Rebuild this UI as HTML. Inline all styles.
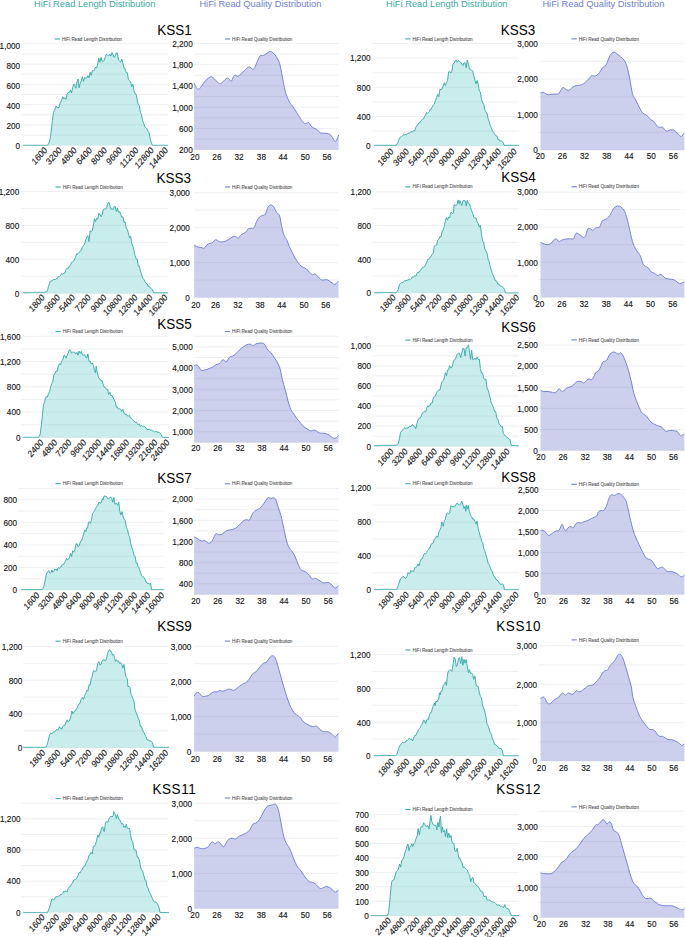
<!DOCTYPE html>
<html><head><meta charset="utf-8"><style>
html,body{margin:0;padding:0;background:#fff;}
body{width:685px;height:937px;overflow:hidden;}
svg{display:block;font-family:"Liberation Sans",sans-serif;}
.t{font-size:8.2px;fill:#111111;stroke:#111;stroke-width:0.12px;}
.lg{font-size:4.6px;fill:#4a4a4a;stroke:#4a4a4a;stroke-width:0.06px;}
.ti{font-size:13.5px;fill:#000;}
.hd{font-size:9.3px;}
</style></head><body>
<svg width="685" height="937" viewBox="0 0 685 937">
<text x="34" y="7.1" class="hd" fill="#3aa9a6">HiFi Read Length Distribution</text>
<text x="199.4" y="7.1" class="hd" fill="#6c7fd0">HiFi Read Quality Distribution</text>
<text x="386.1" y="7.1" class="hd" fill="#3aa9a6">HiFi Read Length Distribution</text>
<text x="542.4" y="7.1" class="hd" fill="#6c7fd0">HiFi Read Quality Distribution</text>
<text transform="translate(174.5,34.7) scale(1,1.15)" text-anchor="middle" class="ti">KSS1</text>
<text transform="translate(517.9,34.6) scale(1,1.15)" text-anchor="middle" class="ti">KSS3</text>
<text transform="translate(173.8,182.8) scale(1,1.15)" text-anchor="middle" class="ti">KSS3</text>
<text transform="translate(518.5,182.2) scale(1,1.15)" text-anchor="middle" class="ti">KSS4</text>
<text transform="translate(174.6,329.4) scale(1,1.15)" text-anchor="middle" class="ti">KSS5</text>
<text transform="translate(518.5,332.3) scale(1,1.15)" text-anchor="middle" class="ti">KSS6</text>
<text transform="translate(174.6,482.8) scale(1,1.15)" text-anchor="middle" class="ti">KSS7</text>
<text transform="translate(518.5,482.3) scale(1,1.15)" text-anchor="middle" class="ti">KSS8</text>
<text transform="translate(174.5,630.6) scale(1,1.15)" text-anchor="middle" class="ti">KSS9</text>
<text transform="translate(518.7,631.3) scale(1,1.15)" text-anchor="middle" class="ti" style="letter-spacing:0.55px">KSS10</text>
<text transform="translate(174.4,794.1) scale(1,1.15)" text-anchor="middle" class="ti" style="letter-spacing:0.55px">KSS11</text>
<text transform="translate(518.7,794.2) scale(1,1.15)" text-anchor="middle" class="ti" style="letter-spacing:0.55px">KSS12</text>
<line x1="21.3" x2="168.0" y1="43.70" y2="43.70" stroke="#f0f0f0" stroke-width="1"/>
<line x1="21.3" x2="168.0" y1="53.86" y2="53.86" stroke="#f0f0f0" stroke-width="1"/>
<line x1="21.3" x2="168.0" y1="64.02" y2="64.02" stroke="#f0f0f0" stroke-width="1"/>
<line x1="21.3" x2="168.0" y1="74.18" y2="74.18" stroke="#f0f0f0" stroke-width="1"/>
<line x1="21.3" x2="168.0" y1="84.34" y2="84.34" stroke="#f0f0f0" stroke-width="1"/>
<line x1="21.3" x2="168.0" y1="94.50" y2="94.50" stroke="#f0f0f0" stroke-width="1"/>
<line x1="21.3" x2="168.0" y1="104.66" y2="104.66" stroke="#f0f0f0" stroke-width="1"/>
<line x1="21.3" x2="168.0" y1="114.82" y2="114.82" stroke="#f0f0f0" stroke-width="1"/>
<line x1="21.3" x2="168.0" y1="124.98" y2="124.98" stroke="#f0f0f0" stroke-width="1"/>
<line x1="21.3" x2="168.0" y1="135.14" y2="135.14" stroke="#f0f0f0" stroke-width="1"/>
<line x1="21.3" x2="168.0" y1="145.30" y2="145.30" stroke="#f0f0f0" stroke-width="1"/>
<path d="M23.3,145.3 L23.3,145.3 L24.3,145.3 L25.3,145.3 L26.3,145.3 L27.3,145.3 L28.3,145.3 L29.3,145.3 L30.3,145.3 L31.3,145.3 L32.3,145.3 L33.3,145.3 L34.3,145.3 L35.3,145.3 L36.3,145.3 L37.3,145.3 L38.3,145.3 L39.3,145.3 L40.3,145.3 L41.4,145.3 L42.4,145.3 L43.4,145.3 L44.4,145.3 L45.4,145.3 L46.4,145.3 L47.4,145.3 L48.1,144.2 L48.9,143.5 L50.2,138.4 L51.3,130.0 L52.4,120.5 L53.5,112.3 L54.6,110.3 L55.4,107.7 L56.1,105.9 L57.1,107.7 L58.0,107.4 L59.0,107.7 L60.1,102.5 L60.8,102.1 L61.6,100.3 L62.7,96.8 L63.8,99.0 L64.9,97.6 L66.0,99.4 L67.1,94.1 L68.2,92.5 L69.3,92.4 L70.4,89.8 L71.5,93.0 L72.6,87.8 L73.6,84.3 L74.7,84.5 L75.8,88.3 L76.9,82.0 L78.0,79.0 L79.1,87.9 L80.2,83.0 L81.3,80.8 L82.4,76.7 L83.5,81.4 L84.6,77.3 L85.7,78.2 L86.8,78.1 L87.9,75.6 L89.0,77.9 L90.1,72.2 L91.2,75.3 L92.3,70.7 L93.4,70.9 L94.5,69.7 L95.5,67.1 L96.6,68.2 L97.7,63.8 L98.8,58.0 L99.9,62.3 L101.0,57.5 L102.1,61.3 L103.2,61.1 L104.3,60.4 L105.4,56.4 L106.5,54.1 L107.6,55.0 L108.7,55.8 L109.8,54.1 L110.9,56.1 L112.0,52.5 L113.1,54.9 L114.2,57.6 L115.3,55.8 L116.4,52.8 L117.4,53.0 L118.5,60.2 L119.6,61.2 L120.7,61.9 L121.8,59.2 L122.9,62.9 L124.0,68.2 L125.1,68.7 L126.2,72.4 L127.3,72.7 L128.4,79.6 L129.5,80.5 L130.6,82.1 L131.7,86.8 L132.8,84.1 L133.9,90.5 L135.0,93.5 L136.1,94.3 L137.2,99.9 L138.2,104.1 L139.3,105.6 L140.4,112.2 L141.5,114.7 L142.6,120.7 L143.7,123.3 L144.8,126.7 L145.9,127.9 L147.0,128.9 L148.1,131.4 L149.2,133.2 L150.3,139.4 L151.4,142.8 L152.5,145.3 L153.5,145.3 L154.5,145.3 L155.5,145.3 L156.6,145.3 L157.6,145.3 L158.6,145.3 L159.6,145.3 L160.7,145.3 L161.7,145.3 L162.7,145.3 L163.7,145.3 L164.7,145.3 L165.8,145.3 L166.8,145.3 L167.8,145.3 L167.8,145.3 Z" fill="rgba(75,192,192,0.3)" stroke="none"/>
<path d="M23.3,145.3 L24.3,145.3 L25.3,145.3 L26.3,145.3 L27.3,145.3 L28.3,145.3 L29.3,145.3 L30.3,145.3 L31.3,145.3 L32.3,145.3 L33.3,145.3 L34.3,145.3 L35.3,145.3 L36.3,145.3 L37.3,145.3 L38.3,145.3 L39.3,145.3 L40.3,145.3 L41.4,145.3 L42.4,145.3 L43.4,145.3 L44.4,145.3 L45.4,145.3 L46.4,145.3 L47.4,145.3 L48.1,144.2 L48.9,143.5 L50.2,138.4 L51.3,130.0 L52.4,120.5 L53.5,112.3 L54.6,110.3 L55.4,107.7 L56.1,105.9 L57.1,107.7 L58.0,107.4 L59.0,107.7 L60.1,102.5 L60.8,102.1 L61.6,100.3 L62.7,96.8 L63.8,99.0 L64.9,97.6 L66.0,99.4 L67.1,94.1 L68.2,92.5 L69.3,92.4 L70.4,89.8 L71.5,93.0 L72.6,87.8 L73.6,84.3 L74.7,84.5 L75.8,88.3 L76.9,82.0 L78.0,79.0 L79.1,87.9 L80.2,83.0 L81.3,80.8 L82.4,76.7 L83.5,81.4 L84.6,77.3 L85.7,78.2 L86.8,78.1 L87.9,75.6 L89.0,77.9 L90.1,72.2 L91.2,75.3 L92.3,70.7 L93.4,70.9 L94.5,69.7 L95.5,67.1 L96.6,68.2 L97.7,63.8 L98.8,58.0 L99.9,62.3 L101.0,57.5 L102.1,61.3 L103.2,61.1 L104.3,60.4 L105.4,56.4 L106.5,54.1 L107.6,55.0 L108.7,55.8 L109.8,54.1 L110.9,56.1 L112.0,52.5 L113.1,54.9 L114.2,57.6 L115.3,55.8 L116.4,52.8 L117.4,53.0 L118.5,60.2 L119.6,61.2 L120.7,61.9 L121.8,59.2 L122.9,62.9 L124.0,68.2 L125.1,68.7 L126.2,72.4 L127.3,72.7 L128.4,79.6 L129.5,80.5 L130.6,82.1 L131.7,86.8 L132.8,84.1 L133.9,90.5 L135.0,93.5 L136.1,94.3 L137.2,99.9 L138.2,104.1 L139.3,105.6 L140.4,112.2 L141.5,114.7 L142.6,120.7 L143.7,123.3 L144.8,126.7 L145.9,127.9 L147.0,128.9 L148.1,131.4 L149.2,133.2 L150.3,139.4 L151.4,142.8 L152.5,145.3 L153.5,145.3 L154.5,145.3 L155.5,145.3 L156.6,145.3 L157.6,145.3 L158.6,145.3 L159.6,145.3 L160.7,145.3 L161.7,145.3 L162.7,145.3 L163.7,145.3 L164.7,145.3 L165.8,145.3 L166.8,145.3 L167.8,145.3" fill="none" stroke="#3aaca9" stroke-width="0.95" stroke-linejoin="round"/>
<text transform="translate(20.1,49.34) scale(1,1.15)" text-anchor="end" class="t">1,000</text>
<text transform="translate(20.1,69.30) scale(1,1.15)" text-anchor="end" class="t">800</text>
<text transform="translate(20.1,89.27) scale(1,1.15)" text-anchor="end" class="t">600</text>
<text transform="translate(20.1,109.24) scale(1,1.15)" text-anchor="end" class="t">400</text>
<text transform="translate(20.1,129.22) scale(1,1.15)" text-anchor="end" class="t">200</text>
<text transform="translate(20.1,149.19) scale(1,1.15)" text-anchor="end" class="t">0</text>
<text transform="translate(47.8,150.7) scale(1,1.15) rotate(-45)" text-anchor="end" class="t">1600</text>
<text transform="translate(62.2,150.7) scale(1,1.15) rotate(-45)" text-anchor="end" class="t">3200</text>
<text transform="translate(77.2,150.7) scale(1,1.15) rotate(-45)" text-anchor="end" class="t">4800</text>
<text transform="translate(92.5,150.7) scale(1,1.15) rotate(-45)" text-anchor="end" class="t">6400</text>
<text transform="translate(107.5,150.7) scale(1,1.15) rotate(-45)" text-anchor="end" class="t">8000</text>
<text transform="translate(122.5,150.7) scale(1,1.15) rotate(-45)" text-anchor="end" class="t">9600</text>
<text transform="translate(139.0,150.7) scale(1,1.15) rotate(-45)" text-anchor="end" class="t">11200</text>
<text transform="translate(154.2,150.7) scale(1,1.15) rotate(-45)" text-anchor="end" class="t">12800</text>
<text transform="translate(168.5,150.7) scale(1,1.15) rotate(-45)" text-anchor="end" class="t">14400</text>
<line x1="54.8" x2="60.0" y1="39.0" y2="39.0" stroke="#3aaca9" stroke-width="1.1"/>
<text x="62.0" y="40.6" class="lg">HiFi Read Length Distribution</text>
<line x1="194.1" x2="338.7" y1="43.40" y2="43.40" stroke="#f0f0f0" stroke-width="1"/>
<line x1="194.1" x2="338.7" y1="54.04" y2="54.04" stroke="#f0f0f0" stroke-width="1"/>
<line x1="194.1" x2="338.7" y1="64.68" y2="64.68" stroke="#f0f0f0" stroke-width="1"/>
<line x1="194.1" x2="338.7" y1="75.32" y2="75.32" stroke="#f0f0f0" stroke-width="1"/>
<line x1="194.1" x2="338.7" y1="85.96" y2="85.96" stroke="#f0f0f0" stroke-width="1"/>
<line x1="194.1" x2="338.7" y1="96.60" y2="96.60" stroke="#f0f0f0" stroke-width="1"/>
<line x1="194.1" x2="338.7" y1="107.24" y2="107.24" stroke="#f0f0f0" stroke-width="1"/>
<line x1="194.1" x2="338.7" y1="117.88" y2="117.88" stroke="#f0f0f0" stroke-width="1"/>
<line x1="194.1" x2="338.7" y1="128.52" y2="128.52" stroke="#f0f0f0" stroke-width="1"/>
<line x1="194.1" x2="338.7" y1="139.16" y2="139.16" stroke="#f0f0f0" stroke-width="1"/>
<line x1="194.1" x2="338.7" y1="149.80" y2="149.80" stroke="#f0f0f0" stroke-width="1"/>
<path d="M194.1,149.8 L194.07,82.99 C194.45,83.75 195.58,86.46 196.34,87.52 C197.09,88.57 197.77,89.52 198.60,89.33 C199.43,89.14 200.11,87.90 201.31,86.39 C202.52,84.88 204.33,81.86 205.84,80.28 C207.35,78.69 209.23,77.37 210.36,76.88 C211.50,76.39 211.68,76.69 212.63,77.34 C213.57,77.98 214.89,79.67 216.02,80.73 C217.15,81.79 218.47,83.29 219.42,83.67 C220.36,84.05 220.74,83.67 221.68,82.99 C222.62,82.31 224.13,80.43 225.07,79.60 C226.02,78.77 226.58,78.01 227.34,78.01 C228.09,78.01 228.92,79.07 229.60,79.60 C230.28,80.13 230.77,81.67 231.41,81.18 C232.05,80.69 232.80,77.68 233.45,76.66 C234.09,75.64 234.58,75.15 235.26,75.07 C235.93,75.00 236.76,76.20 237.52,76.20 C238.27,76.20 238.84,75.83 239.78,75.07 C240.72,74.32 241.86,72.92 243.18,71.68 C244.50,70.43 246.57,68.36 247.70,67.61 C248.83,66.85 249.21,66.93 249.96,67.15 C250.72,67.38 251.47,68.77 252.23,68.96 C252.98,69.15 253.73,69.34 254.49,68.28 C255.24,67.23 255.81,64.70 256.75,62.63 C257.69,60.55 259.01,57.05 260.15,55.84 C261.28,54.63 262.60,55.69 263.54,55.39 C264.48,55.09 264.86,54.63 265.80,54.03 C266.75,53.43 268.25,52.14 269.20,51.77 C270.14,51.39 270.52,51.28 271.46,51.77 C272.40,52.26 273.91,53.65 274.85,54.71 C275.80,55.76 276.36,56.78 277.12,58.10 C277.87,59.42 278.63,60.18 279.38,62.63 C280.13,65.08 280.89,69.04 281.64,72.81 C282.40,76.58 283.15,81.67 283.91,85.26 C284.66,88.84 285.23,91.48 286.17,94.31 C287.11,97.14 288.43,100.15 289.56,102.23 C290.69,104.30 291.82,105.13 292.96,106.75 C294.09,108.37 295.03,109.88 296.35,111.96 C297.67,114.03 299.56,117.31 300.88,119.20 C302.20,121.08 303.33,122.59 304.27,123.27 C305.21,123.95 305.78,123.38 306.53,123.27 C307.29,123.16 308.04,122.14 308.80,122.59 C309.55,123.04 310.30,125.12 311.06,125.99 C311.81,126.85 312.38,127.23 313.32,127.80 C314.26,128.36 315.58,128.55 316.72,129.38 C317.85,130.21 318.98,132.13 320.11,132.77 C321.24,133.41 322.37,133.11 323.50,133.23 C324.64,133.34 325.77,133.23 326.90,133.45 C328.03,133.68 329.35,133.87 330.29,134.58 C331.23,135.30 331.80,136.62 332.55,137.75 C333.31,138.88 334.14,141.00 334.82,141.37 C335.50,141.75 335.99,141.07 336.63,140.01 C337.27,138.96 338.32,135.87 338.66,135.04 L338.7,149.8 Z" fill="rgba(85,98,195,0.3)" stroke="none"/>
<path d="M194.07,82.99 C194.45,83.75 195.58,86.46 196.34,87.52 C197.09,88.57 197.77,89.52 198.60,89.33 C199.43,89.14 200.11,87.90 201.31,86.39 C202.52,84.88 204.33,81.86 205.84,80.28 C207.35,78.69 209.23,77.37 210.36,76.88 C211.50,76.39 211.68,76.69 212.63,77.34 C213.57,77.98 214.89,79.67 216.02,80.73 C217.15,81.79 218.47,83.29 219.42,83.67 C220.36,84.05 220.74,83.67 221.68,82.99 C222.62,82.31 224.13,80.43 225.07,79.60 C226.02,78.77 226.58,78.01 227.34,78.01 C228.09,78.01 228.92,79.07 229.60,79.60 C230.28,80.13 230.77,81.67 231.41,81.18 C232.05,80.69 232.80,77.68 233.45,76.66 C234.09,75.64 234.58,75.15 235.26,75.07 C235.93,75.00 236.76,76.20 237.52,76.20 C238.27,76.20 238.84,75.83 239.78,75.07 C240.72,74.32 241.86,72.92 243.18,71.68 C244.50,70.43 246.57,68.36 247.70,67.61 C248.83,66.85 249.21,66.93 249.96,67.15 C250.72,67.38 251.47,68.77 252.23,68.96 C252.98,69.15 253.73,69.34 254.49,68.28 C255.24,67.23 255.81,64.70 256.75,62.63 C257.69,60.55 259.01,57.05 260.15,55.84 C261.28,54.63 262.60,55.69 263.54,55.39 C264.48,55.09 264.86,54.63 265.80,54.03 C266.75,53.43 268.25,52.14 269.20,51.77 C270.14,51.39 270.52,51.28 271.46,51.77 C272.40,52.26 273.91,53.65 274.85,54.71 C275.80,55.76 276.36,56.78 277.12,58.10 C277.87,59.42 278.63,60.18 279.38,62.63 C280.13,65.08 280.89,69.04 281.64,72.81 C282.40,76.58 283.15,81.67 283.91,85.26 C284.66,88.84 285.23,91.48 286.17,94.31 C287.11,97.14 288.43,100.15 289.56,102.23 C290.69,104.30 291.82,105.13 292.96,106.75 C294.09,108.37 295.03,109.88 296.35,111.96 C297.67,114.03 299.56,117.31 300.88,119.20 C302.20,121.08 303.33,122.59 304.27,123.27 C305.21,123.95 305.78,123.38 306.53,123.27 C307.29,123.16 308.04,122.14 308.80,122.59 C309.55,123.04 310.30,125.12 311.06,125.99 C311.81,126.85 312.38,127.23 313.32,127.80 C314.26,128.36 315.58,128.55 316.72,129.38 C317.85,130.21 318.98,132.13 320.11,132.77 C321.24,133.41 322.37,133.11 323.50,133.23 C324.64,133.34 325.77,133.23 326.90,133.45 C328.03,133.68 329.35,133.87 330.29,134.58 C331.23,135.30 331.80,136.62 332.55,137.75 C333.31,138.88 334.14,141.00 334.82,141.37 C335.50,141.75 335.99,141.07 336.63,140.01 C337.27,138.96 338.32,135.87 338.66,135.04" fill="none" stroke="#6e80d3" stroke-width="0.95" stroke-linejoin="round"/>
<text transform="translate(192.7,46.74) scale(1,1.15)" text-anchor="end" class="t">2,200</text>
<text transform="translate(192.7,68.02) scale(1,1.15)" text-anchor="end" class="t">1,800</text>
<text transform="translate(192.7,89.30) scale(1,1.15)" text-anchor="end" class="t">1,400</text>
<text transform="translate(192.7,110.58) scale(1,1.15)" text-anchor="end" class="t">1,000</text>
<text transform="translate(192.7,131.86) scale(1,1.15)" text-anchor="end" class="t">600</text>
<text transform="translate(192.7,153.14) scale(1,1.15)" text-anchor="end" class="t">200</text>
<text transform="translate(194.9,159.88) scale(1,1.15)" text-anchor="middle" class="t">20</text>
<text transform="translate(216.9,159.88) scale(1,1.15)" text-anchor="middle" class="t">26</text>
<text transform="translate(239.0,159.88) scale(1,1.15)" text-anchor="middle" class="t">32</text>
<text transform="translate(261.4,159.88) scale(1,1.15)" text-anchor="middle" class="t">38</text>
<text transform="translate(283.1,159.88) scale(1,1.15)" text-anchor="middle" class="t">44</text>
<text transform="translate(305.3,159.88) scale(1,1.15)" text-anchor="middle" class="t">50</text>
<text transform="translate(327.0,159.88) scale(1,1.15)" text-anchor="middle" class="t">56</text>
<line x1="224.9" x2="230.1" y1="39.0" y2="39.0" stroke="#6e80d3" stroke-width="1.1"/>
<text x="232.1" y="40.6" class="lg">HiFi Read Quality Distribution</text>
<line x1="372.6" x2="518.7" y1="43.50" y2="43.50" stroke="#f0f0f0" stroke-width="1"/>
<line x1="372.6" x2="518.7" y1="58.10" y2="58.10" stroke="#f0f0f0" stroke-width="1"/>
<line x1="372.6" x2="518.7" y1="72.70" y2="72.70" stroke="#f0f0f0" stroke-width="1"/>
<line x1="372.6" x2="518.7" y1="87.30" y2="87.30" stroke="#f0f0f0" stroke-width="1"/>
<line x1="372.6" x2="518.7" y1="101.90" y2="101.90" stroke="#f0f0f0" stroke-width="1"/>
<line x1="372.6" x2="518.7" y1="116.50" y2="116.50" stroke="#f0f0f0" stroke-width="1"/>
<line x1="372.6" x2="518.7" y1="131.10" y2="131.10" stroke="#f0f0f0" stroke-width="1"/>
<line x1="372.6" x2="518.7" y1="145.70" y2="145.70" stroke="#f0f0f0" stroke-width="1"/>
<path d="M374.2,145.7 L374.2,145.3 L375.2,145.3 L376.2,145.3 L377.2,145.3 L378.2,145.3 L379.2,145.3 L380.2,145.3 L381.2,145.3 L382.2,145.3 L383.1,145.3 L384.1,145.3 L385.1,145.3 L386.1,145.3 L387.1,145.3 L388.1,145.3 L389.1,145.3 L390.1,145.3 L391.1,145.3 L392.1,145.3 L393.1,145.3 L394.1,145.3 L395.1,145.3 L396.1,145.3 L397.0,144.0 L397.8,142.6 L398.6,140.4 L399.4,138.3 L400.5,137.0 L401.6,136.6 L402.7,135.4 L403.8,134.5 L404.8,135.0 L405.9,134.4 L407.0,134.4 L408.1,133.1 L409.2,133.1 L410.3,132.6 L411.4,131.1 L412.5,132.1 L413.6,130.6 L414.7,130.8 L415.8,127.4 L416.9,125.5 L418.0,124.6 L419.1,122.5 L420.2,122.4 L421.3,120.4 L422.4,119.6 L423.5,119.0 L424.6,116.5 L425.6,114.8 L426.7,112.3 L427.6,113.5 L428.5,112.5 L429.3,111.7 L430.0,109.4 L431.1,109.4 L432.2,106.9 L433.3,105.0 L434.4,104.0 L435.5,100.1 L436.6,97.7 L437.7,94.2 L438.8,96.7 L439.9,89.3 L441.0,89.7 L442.1,88.9 L443.2,86.1 L444.3,82.7 L445.4,85.5 L446.5,82.2 L447.5,80.8 L448.6,71.9 L449.7,71.2 L450.8,73.0 L451.9,71.2 L453.0,64.1 L454.1,63.0 L455.2,60.9 L456.3,60.2 L457.4,62.4 L458.5,60.5 L459.6,61.4 L460.7,62.1 L461.8,64.1 L462.9,65.7 L464.0,62.8 L465.1,62.9 L466.2,67.8 L467.3,60.0 L468.4,64.1 L469.4,69.1 L470.5,69.5 L471.6,70.4 L472.7,70.9 L473.8,75.6 L474.9,80.3 L476.0,83.9 L477.1,80.5 L478.2,84.3 L479.3,91.1 L480.4,92.0 L481.5,99.3 L482.6,102.8 L483.7,104.3 L484.8,109.7 L485.9,111.8 L487.0,113.0 L488.1,118.8 L489.2,121.4 L490.2,125.1 L491.3,127.7 L492.4,131.0 L493.5,132.2 L494.6,133.8 L495.7,135.7 L496.8,136.0 L497.9,139.4 L499.0,139.3 L500.1,141.1 L501.2,141.0 L502.3,141.6 L503.4,143.0 L504.0,145.3 L505.0,145.3 L506.0,145.3 L507.0,145.3 L508.0,145.3 L508.9,145.3 L509.9,145.3 L510.9,145.3 L511.9,145.3 L512.8,145.3 L513.8,145.3 L514.8,145.3 L515.8,145.3 L516.8,145.3 L517.7,145.3 L518.7,145.3 L518.7,145.7 Z" fill="rgba(75,192,192,0.3)" stroke="none"/>
<path d="M374.2,145.3 L375.2,145.3 L376.2,145.3 L377.2,145.3 L378.2,145.3 L379.2,145.3 L380.2,145.3 L381.2,145.3 L382.2,145.3 L383.1,145.3 L384.1,145.3 L385.1,145.3 L386.1,145.3 L387.1,145.3 L388.1,145.3 L389.1,145.3 L390.1,145.3 L391.1,145.3 L392.1,145.3 L393.1,145.3 L394.1,145.3 L395.1,145.3 L396.1,145.3 L397.0,144.0 L397.8,142.6 L398.6,140.4 L399.4,138.3 L400.5,137.0 L401.6,136.6 L402.7,135.4 L403.8,134.5 L404.8,135.0 L405.9,134.4 L407.0,134.4 L408.1,133.1 L409.2,133.1 L410.3,132.6 L411.4,131.1 L412.5,132.1 L413.6,130.6 L414.7,130.8 L415.8,127.4 L416.9,125.5 L418.0,124.6 L419.1,122.5 L420.2,122.4 L421.3,120.4 L422.4,119.6 L423.5,119.0 L424.6,116.5 L425.6,114.8 L426.7,112.3 L427.6,113.5 L428.5,112.5 L429.3,111.7 L430.0,109.4 L431.1,109.4 L432.2,106.9 L433.3,105.0 L434.4,104.0 L435.5,100.1 L436.6,97.7 L437.7,94.2 L438.8,96.7 L439.9,89.3 L441.0,89.7 L442.1,88.9 L443.2,86.1 L444.3,82.7 L445.4,85.5 L446.5,82.2 L447.5,80.8 L448.6,71.9 L449.7,71.2 L450.8,73.0 L451.9,71.2 L453.0,64.1 L454.1,63.0 L455.2,60.9 L456.3,60.2 L457.4,62.4 L458.5,60.5 L459.6,61.4 L460.7,62.1 L461.8,64.1 L462.9,65.7 L464.0,62.8 L465.1,62.9 L466.2,67.8 L467.3,60.0 L468.4,64.1 L469.4,69.1 L470.5,69.5 L471.6,70.4 L472.7,70.9 L473.8,75.6 L474.9,80.3 L476.0,83.9 L477.1,80.5 L478.2,84.3 L479.3,91.1 L480.4,92.0 L481.5,99.3 L482.6,102.8 L483.7,104.3 L484.8,109.7 L485.9,111.8 L487.0,113.0 L488.1,118.8 L489.2,121.4 L490.2,125.1 L491.3,127.7 L492.4,131.0 L493.5,132.2 L494.6,133.8 L495.7,135.7 L496.8,136.0 L497.9,139.4 L499.0,139.3 L500.1,141.1 L501.2,141.0 L502.3,141.6 L503.4,143.0 L504.0,145.3 L505.0,145.3 L506.0,145.3 L507.0,145.3 L508.0,145.3 L508.9,145.3 L509.9,145.3 L510.9,145.3 L511.9,145.3 L512.8,145.3 L513.8,145.3 L514.8,145.3 L515.8,145.3 L516.8,145.3 L517.7,145.3 L518.7,145.3" fill="none" stroke="#3aaca9" stroke-width="0.95" stroke-linejoin="round"/>
<text transform="translate(370.5,61.43) scale(1,1.15)" text-anchor="end" class="t">1,200</text>
<text transform="translate(370.5,90.63) scale(1,1.15)" text-anchor="end" class="t">800</text>
<text transform="translate(370.5,119.83) scale(1,1.15)" text-anchor="end" class="t">400</text>
<text transform="translate(370.5,149.03) scale(1,1.15)" text-anchor="end" class="t">0</text>
<text transform="translate(394.0,152.0) scale(1,1.15) rotate(-45)" text-anchor="end" class="t">1800</text>
<text transform="translate(409.4,152.0) scale(1,1.15) rotate(-45)" text-anchor="end" class="t">3600</text>
<text transform="translate(424.7,152.0) scale(1,1.15) rotate(-45)" text-anchor="end" class="t">5400</text>
<text transform="translate(439.5,152.0) scale(1,1.15) rotate(-45)" text-anchor="end" class="t">7200</text>
<text transform="translate(454.9,152.0) scale(1,1.15) rotate(-45)" text-anchor="end" class="t">9000</text>
<text transform="translate(470.7,152.0) scale(1,1.15) rotate(-45)" text-anchor="end" class="t">10800</text>
<text transform="translate(487.3,152.0) scale(1,1.15) rotate(-45)" text-anchor="end" class="t">12600</text>
<text transform="translate(501.4,152.0) scale(1,1.15) rotate(-45)" text-anchor="end" class="t">14400</text>
<text transform="translate(517.2,152.0) scale(1,1.15) rotate(-45)" text-anchor="end" class="t">16200</text>
<line x1="405.3" x2="410.5" y1="38.9" y2="38.9" stroke="#3aaca9" stroke-width="1.1"/>
<text x="412.5" y="40.5" class="lg">HiFi Read Length Distribution</text>
<line x1="538.6" x2="685.0" y1="43.60" y2="43.60" stroke="#f0f0f0" stroke-width="1"/>
<line x1="538.6" x2="685.0" y1="61.35" y2="61.35" stroke="#f0f0f0" stroke-width="1"/>
<line x1="538.6" x2="685.0" y1="79.10" y2="79.10" stroke="#f0f0f0" stroke-width="1"/>
<line x1="538.6" x2="685.0" y1="96.85" y2="96.85" stroke="#f0f0f0" stroke-width="1"/>
<line x1="538.6" x2="685.0" y1="114.60" y2="114.60" stroke="#f0f0f0" stroke-width="1"/>
<line x1="538.6" x2="685.0" y1="132.35" y2="132.35" stroke="#f0f0f0" stroke-width="1"/>
<line x1="538.6" x2="685.0" y1="150.10" y2="150.10" stroke="#f0f0f0" stroke-width="1"/>
<path d="M540.5,150.1 L540.47,93.05 C540.91,92.92 542.23,92.18 543.10,92.26 C543.98,92.35 544.85,93.14 545.73,93.58 C546.61,94.01 547.26,94.80 548.36,94.89 C549.45,94.98 550.99,94.23 552.30,94.10 C553.61,93.97 555.15,94.19 556.24,94.10 C557.34,94.01 558.12,94.19 558.87,93.58 C559.61,92.96 560.05,91.43 560.71,90.42 C561.36,89.42 562.02,87.80 562.81,87.53 C563.60,87.27 564.56,88.36 565.44,88.85 C566.31,89.33 567.28,90.29 568.07,90.42 C568.85,90.55 569.38,90.20 570.17,89.64 C570.96,89.07 571.83,87.66 572.80,87.01 C573.76,86.35 574.77,86.00 575.95,85.69 C577.13,85.39 578.80,85.39 579.89,85.17 C580.99,84.95 581.64,84.82 582.52,84.38 C583.39,83.94 584.14,83.42 585.15,82.54 C586.15,81.66 587.47,80.26 588.56,79.12 C589.66,77.99 590.75,76.23 591.72,75.71 C592.68,75.18 593.47,76.06 594.34,75.97 C595.22,75.88 596.09,75.75 596.97,75.18 C597.85,74.61 598.72,73.74 599.60,72.55 C600.47,71.37 601.35,69.18 602.23,68.09 C603.10,66.99 604.07,66.77 604.85,65.99 C605.64,65.20 606.30,64.67 606.96,63.36 C607.61,62.04 608.05,59.72 608.80,58.10 C609.54,56.48 610.55,54.64 611.42,53.64 C612.30,52.63 613.18,52.06 614.05,52.06 C614.93,52.06 615.58,52.85 616.68,53.64 C617.77,54.42 619.31,55.61 620.62,56.79 C621.93,57.97 623.47,58.98 624.56,60.73 C625.66,62.48 626.31,64.23 627.19,67.30 C628.07,70.36 628.94,74.74 629.82,79.12 C630.69,83.50 631.57,90.29 632.45,93.58 C633.32,96.86 634.20,97.08 635.07,98.83 C635.95,100.58 636.82,102.34 637.70,104.09 C638.58,105.84 639.45,107.81 640.33,109.34 C641.20,110.88 642.08,112.41 642.96,113.28 C643.83,114.16 644.71,114.03 645.58,114.60 C646.46,115.17 647.34,115.82 648.21,116.70 C649.09,117.58 649.96,119.11 650.84,119.85 C651.72,120.60 652.59,120.38 653.47,121.17 C654.34,121.96 655.22,123.58 656.09,124.58 C656.97,125.59 657.63,126.77 658.72,127.21 C659.82,127.65 661.57,126.69 662.66,127.21 C663.76,127.74 664.50,129.71 665.29,130.36 C666.08,131.02 666.52,131.24 667.39,131.15 C668.27,131.07 669.36,129.97 670.55,129.84 C671.73,129.71 673.39,129.84 674.49,130.36 C675.58,130.89 676.24,132.12 677.12,132.99 C677.99,133.87 679.00,135.05 679.74,135.62 C680.49,136.19 680.93,136.76 681.58,136.41 C682.24,136.06 682.90,134.18 683.69,133.52 C684.47,132.86 685.88,132.64 686.31,132.47 L686.3,150.1 Z" fill="rgba(85,98,195,0.3)" stroke="none"/>
<path d="M540.47,93.05 C540.91,92.92 542.23,92.18 543.10,92.26 C543.98,92.35 544.85,93.14 545.73,93.58 C546.61,94.01 547.26,94.80 548.36,94.89 C549.45,94.98 550.99,94.23 552.30,94.10 C553.61,93.97 555.15,94.19 556.24,94.10 C557.34,94.01 558.12,94.19 558.87,93.58 C559.61,92.96 560.05,91.43 560.71,90.42 C561.36,89.42 562.02,87.80 562.81,87.53 C563.60,87.27 564.56,88.36 565.44,88.85 C566.31,89.33 567.28,90.29 568.07,90.42 C568.85,90.55 569.38,90.20 570.17,89.64 C570.96,89.07 571.83,87.66 572.80,87.01 C573.76,86.35 574.77,86.00 575.95,85.69 C577.13,85.39 578.80,85.39 579.89,85.17 C580.99,84.95 581.64,84.82 582.52,84.38 C583.39,83.94 584.14,83.42 585.15,82.54 C586.15,81.66 587.47,80.26 588.56,79.12 C589.66,77.99 590.75,76.23 591.72,75.71 C592.68,75.18 593.47,76.06 594.34,75.97 C595.22,75.88 596.09,75.75 596.97,75.18 C597.85,74.61 598.72,73.74 599.60,72.55 C600.47,71.37 601.35,69.18 602.23,68.09 C603.10,66.99 604.07,66.77 604.85,65.99 C605.64,65.20 606.30,64.67 606.96,63.36 C607.61,62.04 608.05,59.72 608.80,58.10 C609.54,56.48 610.55,54.64 611.42,53.64 C612.30,52.63 613.18,52.06 614.05,52.06 C614.93,52.06 615.58,52.85 616.68,53.64 C617.77,54.42 619.31,55.61 620.62,56.79 C621.93,57.97 623.47,58.98 624.56,60.73 C625.66,62.48 626.31,64.23 627.19,67.30 C628.07,70.36 628.94,74.74 629.82,79.12 C630.69,83.50 631.57,90.29 632.45,93.58 C633.32,96.86 634.20,97.08 635.07,98.83 C635.95,100.58 636.82,102.34 637.70,104.09 C638.58,105.84 639.45,107.81 640.33,109.34 C641.20,110.88 642.08,112.41 642.96,113.28 C643.83,114.16 644.71,114.03 645.58,114.60 C646.46,115.17 647.34,115.82 648.21,116.70 C649.09,117.58 649.96,119.11 650.84,119.85 C651.72,120.60 652.59,120.38 653.47,121.17 C654.34,121.96 655.22,123.58 656.09,124.58 C656.97,125.59 657.63,126.77 658.72,127.21 C659.82,127.65 661.57,126.69 662.66,127.21 C663.76,127.74 664.50,129.71 665.29,130.36 C666.08,131.02 666.52,131.24 667.39,131.15 C668.27,131.07 669.36,129.97 670.55,129.84 C671.73,129.71 673.39,129.84 674.49,130.36 C675.58,130.89 676.24,132.12 677.12,132.99 C677.99,133.87 679.00,135.05 679.74,135.62 C680.49,136.19 680.93,136.76 681.58,136.41 C682.24,136.06 682.90,134.18 683.69,133.52 C684.47,132.86 685.88,132.64 686.31,132.47" fill="none" stroke="#6e80d3" stroke-width="0.95" stroke-linejoin="round"/>
<text transform="translate(537.8,46.93) scale(1,1.15)" text-anchor="end" class="t">3,000</text>
<text transform="translate(537.8,82.43) scale(1,1.15)" text-anchor="end" class="t">2,000</text>
<text transform="translate(537.8,117.93) scale(1,1.15)" text-anchor="end" class="t">1,000</text>
<text transform="translate(537.8,153.44) scale(1,1.15)" text-anchor="end" class="t">0</text>
<text transform="translate(540.2,159.07) scale(1,1.15)" text-anchor="middle" class="t">20</text>
<text transform="translate(562.4,159.07) scale(1,1.15)" text-anchor="middle" class="t">26</text>
<text transform="translate(584.6,159.07) scale(1,1.15)" text-anchor="middle" class="t">32</text>
<text transform="translate(606.8,159.07) scale(1,1.15)" text-anchor="middle" class="t">38</text>
<text transform="translate(629.0,159.07) scale(1,1.15)" text-anchor="middle" class="t">44</text>
<text transform="translate(651.2,159.07) scale(1,1.15)" text-anchor="middle" class="t">50</text>
<text transform="translate(673.4,159.07) scale(1,1.15)" text-anchor="middle" class="t">56</text>
<line x1="571.5" x2="576.7" y1="38.9" y2="38.9" stroke="#6e80d3" stroke-width="1.1"/>
<text x="578.7" y="40.5" class="lg">HiFi Read Quality Distribution</text>
<line x1="21.0" x2="168.2" y1="191.50" y2="191.50" stroke="#f0f0f0" stroke-width="1"/>
<line x1="21.0" x2="168.2" y1="208.45" y2="208.45" stroke="#f0f0f0" stroke-width="1"/>
<line x1="21.0" x2="168.2" y1="225.40" y2="225.40" stroke="#f0f0f0" stroke-width="1"/>
<line x1="21.0" x2="168.2" y1="242.35" y2="242.35" stroke="#f0f0f0" stroke-width="1"/>
<line x1="21.0" x2="168.2" y1="259.30" y2="259.30" stroke="#f0f0f0" stroke-width="1"/>
<line x1="21.0" x2="168.2" y1="276.25" y2="276.25" stroke="#f0f0f0" stroke-width="1"/>
<line x1="21.0" x2="168.2" y1="293.20" y2="293.20" stroke="#f0f0f0" stroke-width="1"/>
<path d="M23.3,293.2 L23.3,292.7 L24.3,292.7 L25.3,292.7 L26.4,292.7 L27.4,292.6 L28.4,292.6 L29.4,292.6 L30.5,292.5 L31.5,292.5 L32.5,292.5 L33.5,292.5 L34.6,292.4 L35.6,292.4 L36.6,292.4 L37.7,292.4 L38.7,292.3 L39.7,292.3 L40.6,292.3 L41.6,292.3 L42.5,292.3 L43.5,292.3 L44.4,292.3 L45.3,292.3 L46.3,292.3 L47.4,290.6 L48.5,286.5 L49.3,283.8 L50.2,281.3 L51.1,280.7 L52.0,281.2 L52.8,280.2 L53.9,279.2 L55.0,279.7 L56.1,278.9 L57.2,278.5 L58.3,276.6 L59.4,276.5 L60.5,275.6 L61.6,273.5 L62.7,274.2 L63.8,272.9 L64.9,273.2 L66.0,269.5 L67.1,268.1 L68.2,268.4 L69.3,266.2 L70.4,265.4 L71.5,262.3 L72.6,261.9 L73.6,261.2 L74.7,259.2 L75.8,256.3 L76.6,253.7 L77.4,254.5 L78.2,253.0 L79.1,252.7 L80.2,251.0 L81.3,250.5 L82.4,247.3 L83.5,245.5 L84.6,244.3 L85.7,239.9 L86.8,237.0 L87.9,235.7 L89.0,241.6 L90.1,230.8 L91.2,231.5 L92.3,230.9 L93.4,225.0 L94.5,218.5 L95.5,221.7 L96.6,218.2 L97.7,219.1 L98.8,213.4 L99.9,214.3 L101.0,216.8 L102.1,214.9 L103.2,209.5 L104.3,208.9 L105.4,209.0 L106.5,208.3 L107.6,203.9 L108.7,202.0 L109.8,205.1 L110.9,209.1 L112.0,209.0 L113.1,209.4 L114.2,206.5 L115.3,206.6 L116.4,211.6 L117.4,208.1 L118.5,212.2 L119.6,211.7 L120.7,214.3 L121.8,217.4 L122.9,216.8 L124.0,222.6 L125.1,221.8 L126.2,227.7 L127.3,229.7 L128.4,233.0 L129.5,238.1 L130.6,236.2 L131.7,243.0 L132.8,246.5 L133.9,250.2 L135.0,255.6 L136.1,258.8 L137.2,258.9 L138.2,265.8 L139.3,266.1 L140.4,271.0 L141.5,274.1 L142.6,278.0 L143.7,279.2 L144.8,281.3 L145.9,283.2 L147.0,283.6 L148.1,286.4 L149.2,286.3 L150.3,288.1 L151.4,288.6 L152.5,289.8 L153.6,292.7 L154.6,292.7 L155.6,292.7 L156.6,292.7 L157.6,292.7 L158.7,292.7 L159.7,292.7 L160.7,292.7 L161.7,292.7 L162.7,292.7 L163.7,292.7 L164.8,292.7 L165.8,292.7 L166.8,292.7 L167.8,292.7 L167.8,293.2 Z" fill="rgba(75,192,192,0.3)" stroke="none"/>
<path d="M23.3,292.7 L24.3,292.7 L25.3,292.7 L26.4,292.7 L27.4,292.6 L28.4,292.6 L29.4,292.6 L30.5,292.5 L31.5,292.5 L32.5,292.5 L33.5,292.5 L34.6,292.4 L35.6,292.4 L36.6,292.4 L37.7,292.4 L38.7,292.3 L39.7,292.3 L40.6,292.3 L41.6,292.3 L42.5,292.3 L43.5,292.3 L44.4,292.3 L45.3,292.3 L46.3,292.3 L47.4,290.6 L48.5,286.5 L49.3,283.8 L50.2,281.3 L51.1,280.7 L52.0,281.2 L52.8,280.2 L53.9,279.2 L55.0,279.7 L56.1,278.9 L57.2,278.5 L58.3,276.6 L59.4,276.5 L60.5,275.6 L61.6,273.5 L62.7,274.2 L63.8,272.9 L64.9,273.2 L66.0,269.5 L67.1,268.1 L68.2,268.4 L69.3,266.2 L70.4,265.4 L71.5,262.3 L72.6,261.9 L73.6,261.2 L74.7,259.2 L75.8,256.3 L76.6,253.7 L77.4,254.5 L78.2,253.0 L79.1,252.7 L80.2,251.0 L81.3,250.5 L82.4,247.3 L83.5,245.5 L84.6,244.3 L85.7,239.9 L86.8,237.0 L87.9,235.7 L89.0,241.6 L90.1,230.8 L91.2,231.5 L92.3,230.9 L93.4,225.0 L94.5,218.5 L95.5,221.7 L96.6,218.2 L97.7,219.1 L98.8,213.4 L99.9,214.3 L101.0,216.8 L102.1,214.9 L103.2,209.5 L104.3,208.9 L105.4,209.0 L106.5,208.3 L107.6,203.9 L108.7,202.0 L109.8,205.1 L110.9,209.1 L112.0,209.0 L113.1,209.4 L114.2,206.5 L115.3,206.6 L116.4,211.6 L117.4,208.1 L118.5,212.2 L119.6,211.7 L120.7,214.3 L121.8,217.4 L122.9,216.8 L124.0,222.6 L125.1,221.8 L126.2,227.7 L127.3,229.7 L128.4,233.0 L129.5,238.1 L130.6,236.2 L131.7,243.0 L132.8,246.5 L133.9,250.2 L135.0,255.6 L136.1,258.8 L137.2,258.9 L138.2,265.8 L139.3,266.1 L140.4,271.0 L141.5,274.1 L142.6,278.0 L143.7,279.2 L144.8,281.3 L145.9,283.2 L147.0,283.6 L148.1,286.4 L149.2,286.3 L150.3,288.1 L151.4,288.6 L152.5,289.8 L153.6,292.7 L154.6,292.7 L155.6,292.7 L156.6,292.7 L157.6,292.7 L158.7,292.7 L159.7,292.7 L160.7,292.7 L161.7,292.7 L162.7,292.7 L163.7,292.7 L164.8,292.7 L165.8,292.7 L166.8,292.7 L167.8,292.7" fill="none" stroke="#3aaca9" stroke-width="0.95" stroke-linejoin="round"/>
<text transform="translate(19.2,194.84) scale(1,1.15)" text-anchor="end" class="t">1,200</text>
<text transform="translate(19.2,228.74) scale(1,1.15)" text-anchor="end" class="t">800</text>
<text transform="translate(19.2,262.63) scale(1,1.15)" text-anchor="end" class="t">400</text>
<text transform="translate(19.2,296.53) scale(1,1.15)" text-anchor="end" class="t">0</text>
<text transform="translate(45.2,298.0) scale(1,1.15) rotate(-45)" text-anchor="end" class="t">1800</text>
<text transform="translate(60.4,298.0) scale(1,1.15) rotate(-45)" text-anchor="end" class="t">3600</text>
<text transform="translate(75.4,298.0) scale(1,1.15) rotate(-45)" text-anchor="end" class="t">5400</text>
<text transform="translate(91.1,298.0) scale(1,1.15) rotate(-45)" text-anchor="end" class="t">7200</text>
<text transform="translate(106.9,298.0) scale(1,1.15) rotate(-45)" text-anchor="end" class="t">9000</text>
<text transform="translate(122.7,298.0) scale(1,1.15) rotate(-45)" text-anchor="end" class="t">10800</text>
<text transform="translate(137.9,298.0) scale(1,1.15) rotate(-45)" text-anchor="end" class="t">12600</text>
<text transform="translate(152.9,298.0) scale(1,1.15) rotate(-45)" text-anchor="end" class="t">14400</text>
<text transform="translate(168.1,298.0) scale(1,1.15) rotate(-45)" text-anchor="end" class="t">16200</text>
<line x1="55.5" x2="60.7" y1="187.0" y2="187.0" stroke="#3aaca9" stroke-width="1.1"/>
<text x="62.7" y="188.6" class="lg">HiFi Read Length Distribution</text>
<line x1="194.1" x2="338.4" y1="192.70" y2="192.70" stroke="#f0f0f0" stroke-width="1"/>
<line x1="194.1" x2="338.4" y1="210.17" y2="210.17" stroke="#f0f0f0" stroke-width="1"/>
<line x1="194.1" x2="338.4" y1="227.63" y2="227.63" stroke="#f0f0f0" stroke-width="1"/>
<line x1="194.1" x2="338.4" y1="245.10" y2="245.10" stroke="#f0f0f0" stroke-width="1"/>
<line x1="194.1" x2="338.4" y1="262.57" y2="262.57" stroke="#f0f0f0" stroke-width="1"/>
<line x1="194.1" x2="338.4" y1="280.03" y2="280.03" stroke="#f0f0f0" stroke-width="1"/>
<line x1="194.1" x2="338.4" y1="297.50" y2="297.50" stroke="#f0f0f0" stroke-width="1"/>
<path d="M194.1,297.5 L194.12,244.83 C194.60,245.16 195.78,246.40 196.97,246.82 C198.16,247.25 200.05,247.16 201.24,247.39 C202.43,247.63 203.14,248.68 204.09,248.25 C205.04,247.82 205.99,245.64 206.93,244.83 C207.88,244.03 208.83,243.79 209.78,243.41 C210.73,243.03 211.68,243.17 212.63,242.55 C213.58,241.94 214.53,239.95 215.47,239.71 C216.42,239.47 217.37,240.75 218.32,241.13 C219.27,241.51 219.98,241.99 221.17,241.99 C222.35,241.99 224.25,241.51 225.44,241.13 C226.62,240.75 227.10,240.42 228.28,239.71 C229.47,239.00 231.37,237.43 232.55,236.86 C233.74,236.29 234.45,236.05 235.40,236.29 C236.35,236.53 237.30,238.57 238.25,238.28 C239.20,238.00 239.91,235.53 241.09,234.58 C242.28,233.64 244.18,233.54 245.36,232.59 C246.55,231.64 247.26,229.60 248.21,228.89 C249.16,228.18 250.11,228.51 251.06,228.32 C252.01,228.13 252.96,228.94 253.91,227.75 C254.85,226.57 255.80,223.01 256.75,221.20 C257.70,219.40 258.65,217.88 259.60,216.93 C260.55,215.99 261.50,215.99 262.45,215.51 C263.39,215.04 264.34,215.51 265.29,214.09 C266.24,212.66 267.19,208.49 268.14,206.97 C269.09,205.45 270.04,204.98 270.99,204.98 C271.93,204.98 272.88,205.69 273.83,206.97 C274.78,208.25 275.73,211.24 276.68,212.66 C277.63,214.09 278.72,213.38 279.53,215.51 C280.33,217.65 280.81,222.30 281.52,225.47 C282.23,228.65 282.94,232.21 283.80,234.58 C284.65,236.96 285.69,237.67 286.64,239.71 C287.59,241.75 288.54,244.69 289.49,246.82 C290.44,248.96 291.39,250.62 292.34,252.52 C293.28,254.42 294.23,256.55 295.18,258.21 C296.13,259.87 297.08,261.20 298.03,262.48 C298.98,263.76 299.93,265.04 300.88,265.90 C301.82,266.75 302.77,267.08 303.72,267.61 C304.67,268.13 305.62,268.22 306.57,269.03 C307.52,269.84 308.47,271.50 309.42,272.45 C310.36,273.39 311.31,274.49 312.26,274.72 C313.21,274.96 314.16,273.54 315.11,273.87 C316.06,274.20 317.01,275.77 317.96,276.72 C318.91,277.66 319.85,278.99 320.80,279.56 C321.75,280.13 322.70,280.13 323.65,280.13 C324.60,280.13 325.55,279.42 326.50,279.56 C327.45,279.70 328.39,280.42 329.34,280.99 C330.29,281.55 331.24,282.41 332.19,282.98 C333.14,283.55 333.99,284.73 335.04,284.40 C336.08,284.07 337.88,281.55 338.45,280.99 L338.5,297.5 Z" fill="rgba(85,98,195,0.3)" stroke="none"/>
<path d="M194.12,244.83 C194.60,245.16 195.78,246.40 196.97,246.82 C198.16,247.25 200.05,247.16 201.24,247.39 C202.43,247.63 203.14,248.68 204.09,248.25 C205.04,247.82 205.99,245.64 206.93,244.83 C207.88,244.03 208.83,243.79 209.78,243.41 C210.73,243.03 211.68,243.17 212.63,242.55 C213.58,241.94 214.53,239.95 215.47,239.71 C216.42,239.47 217.37,240.75 218.32,241.13 C219.27,241.51 219.98,241.99 221.17,241.99 C222.35,241.99 224.25,241.51 225.44,241.13 C226.62,240.75 227.10,240.42 228.28,239.71 C229.47,239.00 231.37,237.43 232.55,236.86 C233.74,236.29 234.45,236.05 235.40,236.29 C236.35,236.53 237.30,238.57 238.25,238.28 C239.20,238.00 239.91,235.53 241.09,234.58 C242.28,233.64 244.18,233.54 245.36,232.59 C246.55,231.64 247.26,229.60 248.21,228.89 C249.16,228.18 250.11,228.51 251.06,228.32 C252.01,228.13 252.96,228.94 253.91,227.75 C254.85,226.57 255.80,223.01 256.75,221.20 C257.70,219.40 258.65,217.88 259.60,216.93 C260.55,215.99 261.50,215.99 262.45,215.51 C263.39,215.04 264.34,215.51 265.29,214.09 C266.24,212.66 267.19,208.49 268.14,206.97 C269.09,205.45 270.04,204.98 270.99,204.98 C271.93,204.98 272.88,205.69 273.83,206.97 C274.78,208.25 275.73,211.24 276.68,212.66 C277.63,214.09 278.72,213.38 279.53,215.51 C280.33,217.65 280.81,222.30 281.52,225.47 C282.23,228.65 282.94,232.21 283.80,234.58 C284.65,236.96 285.69,237.67 286.64,239.71 C287.59,241.75 288.54,244.69 289.49,246.82 C290.44,248.96 291.39,250.62 292.34,252.52 C293.28,254.42 294.23,256.55 295.18,258.21 C296.13,259.87 297.08,261.20 298.03,262.48 C298.98,263.76 299.93,265.04 300.88,265.90 C301.82,266.75 302.77,267.08 303.72,267.61 C304.67,268.13 305.62,268.22 306.57,269.03 C307.52,269.84 308.47,271.50 309.42,272.45 C310.36,273.39 311.31,274.49 312.26,274.72 C313.21,274.96 314.16,273.54 315.11,273.87 C316.06,274.20 317.01,275.77 317.96,276.72 C318.91,277.66 319.85,278.99 320.80,279.56 C321.75,280.13 322.70,280.13 323.65,280.13 C324.60,280.13 325.55,279.42 326.50,279.56 C327.45,279.70 328.39,280.42 329.34,280.99 C330.29,281.55 331.24,282.41 332.19,282.98 C333.14,283.55 333.99,284.73 335.04,284.40 C336.08,284.07 337.88,281.55 338.45,280.99" fill="none" stroke="#6e80d3" stroke-width="0.95" stroke-linejoin="round"/>
<text transform="translate(189.9,196.03) scale(1,1.15)" text-anchor="end" class="t">3,000</text>
<text transform="translate(189.9,230.97) scale(1,1.15)" text-anchor="end" class="t">2,000</text>
<text transform="translate(189.9,265.90) scale(1,1.15)" text-anchor="end" class="t">1,000</text>
<text transform="translate(189.9,300.83) scale(1,1.15)" text-anchor="end" class="t">0</text>
<text transform="translate(195.8,307.88) scale(1,1.15)" text-anchor="middle" class="t">20</text>
<text transform="translate(215.5,307.88) scale(1,1.15)" text-anchor="middle" class="t">26</text>
<text transform="translate(237.9,307.88) scale(1,1.15)" text-anchor="middle" class="t">32</text>
<text transform="translate(260.0,307.88) scale(1,1.15)" text-anchor="middle" class="t">38</text>
<text transform="translate(281.7,307.88) scale(1,1.15)" text-anchor="middle" class="t">44</text>
<text transform="translate(304.1,307.88) scale(1,1.15)" text-anchor="middle" class="t">50</text>
<text transform="translate(325.8,307.88) scale(1,1.15)" text-anchor="middle" class="t">56</text>
<line x1="224.9" x2="230.1" y1="187.0" y2="187.0" stroke="#6e80d3" stroke-width="1.1"/>
<text x="232.1" y="188.6" class="lg">HiFi Read Quality Distribution</text>
<line x1="372.6" x2="518.7" y1="191.90" y2="191.90" stroke="#f0f0f0" stroke-width="1"/>
<line x1="372.6" x2="518.7" y1="208.73" y2="208.73" stroke="#f0f0f0" stroke-width="1"/>
<line x1="372.6" x2="518.7" y1="225.57" y2="225.57" stroke="#f0f0f0" stroke-width="1"/>
<line x1="372.6" x2="518.7" y1="242.40" y2="242.40" stroke="#f0f0f0" stroke-width="1"/>
<line x1="372.6" x2="518.7" y1="259.23" y2="259.23" stroke="#f0f0f0" stroke-width="1"/>
<line x1="372.6" x2="518.7" y1="276.07" y2="276.07" stroke="#f0f0f0" stroke-width="1"/>
<line x1="372.6" x2="518.7" y1="292.90" y2="292.90" stroke="#f0f0f0" stroke-width="1"/>
<path d="M374.2,292.9 L374.2,292.9 L375.2,292.8 L376.2,292.8 L377.2,292.8 L378.2,292.7 L379.2,292.7 L380.3,292.7 L381.3,292.6 L382.3,292.6 L383.3,292.6 L384.3,292.5 L385.3,292.5 L386.3,292.5 L387.3,292.4 L388.3,292.5 L389.3,292.5 L390.2,292.6 L391.2,292.6 L392.2,292.7 L393.2,292.7 L394.1,292.8 L395.1,292.8 L396.1,292.9 L397.2,291.3 L398.3,289.5 L399.4,284.6 L400.5,283.3 L401.6,282.3 L402.7,282.7 L403.8,281.7 L404.8,280.5 L405.9,280.7 L407.0,280.3 L408.1,280.1 L409.2,279.1 L410.3,279.7 L411.4,278.8 L412.5,276.8 L413.6,277.1 L414.7,275.6 L415.8,276.3 L416.9,273.3 L418.0,272.1 L419.1,272.5 L420.2,270.3 L421.3,269.7 L422.4,267.5 L423.5,267.2 L424.6,266.5 L425.6,264.5 L426.7,262.2 L427.8,259.2 L428.9,259.3 L430.0,257.3 L431.1,256.4 L432.2,254.2 L433.3,253.1 L434.4,246.1 L435.5,245.4 L436.6,245.0 L437.7,240.3 L438.8,239.1 L439.9,236.7 L441.0,236.8 L442.1,231.8 L443.2,229.7 L444.3,226.4 L445.4,220.6 L446.5,217.3 L447.5,220.1 L448.6,216.8 L449.7,217.9 L450.8,212.2 L451.9,212.6 L452.7,214.0 L453.5,212.7 L454.1,204.4 L455.2,205.4 L456.3,205.6 L457.4,203.8 L458.1,199.9 L459.2,204.1 L459.9,200.5 L460.7,202.5 L461.8,205.6 L462.9,200.9 L464.0,200.4 L465.1,201.0 L466.2,206.0 L467.3,200.2 L468.4,203.8 L469.4,203.9 L470.5,207.7 L471.6,210.7 L472.7,213.4 L473.8,217.1 L474.9,218.5 L476.0,217.9 L477.1,221.9 L478.2,223.5 L479.3,227.1 L480.4,225.3 L481.5,234.1 L482.6,241.0 L483.7,242.3 L484.8,249.0 L485.9,251.0 L487.0,253.1 L488.1,259.1 L489.2,261.6 L490.2,266.5 L491.3,270.2 L492.4,273.6 L493.5,275.9 L494.6,279.0 L495.7,281.0 L496.8,281.2 L497.9,284.2 L499.0,283.9 L500.1,285.9 L501.2,286.2 L502.3,286.8 L503.4,287.6 L504.5,289.7 L505.6,292.9 L506.6,292.9 L507.6,292.9 L508.6,292.9 L509.6,292.9 L510.6,292.9 L511.6,292.9 L512.7,292.9 L513.7,292.9 L514.7,292.9 L515.7,292.9 L516.7,292.9 L517.7,292.9 L518.7,292.9 L518.7,292.9 Z" fill="rgba(75,192,192,0.3)" stroke="none"/>
<path d="M374.2,292.9 L375.2,292.8 L376.2,292.8 L377.2,292.8 L378.2,292.7 L379.2,292.7 L380.3,292.7 L381.3,292.6 L382.3,292.6 L383.3,292.6 L384.3,292.5 L385.3,292.5 L386.3,292.5 L387.3,292.4 L388.3,292.5 L389.3,292.5 L390.2,292.6 L391.2,292.6 L392.2,292.7 L393.2,292.7 L394.1,292.8 L395.1,292.8 L396.1,292.9 L397.2,291.3 L398.3,289.5 L399.4,284.6 L400.5,283.3 L401.6,282.3 L402.7,282.7 L403.8,281.7 L404.8,280.5 L405.9,280.7 L407.0,280.3 L408.1,280.1 L409.2,279.1 L410.3,279.7 L411.4,278.8 L412.5,276.8 L413.6,277.1 L414.7,275.6 L415.8,276.3 L416.9,273.3 L418.0,272.1 L419.1,272.5 L420.2,270.3 L421.3,269.7 L422.4,267.5 L423.5,267.2 L424.6,266.5 L425.6,264.5 L426.7,262.2 L427.8,259.2 L428.9,259.3 L430.0,257.3 L431.1,256.4 L432.2,254.2 L433.3,253.1 L434.4,246.1 L435.5,245.4 L436.6,245.0 L437.7,240.3 L438.8,239.1 L439.9,236.7 L441.0,236.8 L442.1,231.8 L443.2,229.7 L444.3,226.4 L445.4,220.6 L446.5,217.3 L447.5,220.1 L448.6,216.8 L449.7,217.9 L450.8,212.2 L451.9,212.6 L452.7,214.0 L453.5,212.7 L454.1,204.4 L455.2,205.4 L456.3,205.6 L457.4,203.8 L458.1,199.9 L459.2,204.1 L459.9,200.5 L460.7,202.5 L461.8,205.6 L462.9,200.9 L464.0,200.4 L465.1,201.0 L466.2,206.0 L467.3,200.2 L468.4,203.8 L469.4,203.9 L470.5,207.7 L471.6,210.7 L472.7,213.4 L473.8,217.1 L474.9,218.5 L476.0,217.9 L477.1,221.9 L478.2,223.5 L479.3,227.1 L480.4,225.3 L481.5,234.1 L482.6,241.0 L483.7,242.3 L484.8,249.0 L485.9,251.0 L487.0,253.1 L488.1,259.1 L489.2,261.6 L490.2,266.5 L491.3,270.2 L492.4,273.6 L493.5,275.9 L494.6,279.0 L495.7,281.0 L496.8,281.2 L497.9,284.2 L499.0,283.9 L500.1,285.9 L501.2,286.2 L502.3,286.8 L503.4,287.6 L504.5,289.7 L505.6,292.9 L506.6,292.9 L507.6,292.9 L508.6,292.9 L509.6,292.9 L510.6,292.9 L511.6,292.9 L512.7,292.9 L513.7,292.9 L514.7,292.9 L515.7,292.9 L516.7,292.9 L517.7,292.9 L518.7,292.9" fill="none" stroke="#3aaca9" stroke-width="0.95" stroke-linejoin="round"/>
<text transform="translate(371.1,195.24) scale(1,1.15)" text-anchor="end" class="t">1,200</text>
<text transform="translate(371.1,228.90) scale(1,1.15)" text-anchor="end" class="t">800</text>
<text transform="translate(371.1,262.57) scale(1,1.15)" text-anchor="end" class="t">400</text>
<text transform="translate(371.1,296.23) scale(1,1.15)" text-anchor="end" class="t">0</text>
<text transform="translate(396.1,298.0) scale(1,1.15) rotate(-45)" text-anchor="end" class="t">1800</text>
<text transform="translate(411.4,298.0) scale(1,1.15) rotate(-45)" text-anchor="end" class="t">3600</text>
<text transform="translate(426.7,298.0) scale(1,1.15) rotate(-45)" text-anchor="end" class="t">5400</text>
<text transform="translate(442.1,298.0) scale(1,1.15) rotate(-45)" text-anchor="end" class="t">7200</text>
<text transform="translate(457.4,298.0) scale(1,1.15) rotate(-45)" text-anchor="end" class="t">9000</text>
<text transform="translate(473.2,298.0) scale(1,1.15) rotate(-45)" text-anchor="end" class="t">10800</text>
<text transform="translate(489.1,298.0) scale(1,1.15) rotate(-45)" text-anchor="end" class="t">12600</text>
<text transform="translate(504.4,298.0) scale(1,1.15) rotate(-45)" text-anchor="end" class="t">14400</text>
<text transform="translate(519.7,298.0) scale(1,1.15) rotate(-45)" text-anchor="end" class="t">16200</text>
<line x1="405.3" x2="410.5" y1="186.8" y2="186.8" stroke="#3aaca9" stroke-width="1.1"/>
<text x="412.5" y="188.4" class="lg">HiFi Read Length Distribution</text>
<line x1="538.6" x2="685.0" y1="192.10" y2="192.10" stroke="#f0f0f0" stroke-width="1"/>
<line x1="538.6" x2="685.0" y1="209.62" y2="209.62" stroke="#f0f0f0" stroke-width="1"/>
<line x1="538.6" x2="685.0" y1="227.13" y2="227.13" stroke="#f0f0f0" stroke-width="1"/>
<line x1="538.6" x2="685.0" y1="244.65" y2="244.65" stroke="#f0f0f0" stroke-width="1"/>
<line x1="538.6" x2="685.0" y1="262.17" y2="262.17" stroke="#f0f0f0" stroke-width="1"/>
<line x1="538.6" x2="685.0" y1="279.68" y2="279.68" stroke="#f0f0f0" stroke-width="1"/>
<line x1="538.6" x2="685.0" y1="297.20" y2="297.20" stroke="#f0f0f0" stroke-width="1"/>
<path d="M540.5,297.2 L540.47,242.25 C540.91,242.47 542.01,243.17 543.10,243.56 C544.20,243.96 545.73,244.61 547.04,244.61 C548.36,244.61 549.89,244.31 550.99,243.56 C552.08,242.82 552.74,240.93 553.61,240.15 C554.49,239.36 555.36,238.61 556.24,238.83 C557.12,239.05 557.99,241.20 558.87,241.46 C559.74,241.72 560.62,240.76 561.50,240.41 C562.37,240.06 563.03,239.62 564.12,239.36 C565.22,239.09 566.53,238.92 568.07,238.83 C569.60,238.74 572.23,239.27 573.32,238.83 C574.42,238.39 574.11,237.17 574.64,236.20 C575.16,235.24 575.60,233.27 576.47,233.05 C577.35,232.83 578.66,234.15 579.89,234.89 C581.12,235.64 582.82,237.52 583.83,237.52 C584.84,237.52 585.28,236.34 585.93,234.89 C586.59,233.45 587.03,229.85 587.77,228.85 C588.52,227.84 589.53,228.58 590.40,228.85 C591.28,229.11 592.15,230.60 593.03,230.42 C593.91,230.25 594.56,228.36 595.66,227.80 C596.75,227.23 598.50,228.15 599.60,227.01 C600.69,225.87 601.13,222.28 602.23,220.96 C603.32,219.65 604.85,220.09 606.17,219.12 C607.48,218.16 609.01,216.72 610.11,215.18 C611.20,213.65 611.86,211.33 612.74,209.93 C613.61,208.53 614.27,207.43 615.36,206.77 C616.46,206.12 618.21,205.81 619.31,205.99 C620.40,206.16 621.06,206.95 621.93,207.82 C622.81,208.70 623.69,209.36 624.56,211.24 C625.44,213.12 626.31,215.93 627.19,219.12 C628.07,222.32 628.94,226.70 629.82,230.42 C630.69,234.15 631.57,238.53 632.45,241.46 C633.32,244.39 634.20,246.28 635.07,248.03 C635.95,249.78 636.82,250.66 637.70,251.97 C638.58,253.28 639.45,253.94 640.33,255.91 C641.20,257.88 642.08,262.04 642.96,263.80 C643.83,265.55 644.71,265.77 645.58,266.42 C646.46,267.08 647.34,266.86 648.21,267.74 C649.09,268.61 649.74,270.72 650.84,271.68 C651.93,272.64 653.69,272.86 654.78,273.52 C655.88,274.18 656.53,275.49 657.41,275.62 C658.28,275.75 659.16,274.31 660.04,274.31 C660.91,274.31 661.79,274.96 662.66,275.62 C663.54,276.28 664.20,277.68 665.29,278.25 C666.39,278.82 667.92,278.82 669.23,279.04 C670.55,279.26 672.08,279.26 673.18,279.56 C674.27,279.87 674.93,280.31 675.80,280.88 C676.68,281.45 677.55,282.54 678.43,282.98 C679.31,283.42 679.74,283.94 681.06,283.50 C682.37,283.07 685.44,280.88 686.31,280.35 L686.3,297.2 Z" fill="rgba(85,98,195,0.3)" stroke="none"/>
<path d="M540.47,242.25 C540.91,242.47 542.01,243.17 543.10,243.56 C544.20,243.96 545.73,244.61 547.04,244.61 C548.36,244.61 549.89,244.31 550.99,243.56 C552.08,242.82 552.74,240.93 553.61,240.15 C554.49,239.36 555.36,238.61 556.24,238.83 C557.12,239.05 557.99,241.20 558.87,241.46 C559.74,241.72 560.62,240.76 561.50,240.41 C562.37,240.06 563.03,239.62 564.12,239.36 C565.22,239.09 566.53,238.92 568.07,238.83 C569.60,238.74 572.23,239.27 573.32,238.83 C574.42,238.39 574.11,237.17 574.64,236.20 C575.16,235.24 575.60,233.27 576.47,233.05 C577.35,232.83 578.66,234.15 579.89,234.89 C581.12,235.64 582.82,237.52 583.83,237.52 C584.84,237.52 585.28,236.34 585.93,234.89 C586.59,233.45 587.03,229.85 587.77,228.85 C588.52,227.84 589.53,228.58 590.40,228.85 C591.28,229.11 592.15,230.60 593.03,230.42 C593.91,230.25 594.56,228.36 595.66,227.80 C596.75,227.23 598.50,228.15 599.60,227.01 C600.69,225.87 601.13,222.28 602.23,220.96 C603.32,219.65 604.85,220.09 606.17,219.12 C607.48,218.16 609.01,216.72 610.11,215.18 C611.20,213.65 611.86,211.33 612.74,209.93 C613.61,208.53 614.27,207.43 615.36,206.77 C616.46,206.12 618.21,205.81 619.31,205.99 C620.40,206.16 621.06,206.95 621.93,207.82 C622.81,208.70 623.69,209.36 624.56,211.24 C625.44,213.12 626.31,215.93 627.19,219.12 C628.07,222.32 628.94,226.70 629.82,230.42 C630.69,234.15 631.57,238.53 632.45,241.46 C633.32,244.39 634.20,246.28 635.07,248.03 C635.95,249.78 636.82,250.66 637.70,251.97 C638.58,253.28 639.45,253.94 640.33,255.91 C641.20,257.88 642.08,262.04 642.96,263.80 C643.83,265.55 644.71,265.77 645.58,266.42 C646.46,267.08 647.34,266.86 648.21,267.74 C649.09,268.61 649.74,270.72 650.84,271.68 C651.93,272.64 653.69,272.86 654.78,273.52 C655.88,274.18 656.53,275.49 657.41,275.62 C658.28,275.75 659.16,274.31 660.04,274.31 C660.91,274.31 661.79,274.96 662.66,275.62 C663.54,276.28 664.20,277.68 665.29,278.25 C666.39,278.82 667.92,278.82 669.23,279.04 C670.55,279.26 672.08,279.26 673.18,279.56 C674.27,279.87 674.93,280.31 675.80,280.88 C676.68,281.45 677.55,282.54 678.43,282.98 C679.31,283.42 679.74,283.94 681.06,283.50 C682.37,283.07 685.44,280.88 686.31,280.35" fill="none" stroke="#6e80d3" stroke-width="0.95" stroke-linejoin="round"/>
<text transform="translate(537.8,195.44) scale(1,1.15)" text-anchor="end" class="t">3,000</text>
<text transform="translate(537.8,230.47) scale(1,1.15)" text-anchor="end" class="t">2,000</text>
<text transform="translate(537.8,265.50) scale(1,1.15)" text-anchor="end" class="t">1,000</text>
<text transform="translate(537.8,300.53) scale(1,1.15)" text-anchor="end" class="t">0</text>
<text transform="translate(539.7,307.07) scale(1,1.15)" text-anchor="middle" class="t">20</text>
<text transform="translate(561.9,307.07) scale(1,1.15)" text-anchor="middle" class="t">26</text>
<text transform="translate(584.1,307.07) scale(1,1.15)" text-anchor="middle" class="t">32</text>
<text transform="translate(606.3,307.07) scale(1,1.15)" text-anchor="middle" class="t">38</text>
<text transform="translate(628.3,307.07) scale(1,1.15)" text-anchor="middle" class="t">44</text>
<text transform="translate(650.5,307.07) scale(1,1.15)" text-anchor="middle" class="t">50</text>
<text transform="translate(672.7,307.07) scale(1,1.15)" text-anchor="middle" class="t">56</text>
<line x1="571.5" x2="576.7" y1="186.8" y2="186.8" stroke="#6e80d3" stroke-width="1.1"/>
<text x="578.7" y="188.4" class="lg">HiFi Read Quality Distribution</text>
<line x1="21.0" x2="168.2" y1="336.30" y2="336.30" stroke="#f0f0f0" stroke-width="1"/>
<line x1="21.0" x2="168.2" y1="348.94" y2="348.94" stroke="#f0f0f0" stroke-width="1"/>
<line x1="21.0" x2="168.2" y1="361.57" y2="361.57" stroke="#f0f0f0" stroke-width="1"/>
<line x1="21.0" x2="168.2" y1="374.21" y2="374.21" stroke="#f0f0f0" stroke-width="1"/>
<line x1="21.0" x2="168.2" y1="386.85" y2="386.85" stroke="#f0f0f0" stroke-width="1"/>
<line x1="21.0" x2="168.2" y1="399.49" y2="399.49" stroke="#f0f0f0" stroke-width="1"/>
<line x1="21.0" x2="168.2" y1="412.12" y2="412.12" stroke="#f0f0f0" stroke-width="1"/>
<line x1="21.0" x2="168.2" y1="424.76" y2="424.76" stroke="#f0f0f0" stroke-width="1"/>
<line x1="21.0" x2="168.2" y1="437.40" y2="437.40" stroke="#f0f0f0" stroke-width="1"/>
<path d="M23.3,437.4 L23.3,437.3 L24.3,437.3 L25.3,437.3 L26.4,437.3 L27.4,437.3 L28.4,437.3 L29.4,437.3 L30.4,437.3 L31.5,437.3 L32.5,437.3 L33.5,437.3 L34.5,437.3 L35.5,437.3 L36.6,437.3 L37.6,437.3 L38.6,437.3 L39.4,436.0 L40.1,434.5 L41.5,424.2 L42.6,412.5 L43.6,404.3 L44.4,402.8 L45.2,398.8 L46.3,396.6 L47.4,397.0 L48.5,393.7 L49.6,391.5 L50.7,386.7 L51.8,383.7 L52.8,381.4 L53.9,374.7 L55.0,373.6 L56.1,371.0 L57.2,371.2 L58.3,365.9 L59.4,363.7 L60.5,365.0 L61.6,361.0 L62.7,360.1 L63.8,355.6 L64.9,355.6 L66.0,358.1 L67.1,355.4 L68.2,353.2 L69.3,349.9 L70.4,350.1 L71.5,353.1 L72.6,352.1 L73.6,352.3 L74.7,352.2 L75.8,354.0 L76.9,352.3 L78.0,355.3 L79.1,351.0 L80.2,353.4 L81.3,351.4 L82.4,355.1 L83.5,355.0 L84.6,354.8 L85.7,357.4 L86.8,358.0 L87.9,353.9 L89.0,361.3 L90.1,361.0 L91.2,364.1 L92.3,362.8 L93.4,365.4 L94.5,370.4 L95.5,372.9 L96.2,366.2 L97.1,371.7 L98.0,375.4 L98.8,378.2 L99.9,379.0 L101.0,380.8 L102.1,380.5 L103.2,384.5 L104.3,387.4 L105.4,387.4 L106.5,389.4 L107.6,389.2 L108.7,394.5 L109.8,392.3 L110.9,395.6 L112.0,395.5 L113.1,397.7 L114.2,399.8 L115.3,402.3 L116.4,407.2 L117.4,407.1 L118.5,409.2 L119.6,408.7 L120.7,409.4 L121.8,411.4 L122.9,409.3 L124.0,413.2 L125.1,414.5 L126.2,413.7 L127.3,415.8 L128.4,416.0 L129.5,415.4 L130.6,418.3 L131.7,418.5 L132.8,419.7 L133.9,420.8 L135.0,422.4 L136.1,422.1 L137.2,423.3 L138.2,424.9 L139.3,423.9 L140.4,426.5 L141.5,425.3 L142.6,426.6 L143.7,426.2 L144.8,426.8 L145.9,427.7 L147.0,429.7 L148.1,429.5 L149.2,429.3 L150.3,430.0 L151.4,430.1 L152.5,431.0 L153.6,431.1 L154.7,432.0 L155.8,431.2 L156.9,432.0 L158.0,432.1 L159.1,432.4 L160.1,433.2 L161.2,434.7 L162.3,437.3 L163.3,437.3 L164.2,437.3 L165.2,437.3 L166.1,437.3 L167.0,437.3 L168.0,437.3 L168.9,437.3 L168.9,437.4 Z" fill="rgba(75,192,192,0.3)" stroke="none"/>
<path d="M23.3,437.3 L24.3,437.3 L25.3,437.3 L26.4,437.3 L27.4,437.3 L28.4,437.3 L29.4,437.3 L30.4,437.3 L31.5,437.3 L32.5,437.3 L33.5,437.3 L34.5,437.3 L35.5,437.3 L36.6,437.3 L37.6,437.3 L38.6,437.3 L39.4,436.0 L40.1,434.5 L41.5,424.2 L42.6,412.5 L43.6,404.3 L44.4,402.8 L45.2,398.8 L46.3,396.6 L47.4,397.0 L48.5,393.7 L49.6,391.5 L50.7,386.7 L51.8,383.7 L52.8,381.4 L53.9,374.7 L55.0,373.6 L56.1,371.0 L57.2,371.2 L58.3,365.9 L59.4,363.7 L60.5,365.0 L61.6,361.0 L62.7,360.1 L63.8,355.6 L64.9,355.6 L66.0,358.1 L67.1,355.4 L68.2,353.2 L69.3,349.9 L70.4,350.1 L71.5,353.1 L72.6,352.1 L73.6,352.3 L74.7,352.2 L75.8,354.0 L76.9,352.3 L78.0,355.3 L79.1,351.0 L80.2,353.4 L81.3,351.4 L82.4,355.1 L83.5,355.0 L84.6,354.8 L85.7,357.4 L86.8,358.0 L87.9,353.9 L89.0,361.3 L90.1,361.0 L91.2,364.1 L92.3,362.8 L93.4,365.4 L94.5,370.4 L95.5,372.9 L96.2,366.2 L97.1,371.7 L98.0,375.4 L98.8,378.2 L99.9,379.0 L101.0,380.8 L102.1,380.5 L103.2,384.5 L104.3,387.4 L105.4,387.4 L106.5,389.4 L107.6,389.2 L108.7,394.5 L109.8,392.3 L110.9,395.6 L112.0,395.5 L113.1,397.7 L114.2,399.8 L115.3,402.3 L116.4,407.2 L117.4,407.1 L118.5,409.2 L119.6,408.7 L120.7,409.4 L121.8,411.4 L122.9,409.3 L124.0,413.2 L125.1,414.5 L126.2,413.7 L127.3,415.8 L128.4,416.0 L129.5,415.4 L130.6,418.3 L131.7,418.5 L132.8,419.7 L133.9,420.8 L135.0,422.4 L136.1,422.1 L137.2,423.3 L138.2,424.9 L139.3,423.9 L140.4,426.5 L141.5,425.3 L142.6,426.6 L143.7,426.2 L144.8,426.8 L145.9,427.7 L147.0,429.7 L148.1,429.5 L149.2,429.3 L150.3,430.0 L151.4,430.1 L152.5,431.0 L153.6,431.1 L154.7,432.0 L155.8,431.2 L156.9,432.0 L158.0,432.1 L159.1,432.4 L160.1,433.2 L161.2,434.7 L162.3,437.3 L163.3,437.3 L164.2,437.3 L165.2,437.3 L166.1,437.3 L167.0,437.3 L168.0,437.3 L168.9,437.3" fill="none" stroke="#3aaca9" stroke-width="0.95" stroke-linejoin="round"/>
<text transform="translate(20.5,339.63) scale(1,1.15)" text-anchor="end" class="t">1,600</text>
<text transform="translate(20.5,364.91) scale(1,1.15)" text-anchor="end" class="t">1,200</text>
<text transform="translate(20.5,390.19) scale(1,1.15)" text-anchor="end" class="t">800</text>
<text transform="translate(20.5,415.46) scale(1,1.15)" text-anchor="end" class="t">400</text>
<text transform="translate(20.5,440.73) scale(1,1.15)" text-anchor="end" class="t">0</text>
<text transform="translate(43.9,443.0) scale(1,1.15) rotate(-45)" text-anchor="end" class="t">2400</text>
<text transform="translate(57.8,443.0) scale(1,1.15) rotate(-45)" text-anchor="end" class="t">4800</text>
<text transform="translate(72.0,443.0) scale(1,1.15) rotate(-45)" text-anchor="end" class="t">7200</text>
<text transform="translate(86.7,443.0) scale(1,1.15) rotate(-45)" text-anchor="end" class="t">9600</text>
<text transform="translate(101.7,443.0) scale(1,1.15) rotate(-45)" text-anchor="end" class="t">12000</text>
<text transform="translate(115.6,443.0) scale(1,1.15) rotate(-45)" text-anchor="end" class="t">14400</text>
<text transform="translate(129.8,443.0) scale(1,1.15) rotate(-45)" text-anchor="end" class="t">16800</text>
<text transform="translate(144.5,443.0) scale(1,1.15) rotate(-45)" text-anchor="end" class="t">19200</text>
<text transform="translate(158.1,443.0) scale(1,1.15) rotate(-45)" text-anchor="end" class="t">21600</text>
<text transform="translate(170.0,443.0) scale(1,1.15) rotate(-45)" text-anchor="end" class="t">24000</text>
<line x1="55.5" x2="60.7" y1="331.5" y2="331.5" stroke="#3aaca9" stroke-width="1.1"/>
<text x="62.7" y="333.1" class="lg">HiFi Read Length Distribution</text>
<line x1="194.1" x2="338.4" y1="336.20" y2="336.20" stroke="#f0f0f0" stroke-width="1"/>
<line x1="194.1" x2="338.4" y1="346.82" y2="346.82" stroke="#f0f0f0" stroke-width="1"/>
<line x1="194.1" x2="338.4" y1="357.44" y2="357.44" stroke="#f0f0f0" stroke-width="1"/>
<line x1="194.1" x2="338.4" y1="368.06" y2="368.06" stroke="#f0f0f0" stroke-width="1"/>
<line x1="194.1" x2="338.4" y1="378.68" y2="378.68" stroke="#f0f0f0" stroke-width="1"/>
<line x1="194.1" x2="338.4" y1="389.30" y2="389.30" stroke="#f0f0f0" stroke-width="1"/>
<line x1="194.1" x2="338.4" y1="399.92" y2="399.92" stroke="#f0f0f0" stroke-width="1"/>
<line x1="194.1" x2="338.4" y1="410.54" y2="410.54" stroke="#f0f0f0" stroke-width="1"/>
<line x1="194.1" x2="338.4" y1="421.16" y2="421.16" stroke="#f0f0f0" stroke-width="1"/>
<line x1="194.1" x2="338.4" y1="431.78" y2="431.78" stroke="#f0f0f0" stroke-width="1"/>
<line x1="194.1" x2="338.4" y1="442.40" y2="442.40" stroke="#f0f0f0" stroke-width="1"/>
<path d="M194.1,442.4 L194.12,365.51 C194.60,365.42 196.16,364.70 196.97,364.94 C197.78,365.18 198.25,366.03 198.96,366.93 C199.68,367.84 200.15,369.88 201.24,370.35 C202.33,370.82 204.09,370.11 205.51,369.78 C206.93,369.45 208.59,368.83 209.78,368.36 C210.97,367.88 211.58,367.55 212.63,366.93 C213.67,366.32 214.86,365.23 216.04,364.66 C217.23,364.09 218.65,364.32 219.74,363.52 C220.84,362.71 221.78,360.29 222.59,359.82 C223.40,359.34 223.97,360.34 224.58,360.67 C225.20,361.00 225.44,362.43 226.29,361.81 C227.15,361.19 228.66,357.92 229.71,356.97 C230.75,356.02 231.61,356.59 232.55,356.12 C233.50,355.64 234.45,354.93 235.40,354.12 C236.35,353.32 237.30,352.23 238.25,351.28 C239.20,350.33 240.15,349.24 241.09,348.43 C242.04,347.62 242.99,347.05 243.94,346.44 C244.89,345.82 245.74,345.11 246.79,344.73 C247.83,344.35 249.26,344.02 250.20,344.16 C251.15,344.30 251.72,345.49 252.48,345.58 C253.24,345.68 254.05,345.06 254.76,344.73 C255.47,344.40 255.71,343.88 256.75,343.59 C257.80,343.31 259.84,343.02 261.02,343.02 C262.21,343.02 263.01,342.93 263.87,343.59 C264.72,344.26 265.43,345.87 266.15,347.01 C266.86,348.15 267.33,349.47 268.14,350.42 C268.95,351.37 270.04,351.61 270.99,352.70 C271.93,353.79 272.88,355.55 273.83,356.97 C274.78,358.39 275.73,359.58 276.68,361.24 C277.63,362.90 278.81,365.04 279.53,366.93 C280.24,368.83 280.47,370.49 280.95,372.63 C281.42,374.76 281.66,376.90 282.37,379.74 C283.08,382.59 284.27,386.15 285.22,389.71 C286.17,393.27 287.12,397.77 288.07,401.09 C289.01,404.42 289.96,407.50 290.91,409.64 C291.86,411.77 292.81,412.48 293.76,413.91 C294.71,415.33 295.66,416.89 296.61,418.18 C297.55,419.46 298.50,420.41 299.45,421.59 C300.40,422.78 301.35,424.30 302.30,425.29 C303.25,426.29 304.20,426.86 305.15,427.57 C306.09,428.28 307.04,428.99 307.99,429.56 C308.94,430.13 309.89,430.89 310.84,430.99 C311.79,431.08 312.74,430.13 313.69,430.13 C314.64,430.13 315.58,430.51 316.53,430.99 C317.48,431.46 318.19,432.60 319.38,432.98 C320.57,433.36 322.46,433.12 323.65,433.26 C324.84,433.41 325.55,433.50 326.50,433.83 C327.45,434.16 328.16,434.54 329.34,435.26 C330.53,435.97 332.43,437.72 333.61,438.10 C334.80,438.48 335.65,438.01 336.46,437.53 C337.27,437.06 338.12,435.64 338.45,435.26 L338.5,442.4 Z" fill="rgba(85,98,195,0.3)" stroke="none"/>
<path d="M194.12,365.51 C194.60,365.42 196.16,364.70 196.97,364.94 C197.78,365.18 198.25,366.03 198.96,366.93 C199.68,367.84 200.15,369.88 201.24,370.35 C202.33,370.82 204.09,370.11 205.51,369.78 C206.93,369.45 208.59,368.83 209.78,368.36 C210.97,367.88 211.58,367.55 212.63,366.93 C213.67,366.32 214.86,365.23 216.04,364.66 C217.23,364.09 218.65,364.32 219.74,363.52 C220.84,362.71 221.78,360.29 222.59,359.82 C223.40,359.34 223.97,360.34 224.58,360.67 C225.20,361.00 225.44,362.43 226.29,361.81 C227.15,361.19 228.66,357.92 229.71,356.97 C230.75,356.02 231.61,356.59 232.55,356.12 C233.50,355.64 234.45,354.93 235.40,354.12 C236.35,353.32 237.30,352.23 238.25,351.28 C239.20,350.33 240.15,349.24 241.09,348.43 C242.04,347.62 242.99,347.05 243.94,346.44 C244.89,345.82 245.74,345.11 246.79,344.73 C247.83,344.35 249.26,344.02 250.20,344.16 C251.15,344.30 251.72,345.49 252.48,345.58 C253.24,345.68 254.05,345.06 254.76,344.73 C255.47,344.40 255.71,343.88 256.75,343.59 C257.80,343.31 259.84,343.02 261.02,343.02 C262.21,343.02 263.01,342.93 263.87,343.59 C264.72,344.26 265.43,345.87 266.15,347.01 C266.86,348.15 267.33,349.47 268.14,350.42 C268.95,351.37 270.04,351.61 270.99,352.70 C271.93,353.79 272.88,355.55 273.83,356.97 C274.78,358.39 275.73,359.58 276.68,361.24 C277.63,362.90 278.81,365.04 279.53,366.93 C280.24,368.83 280.47,370.49 280.95,372.63 C281.42,374.76 281.66,376.90 282.37,379.74 C283.08,382.59 284.27,386.15 285.22,389.71 C286.17,393.27 287.12,397.77 288.07,401.09 C289.01,404.42 289.96,407.50 290.91,409.64 C291.86,411.77 292.81,412.48 293.76,413.91 C294.71,415.33 295.66,416.89 296.61,418.18 C297.55,419.46 298.50,420.41 299.45,421.59 C300.40,422.78 301.35,424.30 302.30,425.29 C303.25,426.29 304.20,426.86 305.15,427.57 C306.09,428.28 307.04,428.99 307.99,429.56 C308.94,430.13 309.89,430.89 310.84,430.99 C311.79,431.08 312.74,430.13 313.69,430.13 C314.64,430.13 315.58,430.51 316.53,430.99 C317.48,431.46 318.19,432.60 319.38,432.98 C320.57,433.36 322.46,433.12 323.65,433.26 C324.84,433.41 325.55,433.50 326.50,433.83 C327.45,434.16 328.16,434.54 329.34,435.26 C330.53,435.97 332.43,437.72 333.61,438.10 C334.80,438.48 335.65,438.01 336.46,437.53 C337.27,437.06 338.12,435.64 338.45,435.26" fill="none" stroke="#6e80d3" stroke-width="0.95" stroke-linejoin="round"/>
<text transform="translate(192.7,350.15) scale(1,1.15)" text-anchor="end" class="t">5,000</text>
<text transform="translate(192.7,371.39) scale(1,1.15)" text-anchor="end" class="t">4,000</text>
<text transform="translate(192.7,392.63) scale(1,1.15)" text-anchor="end" class="t">3,000</text>
<text transform="translate(192.7,413.87) scale(1,1.15)" text-anchor="end" class="t">2,000</text>
<text transform="translate(192.7,435.11) scale(1,1.15)" text-anchor="end" class="t">1,000</text>
<text transform="translate(195.7,450.88) scale(1,1.15)" text-anchor="middle" class="t">20</text>
<text transform="translate(217.8,450.88) scale(1,1.15)" text-anchor="middle" class="t">26</text>
<text transform="translate(240.0,450.88) scale(1,1.15)" text-anchor="middle" class="t">32</text>
<text transform="translate(261.9,450.88) scale(1,1.15)" text-anchor="middle" class="t">38</text>
<text transform="translate(284.1,450.88) scale(1,1.15)" text-anchor="middle" class="t">44</text>
<text transform="translate(306.0,450.88) scale(1,1.15)" text-anchor="middle" class="t">50</text>
<text transform="translate(328.2,450.88) scale(1,1.15)" text-anchor="middle" class="t">56</text>
<line x1="224.9" x2="230.1" y1="331.5" y2="331.5" stroke="#6e80d3" stroke-width="1.1"/>
<text x="232.1" y="333.1" class="lg">HiFi Read Quality Distribution</text>
<line x1="372.6" x2="518.7" y1="345.80" y2="345.80" stroke="#f0f0f0" stroke-width="1"/>
<line x1="372.6" x2="518.7" y1="355.84" y2="355.84" stroke="#f0f0f0" stroke-width="1"/>
<line x1="372.6" x2="518.7" y1="365.88" y2="365.88" stroke="#f0f0f0" stroke-width="1"/>
<line x1="372.6" x2="518.7" y1="375.92" y2="375.92" stroke="#f0f0f0" stroke-width="1"/>
<line x1="372.6" x2="518.7" y1="385.96" y2="385.96" stroke="#f0f0f0" stroke-width="1"/>
<line x1="372.6" x2="518.7" y1="396.00" y2="396.00" stroke="#f0f0f0" stroke-width="1"/>
<line x1="372.6" x2="518.7" y1="406.04" y2="406.04" stroke="#f0f0f0" stroke-width="1"/>
<line x1="372.6" x2="518.7" y1="416.08" y2="416.08" stroke="#f0f0f0" stroke-width="1"/>
<line x1="372.6" x2="518.7" y1="426.12" y2="426.12" stroke="#f0f0f0" stroke-width="1"/>
<line x1="372.6" x2="518.7" y1="436.16" y2="436.16" stroke="#f0f0f0" stroke-width="1"/>
<line x1="372.6" x2="518.7" y1="446.20" y2="446.20" stroke="#f0f0f0" stroke-width="1"/>
<path d="M374.2,446.2 L374.2,445.7 L375.2,445.7 L376.2,445.7 L377.2,445.6 L378.2,445.6 L379.2,445.5 L380.2,445.5 L381.2,445.5 L382.2,445.4 L383.1,445.4 L384.1,445.3 L385.1,445.3 L386.1,445.3 L387.1,445.3 L388.1,445.3 L389.1,445.3 L390.1,445.3 L391.1,445.3 L392.1,445.3 L393.1,445.3 L394.1,445.3 L395.1,445.3 L396.1,445.3 L397.2,444.6 L398.3,443.6 L399.4,438.8 L400.5,432.7 L401.6,430.8 L402.7,430.0 L403.8,428.6 L404.8,427.7 L405.9,428.5 L407.0,427.9 L408.1,428.0 L409.2,426.5 L410.3,426.7 L411.4,426.0 L412.5,424.5 L413.6,426.1 L414.7,426.4 L415.8,428.8 L416.9,423.6 L418.0,420.0 L419.1,418.2 L420.2,418.1 L421.3,415.7 L422.4,413.1 L423.5,412.2 L424.6,411.5 L425.6,412.2 L426.7,408.2 L427.6,405.8 L428.5,406.9 L429.3,405.7 L430.0,405.7 L431.1,402.9 L432.2,403.0 L433.3,398.1 L434.4,396.3 L435.5,395.9 L436.6,392.3 L437.7,391.1 L438.8,389.8 L439.9,390.3 L441.0,384.9 L442.1,381.8 L443.2,380.6 L444.3,378.0 L445.4,372.6 L446.5,375.8 L447.5,370.1 L448.6,369.9 L449.5,365.8 L450.4,366.8 L451.2,368.2 L451.9,366.9 L452.6,365.3 L453.5,360.8 L454.8,359.8 L455.9,358.0 L456.6,355.3 L457.4,353.9 L458.5,353.2 L459.6,353.4 L460.7,357.6 L461.8,352.9 L462.9,348.3 L464.0,348.6 L465.1,355.9 L466.2,347.8 L467.3,347.7 L468.4,344.8 L469.4,350.9 L470.5,359.4 L471.6,350.1 L472.7,359.5 L473.8,359.6 L474.9,358.1 L476.0,359.6 L477.1,356.8 L478.2,359.5 L479.3,359.1 L480.4,368.6 L481.5,373.3 L482.6,373.1 L483.7,378.2 L484.8,379.8 L485.9,379.0 L487.0,388.0 L488.1,390.2 L489.2,394.2 L490.2,398.0 L491.3,403.2 L492.4,404.9 L493.5,408.0 L494.6,411.3 L495.7,411.5 L496.8,418.2 L497.9,419.0 L499.0,423.8 L500.1,424.6 L501.2,426.9 L502.3,426.3 L503.4,433.6 L504.5,434.8 L505.6,436.2 L506.7,437.2 L507.8,437.6 L508.9,439.0 L510.0,439.5 L511.1,445.3 L512.0,445.4 L513.0,445.4 L513.9,445.5 L514.9,445.5 L515.8,445.6 L516.8,445.6 L517.8,445.7 L518.7,445.7 L518.7,446.2 Z" fill="rgba(75,192,192,0.3)" stroke="none"/>
<path d="M374.2,445.7 L375.2,445.7 L376.2,445.7 L377.2,445.6 L378.2,445.6 L379.2,445.5 L380.2,445.5 L381.2,445.5 L382.2,445.4 L383.1,445.4 L384.1,445.3 L385.1,445.3 L386.1,445.3 L387.1,445.3 L388.1,445.3 L389.1,445.3 L390.1,445.3 L391.1,445.3 L392.1,445.3 L393.1,445.3 L394.1,445.3 L395.1,445.3 L396.1,445.3 L397.2,444.6 L398.3,443.6 L399.4,438.8 L400.5,432.7 L401.6,430.8 L402.7,430.0 L403.8,428.6 L404.8,427.7 L405.9,428.5 L407.0,427.9 L408.1,428.0 L409.2,426.5 L410.3,426.7 L411.4,426.0 L412.5,424.5 L413.6,426.1 L414.7,426.4 L415.8,428.8 L416.9,423.6 L418.0,420.0 L419.1,418.2 L420.2,418.1 L421.3,415.7 L422.4,413.1 L423.5,412.2 L424.6,411.5 L425.6,412.2 L426.7,408.2 L427.6,405.8 L428.5,406.9 L429.3,405.7 L430.0,405.7 L431.1,402.9 L432.2,403.0 L433.3,398.1 L434.4,396.3 L435.5,395.9 L436.6,392.3 L437.7,391.1 L438.8,389.8 L439.9,390.3 L441.0,384.9 L442.1,381.8 L443.2,380.6 L444.3,378.0 L445.4,372.6 L446.5,375.8 L447.5,370.1 L448.6,369.9 L449.5,365.8 L450.4,366.8 L451.2,368.2 L451.9,366.9 L452.6,365.3 L453.5,360.8 L454.8,359.8 L455.9,358.0 L456.6,355.3 L457.4,353.9 L458.5,353.2 L459.6,353.4 L460.7,357.6 L461.8,352.9 L462.9,348.3 L464.0,348.6 L465.1,355.9 L466.2,347.8 L467.3,347.7 L468.4,344.8 L469.4,350.9 L470.5,359.4 L471.6,350.1 L472.7,359.5 L473.8,359.6 L474.9,358.1 L476.0,359.6 L477.1,356.8 L478.2,359.5 L479.3,359.1 L480.4,368.6 L481.5,373.3 L482.6,373.1 L483.7,378.2 L484.8,379.8 L485.9,379.0 L487.0,388.0 L488.1,390.2 L489.2,394.2 L490.2,398.0 L491.3,403.2 L492.4,404.9 L493.5,408.0 L494.6,411.3 L495.7,411.5 L496.8,418.2 L497.9,419.0 L499.0,423.8 L500.1,424.6 L501.2,426.9 L502.3,426.3 L503.4,433.6 L504.5,434.8 L505.6,436.2 L506.7,437.2 L507.8,437.6 L508.9,439.0 L510.0,439.5 L511.1,445.3 L512.0,445.4 L513.0,445.4 L513.9,445.5 L514.9,445.5 L515.8,445.6 L516.8,445.6 L517.8,445.7 L518.7,445.7" fill="none" stroke="#3aaca9" stroke-width="0.95" stroke-linejoin="round"/>
<text transform="translate(371.1,349.13) scale(1,1.15)" text-anchor="end" class="t">1,000</text>
<text transform="translate(371.1,369.21) scale(1,1.15)" text-anchor="end" class="t">800</text>
<text transform="translate(371.1,389.29) scale(1,1.15)" text-anchor="end" class="t">600</text>
<text transform="translate(371.1,409.38) scale(1,1.15)" text-anchor="end" class="t">400</text>
<text transform="translate(371.1,429.45) scale(1,1.15)" text-anchor="end" class="t">200</text>
<text transform="translate(371.1,449.53) scale(1,1.15)" text-anchor="end" class="t">0</text>
<text transform="translate(394.0,452.0) scale(1,1.15) rotate(-45)" text-anchor="end" class="t">1600</text>
<text transform="translate(408.1,452.0) scale(1,1.15) rotate(-45)" text-anchor="end" class="t">3200</text>
<text transform="translate(422.7,452.0) scale(1,1.15) rotate(-45)" text-anchor="end" class="t">4800</text>
<text transform="translate(437.5,452.0) scale(1,1.15) rotate(-45)" text-anchor="end" class="t">6400</text>
<text transform="translate(451.5,452.0) scale(1,1.15) rotate(-45)" text-anchor="end" class="t">8000</text>
<text transform="translate(466.1,452.0) scale(1,1.15) rotate(-45)" text-anchor="end" class="t">9600</text>
<text transform="translate(480.9,452.0) scale(1,1.15) rotate(-45)" text-anchor="end" class="t">11200</text>
<text transform="translate(496.2,452.0) scale(1,1.15) rotate(-45)" text-anchor="end" class="t">12800</text>
<text transform="translate(510.3,452.0) scale(1,1.15) rotate(-45)" text-anchor="end" class="t">14400</text>
<line x1="405.3" x2="410.5" y1="340.1" y2="340.1" stroke="#3aaca9" stroke-width="1.1"/>
<text x="412.5" y="341.7" class="lg">HiFi Read Length Distribution</text>
<line x1="538.6" x2="685.0" y1="345.00" y2="345.00" stroke="#f0f0f0" stroke-width="1"/>
<line x1="538.6" x2="685.0" y1="366.12" y2="366.12" stroke="#f0f0f0" stroke-width="1"/>
<line x1="538.6" x2="685.0" y1="387.24" y2="387.24" stroke="#f0f0f0" stroke-width="1"/>
<line x1="538.6" x2="685.0" y1="408.36" y2="408.36" stroke="#f0f0f0" stroke-width="1"/>
<line x1="538.6" x2="685.0" y1="429.48" y2="429.48" stroke="#f0f0f0" stroke-width="1"/>
<line x1="538.6" x2="685.0" y1="450.60" y2="450.60" stroke="#f0f0f0" stroke-width="1"/>
<path d="M540.5,450.6 L540.47,390.15 C540.91,390.36 542.01,391.24 543.10,391.46 C544.20,391.68 545.73,391.37 547.04,391.46 C548.36,391.55 549.89,391.77 550.99,391.99 C552.08,392.20 552.74,392.77 553.61,392.77 C554.49,392.77 555.36,392.64 556.24,391.99 C557.12,391.33 558.12,389.14 558.87,388.83 C559.61,388.53 560.05,389.71 560.71,390.15 C561.36,390.58 562.02,391.68 562.81,391.46 C563.60,391.24 564.56,389.49 565.44,388.83 C566.31,388.18 566.97,387.96 568.07,387.52 C569.16,387.08 570.91,386.86 572.01,386.20 C573.10,385.55 573.76,384.36 574.64,383.58 C575.51,382.79 576.17,381.82 577.26,381.47 C578.36,381.12 580.11,381.21 581.20,381.47 C582.30,381.74 582.96,383.23 583.83,383.05 C584.71,382.88 585.58,381.12 586.46,380.42 C587.34,379.72 588.21,378.98 589.09,378.85 C589.96,378.72 590.84,380.16 591.72,379.64 C592.59,379.11 593.69,376.88 594.34,375.69 C595.00,374.51 595.00,373.33 595.66,372.54 C596.31,371.75 597.41,371.97 598.28,370.96 C599.16,369.96 600.17,367.99 600.91,366.50 C601.66,365.01 602.09,362.91 602.75,362.03 C603.41,361.15 604.15,361.59 604.85,361.24 C605.55,360.89 606.30,360.80 606.96,359.93 C607.61,359.05 608.05,357.17 608.80,355.99 C609.54,354.80 610.55,353.49 611.42,352.83 C612.30,352.18 613.18,351.96 614.05,352.04 C614.93,352.13 615.93,353.01 616.68,353.36 C617.42,353.71 617.86,354.28 618.52,354.15 C619.18,354.01 619.83,352.26 620.62,352.57 C621.41,352.88 622.37,354.32 623.25,355.99 C624.12,357.65 625.00,360.15 625.88,362.55 C626.75,364.96 627.63,367.37 628.50,370.44 C629.38,373.50 630.26,377.23 631.13,380.95 C632.01,384.67 632.88,389.49 633.76,392.77 C634.64,396.06 635.51,398.25 636.39,400.66 C637.26,403.07 638.14,405.26 639.01,407.23 C639.89,409.20 640.77,411.26 641.64,412.48 C642.52,413.71 643.39,413.93 644.27,414.58 C645.15,415.24 646.02,415.46 646.90,416.42 C647.77,417.39 648.65,419.27 649.53,420.36 C650.40,421.46 651.28,422.34 652.15,422.99 C653.03,423.65 653.91,423.87 654.78,424.31 C655.66,424.74 656.31,425.18 657.41,425.62 C658.50,426.06 660.26,426.28 661.35,426.93 C662.45,427.59 663.23,428.82 663.98,429.56 C664.72,430.31 665.16,431.18 665.82,431.40 C666.47,431.62 667.13,431.05 667.92,430.88 C668.71,430.70 669.45,430.35 670.55,430.35 C671.64,430.35 673.39,430.70 674.49,430.88 C675.58,431.05 676.24,430.74 677.12,431.40 C677.99,432.06 679.00,434.12 679.74,434.82 C680.49,435.52 680.49,436.04 681.58,435.61 C682.68,435.17 685.53,432.76 686.31,432.19 L686.3,450.6 Z" fill="rgba(85,98,195,0.3)" stroke="none"/>
<path d="M540.47,390.15 C540.91,390.36 542.01,391.24 543.10,391.46 C544.20,391.68 545.73,391.37 547.04,391.46 C548.36,391.55 549.89,391.77 550.99,391.99 C552.08,392.20 552.74,392.77 553.61,392.77 C554.49,392.77 555.36,392.64 556.24,391.99 C557.12,391.33 558.12,389.14 558.87,388.83 C559.61,388.53 560.05,389.71 560.71,390.15 C561.36,390.58 562.02,391.68 562.81,391.46 C563.60,391.24 564.56,389.49 565.44,388.83 C566.31,388.18 566.97,387.96 568.07,387.52 C569.16,387.08 570.91,386.86 572.01,386.20 C573.10,385.55 573.76,384.36 574.64,383.58 C575.51,382.79 576.17,381.82 577.26,381.47 C578.36,381.12 580.11,381.21 581.20,381.47 C582.30,381.74 582.96,383.23 583.83,383.05 C584.71,382.88 585.58,381.12 586.46,380.42 C587.34,379.72 588.21,378.98 589.09,378.85 C589.96,378.72 590.84,380.16 591.72,379.64 C592.59,379.11 593.69,376.88 594.34,375.69 C595.00,374.51 595.00,373.33 595.66,372.54 C596.31,371.75 597.41,371.97 598.28,370.96 C599.16,369.96 600.17,367.99 600.91,366.50 C601.66,365.01 602.09,362.91 602.75,362.03 C603.41,361.15 604.15,361.59 604.85,361.24 C605.55,360.89 606.30,360.80 606.96,359.93 C607.61,359.05 608.05,357.17 608.80,355.99 C609.54,354.80 610.55,353.49 611.42,352.83 C612.30,352.18 613.18,351.96 614.05,352.04 C614.93,352.13 615.93,353.01 616.68,353.36 C617.42,353.71 617.86,354.28 618.52,354.15 C619.18,354.01 619.83,352.26 620.62,352.57 C621.41,352.88 622.37,354.32 623.25,355.99 C624.12,357.65 625.00,360.15 625.88,362.55 C626.75,364.96 627.63,367.37 628.50,370.44 C629.38,373.50 630.26,377.23 631.13,380.95 C632.01,384.67 632.88,389.49 633.76,392.77 C634.64,396.06 635.51,398.25 636.39,400.66 C637.26,403.07 638.14,405.26 639.01,407.23 C639.89,409.20 640.77,411.26 641.64,412.48 C642.52,413.71 643.39,413.93 644.27,414.58 C645.15,415.24 646.02,415.46 646.90,416.42 C647.77,417.39 648.65,419.27 649.53,420.36 C650.40,421.46 651.28,422.34 652.15,422.99 C653.03,423.65 653.91,423.87 654.78,424.31 C655.66,424.74 656.31,425.18 657.41,425.62 C658.50,426.06 660.26,426.28 661.35,426.93 C662.45,427.59 663.23,428.82 663.98,429.56 C664.72,430.31 665.16,431.18 665.82,431.40 C666.47,431.62 667.13,431.05 667.92,430.88 C668.71,430.70 669.45,430.35 670.55,430.35 C671.64,430.35 673.39,430.70 674.49,430.88 C675.58,431.05 676.24,430.74 677.12,431.40 C677.99,432.06 679.00,434.12 679.74,434.82 C680.49,435.52 680.49,436.04 681.58,435.61 C682.68,435.17 685.53,432.76 686.31,432.19" fill="none" stroke="#6e80d3" stroke-width="0.95" stroke-linejoin="round"/>
<text transform="translate(537.8,348.33) scale(1,1.15)" text-anchor="end" class="t">2,500</text>
<text transform="translate(537.8,369.45) scale(1,1.15)" text-anchor="end" class="t">2,000</text>
<text transform="translate(537.8,390.57) scale(1,1.15)" text-anchor="end" class="t">1,500</text>
<text transform="translate(537.8,411.69) scale(1,1.15)" text-anchor="end" class="t">1,000</text>
<text transform="translate(537.8,432.81) scale(1,1.15)" text-anchor="end" class="t">500</text>
<text transform="translate(537.8,453.94) scale(1,1.15)" text-anchor="end" class="t">0</text>
<text transform="translate(540.9,460.07) scale(1,1.15)" text-anchor="middle" class="t">20</text>
<text transform="translate(563.1,460.07) scale(1,1.15)" text-anchor="middle" class="t">26</text>
<text transform="translate(585.3,460.07) scale(1,1.15)" text-anchor="middle" class="t">32</text>
<text transform="translate(607.2,460.07) scale(1,1.15)" text-anchor="middle" class="t">38</text>
<text transform="translate(629.4,460.07) scale(1,1.15)" text-anchor="middle" class="t">44</text>
<text transform="translate(651.6,460.07) scale(1,1.15)" text-anchor="middle" class="t">50</text>
<text transform="translate(673.6,460.07) scale(1,1.15)" text-anchor="middle" class="t">56</text>
<line x1="571.5" x2="576.7" y1="339.9" y2="339.9" stroke="#6e80d3" stroke-width="1.1"/>
<text x="578.7" y="341.5" class="lg">HiFi Read Quality Distribution</text>
<line x1="18.4" x2="164.2" y1="488.40" y2="488.40" stroke="#f0f0f0" stroke-width="1"/>
<line x1="18.4" x2="164.2" y1="499.70" y2="499.70" stroke="#f0f0f0" stroke-width="1"/>
<line x1="18.4" x2="164.2" y1="511.00" y2="511.00" stroke="#f0f0f0" stroke-width="1"/>
<line x1="18.4" x2="164.2" y1="522.30" y2="522.30" stroke="#f0f0f0" stroke-width="1"/>
<line x1="18.4" x2="164.2" y1="533.60" y2="533.60" stroke="#f0f0f0" stroke-width="1"/>
<line x1="18.4" x2="164.2" y1="544.90" y2="544.90" stroke="#f0f0f0" stroke-width="1"/>
<line x1="18.4" x2="164.2" y1="556.20" y2="556.20" stroke="#f0f0f0" stroke-width="1"/>
<line x1="18.4" x2="164.2" y1="567.50" y2="567.50" stroke="#f0f0f0" stroke-width="1"/>
<line x1="18.4" x2="164.2" y1="578.80" y2="578.80" stroke="#f0f0f0" stroke-width="1"/>
<line x1="18.4" x2="164.2" y1="590.10" y2="590.10" stroke="#f0f0f0" stroke-width="1"/>
<path d="M21.3,590.1 L21.3,589.6 L22.3,589.6 L23.3,589.6 L24.3,589.6 L25.2,589.6 L26.2,589.6 L27.2,589.6 L28.2,589.6 L29.2,589.6 L30.2,589.6 L31.2,589.6 L32.2,589.6 L33.2,589.6 L34.2,589.6 L35.2,589.6 L36.1,589.6 L37.1,589.6 L38.1,589.6 L39.1,589.6 L40.1,589.6 L41.1,589.6 L42.1,589.6 L43.0,588.2 L43.8,586.5 L44.6,582.7 L45.4,578.8 L46.1,575.2 L46.9,572.8 L47.8,571.4 L48.7,570.5 L49.5,572.6 L50.4,573.3 L51.2,572.6 L51.9,570.2 L53.0,572.3 L53.9,571.2 L54.8,568.8 L55.6,570.0 L56.3,569.1 L57.1,570.6 L57.9,568.2 L58.7,567.5 L59.6,568.5 L60.5,566.7 L61.4,566.7 L62.1,564.8 L62.9,564.7 L64.0,564.0 L65.1,561.5 L65.8,560.3 L66.6,558.4 L67.5,559.9 L68.4,559.3 L69.5,557.2 L70.6,553.3 L71.6,556.5 L72.7,550.8 L73.8,552.2 L74.9,549.6 L76.0,544.0 L77.1,543.8 L78.2,546.9 L79.3,545.9 L80.4,541.4 L81.5,540.9 L82.6,537.6 L83.7,534.0 L84.8,529.9 L85.9,531.6 L86.8,527.8 L87.6,527.9 L88.4,522.5 L89.2,521.7 L90.3,523.4 L91.4,520.5 L92.5,513.6 L93.5,512.4 L94.6,510.3 L95.7,508.4 L96.8,506.3 L97.9,505.5 L99.0,502.0 L100.1,503.4 L101.2,502.6 L102.3,498.6 L103.0,500.0 L104.1,495.8 L105.2,496.5 L106.2,496.1 L107.3,498.2 L108.4,498.6 L109.5,498.1 L110.6,496.8 L111.7,498.4 L112.8,502.3 L113.9,497.4 L114.8,504.1 L116.1,503.5 L116.9,503.5 L117.6,505.6 L118.7,501.9 L119.8,511.4 L120.9,515.0 L122.0,511.5 L123.1,516.6 L124.2,519.3 L125.3,520.6 L126.4,527.6 L127.5,529.7 L128.6,534.8 L129.7,537.5 L130.8,543.9 L131.9,547.7 L133.0,550.8 L134.1,555.7 L135.2,556.5 L136.2,563.2 L137.1,562.9 L138.0,566.6 L138.8,567.4 L139.5,569.7 L140.6,572.5 L141.7,575.9 L142.8,576.6 L143.9,577.3 L145.0,579.2 L146.1,582.0 L147.2,583.2 L148.3,583.4 L149.4,584.1 L150.5,583.0 L151.6,589.6 L152.6,589.6 L153.6,589.6 L154.6,589.6 L155.6,589.6 L156.6,589.6 L157.6,589.6 L158.6,589.6 L159.6,589.6 L160.6,589.6 L161.6,589.6 L162.6,589.6 L163.6,589.6 L163.6,590.1 Z" fill="rgba(75,192,192,0.3)" stroke="none"/>
<path d="M21.3,589.6 L22.3,589.6 L23.3,589.6 L24.3,589.6 L25.2,589.6 L26.2,589.6 L27.2,589.6 L28.2,589.6 L29.2,589.6 L30.2,589.6 L31.2,589.6 L32.2,589.6 L33.2,589.6 L34.2,589.6 L35.2,589.6 L36.1,589.6 L37.1,589.6 L38.1,589.6 L39.1,589.6 L40.1,589.6 L41.1,589.6 L42.1,589.6 L43.0,588.2 L43.8,586.5 L44.6,582.7 L45.4,578.8 L46.1,575.2 L46.9,572.8 L47.8,571.4 L48.7,570.5 L49.5,572.6 L50.4,573.3 L51.2,572.6 L51.9,570.2 L53.0,572.3 L53.9,571.2 L54.8,568.8 L55.6,570.0 L56.3,569.1 L57.1,570.6 L57.9,568.2 L58.7,567.5 L59.6,568.5 L60.5,566.7 L61.4,566.7 L62.1,564.8 L62.9,564.7 L64.0,564.0 L65.1,561.5 L65.8,560.3 L66.6,558.4 L67.5,559.9 L68.4,559.3 L69.5,557.2 L70.6,553.3 L71.6,556.5 L72.7,550.8 L73.8,552.2 L74.9,549.6 L76.0,544.0 L77.1,543.8 L78.2,546.9 L79.3,545.9 L80.4,541.4 L81.5,540.9 L82.6,537.6 L83.7,534.0 L84.8,529.9 L85.9,531.6 L86.8,527.8 L87.6,527.9 L88.4,522.5 L89.2,521.7 L90.3,523.4 L91.4,520.5 L92.5,513.6 L93.5,512.4 L94.6,510.3 L95.7,508.4 L96.8,506.3 L97.9,505.5 L99.0,502.0 L100.1,503.4 L101.2,502.6 L102.3,498.6 L103.0,500.0 L104.1,495.8 L105.2,496.5 L106.2,496.1 L107.3,498.2 L108.4,498.6 L109.5,498.1 L110.6,496.8 L111.7,498.4 L112.8,502.3 L113.9,497.4 L114.8,504.1 L116.1,503.5 L116.9,503.5 L117.6,505.6 L118.7,501.9 L119.8,511.4 L120.9,515.0 L122.0,511.5 L123.1,516.6 L124.2,519.3 L125.3,520.6 L126.4,527.6 L127.5,529.7 L128.6,534.8 L129.7,537.5 L130.8,543.9 L131.9,547.7 L133.0,550.8 L134.1,555.7 L135.2,556.5 L136.2,563.2 L137.1,562.9 L138.0,566.6 L138.8,567.4 L139.5,569.7 L140.6,572.5 L141.7,575.9 L142.8,576.6 L143.9,577.3 L145.0,579.2 L146.1,582.0 L147.2,583.2 L148.3,583.4 L149.4,584.1 L150.5,583.0 L151.6,589.6 L152.6,589.6 L153.6,589.6 L154.6,589.6 L155.6,589.6 L156.6,589.6 L157.6,589.6 L158.6,589.6 L159.6,589.6 L160.6,589.6 L161.6,589.6 L162.6,589.6 L163.6,589.6" fill="none" stroke="#3aaca9" stroke-width="0.95" stroke-linejoin="round"/>
<text transform="translate(17.1,503.03) scale(1,1.15)" text-anchor="end" class="t">800</text>
<text transform="translate(17.1,525.63) scale(1,1.15)" text-anchor="end" class="t">600</text>
<text transform="translate(17.1,548.24) scale(1,1.15)" text-anchor="end" class="t">400</text>
<text transform="translate(17.1,570.84) scale(1,1.15)" text-anchor="end" class="t">200</text>
<text transform="translate(17.1,593.44) scale(1,1.15)" text-anchor="end" class="t">0</text>
<text transform="translate(39.9,595.7) scale(1,1.15) rotate(-45)" text-anchor="end" class="t">1600</text>
<text transform="translate(54.4,595.7) scale(1,1.15) rotate(-45)" text-anchor="end" class="t">3200</text>
<text transform="translate(68.3,595.7) scale(1,1.15) rotate(-45)" text-anchor="end" class="t">4800</text>
<text transform="translate(82.0,595.7) scale(1,1.15) rotate(-45)" text-anchor="end" class="t">6400</text>
<text transform="translate(95.6,595.7) scale(1,1.15) rotate(-45)" text-anchor="end" class="t">8000</text>
<text transform="translate(109.5,595.7) scale(1,1.15) rotate(-45)" text-anchor="end" class="t">9600</text>
<text transform="translate(123.5,595.7) scale(1,1.15) rotate(-45)" text-anchor="end" class="t">11200</text>
<text transform="translate(137.7,595.7) scale(1,1.15) rotate(-45)" text-anchor="end" class="t">12800</text>
<text transform="translate(150.8,595.7) scale(1,1.15) rotate(-45)" text-anchor="end" class="t">14400</text>
<text transform="translate(164.7,595.7) scale(1,1.15) rotate(-45)" text-anchor="end" class="t">16000</text>
<line x1="55.5" x2="60.7" y1="483.6" y2="483.6" stroke="#3aaca9" stroke-width="1.1"/>
<text x="62.7" y="485.2" class="lg">HiFi Read Length Distribution</text>
<line x1="194.1" x2="338.4" y1="488.50" y2="488.50" stroke="#f0f0f0" stroke-width="1"/>
<line x1="194.1" x2="338.4" y1="499.09" y2="499.09" stroke="#f0f0f0" stroke-width="1"/>
<line x1="194.1" x2="338.4" y1="509.68" y2="509.68" stroke="#f0f0f0" stroke-width="1"/>
<line x1="194.1" x2="338.4" y1="520.27" y2="520.27" stroke="#f0f0f0" stroke-width="1"/>
<line x1="194.1" x2="338.4" y1="530.86" y2="530.86" stroke="#f0f0f0" stroke-width="1"/>
<line x1="194.1" x2="338.4" y1="541.45" y2="541.45" stroke="#f0f0f0" stroke-width="1"/>
<line x1="194.1" x2="338.4" y1="552.04" y2="552.04" stroke="#f0f0f0" stroke-width="1"/>
<line x1="194.1" x2="338.4" y1="562.63" y2="562.63" stroke="#f0f0f0" stroke-width="1"/>
<line x1="194.1" x2="338.4" y1="573.22" y2="573.22" stroke="#f0f0f0" stroke-width="1"/>
<line x1="194.1" x2="338.4" y1="583.81" y2="583.81" stroke="#f0f0f0" stroke-width="1"/>
<line x1="194.1" x2="338.4" y1="594.40" y2="594.40" stroke="#f0f0f0" stroke-width="1"/>
<path d="M194.1,594.4 L194.12,536.86 C194.60,537.10 196.02,537.72 196.97,538.28 C197.92,538.85 198.87,539.80 199.82,540.28 C200.77,540.75 201.86,541.13 202.66,541.13 C203.47,541.13 203.95,540.04 204.66,540.28 C205.37,540.51 206.08,542.08 206.93,542.55 C207.79,543.03 208.93,543.36 209.78,543.12 C210.64,542.89 211.35,542.18 212.06,541.13 C212.77,540.09 213.39,538.14 214.05,536.86 C214.72,535.58 215.33,533.82 216.04,533.45 C216.76,533.07 217.47,534.39 218.32,534.58 C219.18,534.77 220.22,534.92 221.17,534.58 C222.12,534.25 223.07,533.26 224.01,532.59 C224.96,531.93 225.68,531.07 226.86,530.60 C228.05,530.12 229.71,530.12 231.13,529.74 C232.55,529.36 234.22,528.94 235.40,528.32 C236.59,527.70 237.30,526.90 238.25,526.04 C239.20,525.19 240.15,524.15 241.09,523.20 C242.04,522.25 242.99,520.92 243.94,520.35 C244.89,519.78 245.84,519.88 246.79,519.78 C247.74,519.69 248.69,520.82 249.64,519.78 C250.58,518.74 251.53,515.04 252.48,513.52 C253.43,512.00 254.14,511.53 255.33,510.67 C256.51,509.82 258.41,509.25 259.60,508.39 C260.78,507.54 261.50,506.73 262.45,505.55 C263.39,504.36 264.34,502.61 265.29,501.28 C266.24,499.95 267.19,498.05 268.14,497.58 C269.09,497.10 270.04,498.38 270.99,498.43 C271.93,498.48 273.03,497.62 273.83,497.86 C274.64,498.10 275.11,498.34 275.82,499.85 C276.54,501.37 277.25,504.36 278.10,506.97 C278.96,509.58 280.00,511.95 280.95,515.51 C281.90,519.07 282.85,524.05 283.80,528.32 C284.74,532.59 285.69,537.81 286.64,541.13 C287.59,544.45 288.54,546.49 289.49,548.25 C290.44,550.00 291.39,550.24 292.34,551.66 C293.28,553.09 294.23,554.75 295.18,556.79 C296.13,558.83 297.08,561.77 298.03,563.91 C298.98,566.04 299.93,568.41 300.88,569.60 C301.82,570.78 302.77,570.55 303.72,571.02 C304.67,571.50 305.62,571.73 306.57,572.45 C307.52,573.16 308.47,574.20 309.42,575.29 C310.36,576.38 311.31,578.52 312.26,578.99 C313.21,579.47 314.16,578.04 315.11,578.14 C316.06,578.23 317.01,578.99 317.96,579.56 C318.91,580.13 319.85,580.99 320.80,581.55 C321.75,582.12 322.70,582.84 323.65,582.98 C324.60,583.12 325.55,582.41 326.50,582.41 C327.45,582.41 328.39,582.50 329.34,582.98 C330.29,583.45 331.24,584.40 332.19,585.26 C333.14,586.11 333.99,588.01 335.04,588.10 C336.08,588.20 337.88,586.20 338.45,585.82 L338.5,594.4 Z" fill="rgba(85,98,195,0.3)" stroke="none"/>
<path d="M194.12,536.86 C194.60,537.10 196.02,537.72 196.97,538.28 C197.92,538.85 198.87,539.80 199.82,540.28 C200.77,540.75 201.86,541.13 202.66,541.13 C203.47,541.13 203.95,540.04 204.66,540.28 C205.37,540.51 206.08,542.08 206.93,542.55 C207.79,543.03 208.93,543.36 209.78,543.12 C210.64,542.89 211.35,542.18 212.06,541.13 C212.77,540.09 213.39,538.14 214.05,536.86 C214.72,535.58 215.33,533.82 216.04,533.45 C216.76,533.07 217.47,534.39 218.32,534.58 C219.18,534.77 220.22,534.92 221.17,534.58 C222.12,534.25 223.07,533.26 224.01,532.59 C224.96,531.93 225.68,531.07 226.86,530.60 C228.05,530.12 229.71,530.12 231.13,529.74 C232.55,529.36 234.22,528.94 235.40,528.32 C236.59,527.70 237.30,526.90 238.25,526.04 C239.20,525.19 240.15,524.15 241.09,523.20 C242.04,522.25 242.99,520.92 243.94,520.35 C244.89,519.78 245.84,519.88 246.79,519.78 C247.74,519.69 248.69,520.82 249.64,519.78 C250.58,518.74 251.53,515.04 252.48,513.52 C253.43,512.00 254.14,511.53 255.33,510.67 C256.51,509.82 258.41,509.25 259.60,508.39 C260.78,507.54 261.50,506.73 262.45,505.55 C263.39,504.36 264.34,502.61 265.29,501.28 C266.24,499.95 267.19,498.05 268.14,497.58 C269.09,497.10 270.04,498.38 270.99,498.43 C271.93,498.48 273.03,497.62 273.83,497.86 C274.64,498.10 275.11,498.34 275.82,499.85 C276.54,501.37 277.25,504.36 278.10,506.97 C278.96,509.58 280.00,511.95 280.95,515.51 C281.90,519.07 282.85,524.05 283.80,528.32 C284.74,532.59 285.69,537.81 286.64,541.13 C287.59,544.45 288.54,546.49 289.49,548.25 C290.44,550.00 291.39,550.24 292.34,551.66 C293.28,553.09 294.23,554.75 295.18,556.79 C296.13,558.83 297.08,561.77 298.03,563.91 C298.98,566.04 299.93,568.41 300.88,569.60 C301.82,570.78 302.77,570.55 303.72,571.02 C304.67,571.50 305.62,571.73 306.57,572.45 C307.52,573.16 308.47,574.20 309.42,575.29 C310.36,576.38 311.31,578.52 312.26,578.99 C313.21,579.47 314.16,578.04 315.11,578.14 C316.06,578.23 317.01,578.99 317.96,579.56 C318.91,580.13 319.85,580.99 320.80,581.55 C321.75,582.12 322.70,582.84 323.65,582.98 C324.60,583.12 325.55,582.41 326.50,582.41 C327.45,582.41 328.39,582.50 329.34,582.98 C330.29,583.45 331.24,584.40 332.19,585.26 C333.14,586.11 333.99,588.01 335.04,588.10 C336.08,588.20 337.88,586.20 338.45,585.82" fill="none" stroke="#6e80d3" stroke-width="0.95" stroke-linejoin="round"/>
<text transform="translate(192.7,502.42) scale(1,1.15)" text-anchor="end" class="t">2,000</text>
<text transform="translate(192.7,523.61) scale(1,1.15)" text-anchor="end" class="t">1,600</text>
<text transform="translate(192.7,544.79) scale(1,1.15)" text-anchor="end" class="t">1,200</text>
<text transform="translate(192.7,565.97) scale(1,1.15)" text-anchor="end" class="t">800</text>
<text transform="translate(192.7,587.14) scale(1,1.15)" text-anchor="end" class="t">400</text>
<text transform="translate(195.7,603.58) scale(1,1.15)" text-anchor="middle" class="t">20</text>
<text transform="translate(217.8,603.58) scale(1,1.15)" text-anchor="middle" class="t">26</text>
<text transform="translate(240.0,603.58) scale(1,1.15)" text-anchor="middle" class="t">32</text>
<text transform="translate(261.9,603.58) scale(1,1.15)" text-anchor="middle" class="t">38</text>
<text transform="translate(284.1,603.58) scale(1,1.15)" text-anchor="middle" class="t">44</text>
<text transform="translate(306.0,603.58) scale(1,1.15)" text-anchor="middle" class="t">50</text>
<text transform="translate(328.2,603.58) scale(1,1.15)" text-anchor="middle" class="t">56</text>
<line x1="224.9" x2="230.1" y1="483.8" y2="483.8" stroke="#6e80d3" stroke-width="1.1"/>
<text x="232.1" y="485.4" class="lg">HiFi Read Quality Distribution</text>
<line x1="372.6" x2="518.7" y1="488.10" y2="488.10" stroke="#f0f0f0" stroke-width="1"/>
<line x1="372.6" x2="518.7" y1="505.05" y2="505.05" stroke="#f0f0f0" stroke-width="1"/>
<line x1="372.6" x2="518.7" y1="522.00" y2="522.00" stroke="#f0f0f0" stroke-width="1"/>
<line x1="372.6" x2="518.7" y1="538.95" y2="538.95" stroke="#f0f0f0" stroke-width="1"/>
<line x1="372.6" x2="518.7" y1="555.90" y2="555.90" stroke="#f0f0f0" stroke-width="1"/>
<line x1="372.6" x2="518.7" y1="572.85" y2="572.85" stroke="#f0f0f0" stroke-width="1"/>
<line x1="372.6" x2="518.7" y1="589.80" y2="589.80" stroke="#f0f0f0" stroke-width="1"/>
<path d="M374.2,589.8 L374.2,589.6 L375.2,589.6 L376.2,589.6 L377.2,589.5 L378.2,589.5 L379.2,589.5 L380.3,589.4 L381.3,589.4 L382.3,589.4 L383.3,589.3 L384.3,589.3 L385.3,589.3 L386.3,589.2 L387.3,589.2 L388.4,589.3 L389.4,589.3 L390.4,589.4 L391.4,589.4 L392.4,589.4 L393.5,589.5 L394.5,589.5 L395.5,589.6 L396.5,589.6 L397.4,587.6 L398.3,585.5 L399.2,582.7 L400.0,580.0 L400.8,578.3 L401.6,577.6 L402.7,576.9 L403.8,576.6 L404.8,578.1 L405.9,578.3 L407.0,576.5 L408.1,572.5 L408.9,573.6 L409.7,573.8 L411.0,570.4 L411.7,571.6 L412.5,570.9 L413.6,571.6 L414.7,567.5 L415.8,567.8 L416.9,566.3 L418.0,563.8 L419.1,566.0 L420.2,561.4 L421.3,558.8 L422.4,558.6 L423.5,555.0 L424.6,553.2 L425.6,554.0 L426.7,552.5 L427.6,550.4 L428.5,549.6 L429.3,547.9 L430.0,547.9 L431.1,544.2 L432.2,543.5 L433.3,543.0 L434.4,539.0 L435.5,538.3 L436.6,535.9 L437.7,537.4 L438.8,532.1 L439.9,530.0 L441.0,527.8 L441.6,522.0 L442.5,523.2 L443.2,526.2 L444.3,520.6 L445.4,519.3 L446.5,513.6 L447.5,512.9 L448.6,513.7 L449.7,512.9 L450.8,505.8 L451.9,506.4 L453.0,507.0 L454.1,506.2 L455.2,506.3 L456.3,503.7 L457.4,503.1 L458.5,504.9 L459.6,504.8 L460.7,504.1 L461.8,501.1 L462.9,504.6 L464.0,508.5 L465.1,506.2 L465.7,511.3 L466.6,505.3 L467.5,509.0 L468.4,505.5 L469.4,511.5 L470.5,515.2 L471.6,516.6 L472.7,519.2 L473.8,518.9 L474.9,521.6 L476.0,524.1 L477.1,521.2 L478.2,528.9 L479.3,532.5 L480.4,537.1 L481.1,538.4 L481.5,541.4 L482.6,542.1 L483.7,548.4 L484.8,550.8 L485.9,554.7 L487.0,558.4 L488.1,563.2 L489.2,564.7 L490.2,567.3 L491.3,570.4 L492.4,571.3 L493.5,575.9 L494.6,576.4 L495.7,579.1 L496.8,579.8 L497.9,581.0 L499.0,582.4 L500.1,584.2 L501.2,584.1 L502.3,584.0 L503.4,584.7 L504.5,589.6 L505.5,589.6 L506.5,589.6 L507.5,589.6 L508.5,589.6 L509.6,589.6 L510.6,589.6 L511.6,589.6 L512.6,589.6 L513.6,589.6 L514.6,589.6 L515.7,589.6 L516.7,589.6 L517.7,589.6 L518.7,589.6 L518.7,589.8 Z" fill="rgba(75,192,192,0.3)" stroke="none"/>
<path d="M374.2,589.6 L375.2,589.6 L376.2,589.6 L377.2,589.5 L378.2,589.5 L379.2,589.5 L380.3,589.4 L381.3,589.4 L382.3,589.4 L383.3,589.3 L384.3,589.3 L385.3,589.3 L386.3,589.2 L387.3,589.2 L388.4,589.3 L389.4,589.3 L390.4,589.4 L391.4,589.4 L392.4,589.4 L393.5,589.5 L394.5,589.5 L395.5,589.6 L396.5,589.6 L397.4,587.6 L398.3,585.5 L399.2,582.7 L400.0,580.0 L400.8,578.3 L401.6,577.6 L402.7,576.9 L403.8,576.6 L404.8,578.1 L405.9,578.3 L407.0,576.5 L408.1,572.5 L408.9,573.6 L409.7,573.8 L411.0,570.4 L411.7,571.6 L412.5,570.9 L413.6,571.6 L414.7,567.5 L415.8,567.8 L416.9,566.3 L418.0,563.8 L419.1,566.0 L420.2,561.4 L421.3,558.8 L422.4,558.6 L423.5,555.0 L424.6,553.2 L425.6,554.0 L426.7,552.5 L427.6,550.4 L428.5,549.6 L429.3,547.9 L430.0,547.9 L431.1,544.2 L432.2,543.5 L433.3,543.0 L434.4,539.0 L435.5,538.3 L436.6,535.9 L437.7,537.4 L438.8,532.1 L439.9,530.0 L441.0,527.8 L441.6,522.0 L442.5,523.2 L443.2,526.2 L444.3,520.6 L445.4,519.3 L446.5,513.6 L447.5,512.9 L448.6,513.7 L449.7,512.9 L450.8,505.8 L451.9,506.4 L453.0,507.0 L454.1,506.2 L455.2,506.3 L456.3,503.7 L457.4,503.1 L458.5,504.9 L459.6,504.8 L460.7,504.1 L461.8,501.1 L462.9,504.6 L464.0,508.5 L465.1,506.2 L465.7,511.3 L466.6,505.3 L467.5,509.0 L468.4,505.5 L469.4,511.5 L470.5,515.2 L471.6,516.6 L472.7,519.2 L473.8,518.9 L474.9,521.6 L476.0,524.1 L477.1,521.2 L478.2,528.9 L479.3,532.5 L480.4,537.1 L481.1,538.4 L481.5,541.4 L482.6,542.1 L483.7,548.4 L484.8,550.8 L485.9,554.7 L487.0,558.4 L488.1,563.2 L489.2,564.7 L490.2,567.3 L491.3,570.4 L492.4,571.3 L493.5,575.9 L494.6,576.4 L495.7,579.1 L496.8,579.8 L497.9,581.0 L499.0,582.4 L500.1,584.2 L501.2,584.1 L502.3,584.0 L503.4,584.7 L504.5,589.6 L505.5,589.6 L506.5,589.6 L507.5,589.6 L508.5,589.6 L509.6,589.6 L510.6,589.6 L511.6,589.6 L512.6,589.6 L513.6,589.6 L514.6,589.6 L515.7,589.6 L516.7,589.6 L517.7,589.6 L518.7,589.6" fill="none" stroke="#3aaca9" stroke-width="0.95" stroke-linejoin="round"/>
<text transform="translate(371.1,491.44) scale(1,1.15)" text-anchor="end" class="t">1,200</text>
<text transform="translate(371.1,525.34) scale(1,1.15)" text-anchor="end" class="t">800</text>
<text transform="translate(371.1,559.24) scale(1,1.15)" text-anchor="end" class="t">400</text>
<text transform="translate(371.1,593.13) scale(1,1.15)" text-anchor="end" class="t">0</text>
<text transform="translate(394.5,595.3) scale(1,1.15) rotate(-45)" text-anchor="end" class="t">1800</text>
<text transform="translate(409.4,595.3) scale(1,1.15) rotate(-45)" text-anchor="end" class="t">3600</text>
<text transform="translate(424.7,595.3) scale(1,1.15) rotate(-45)" text-anchor="end" class="t">5400</text>
<text transform="translate(440.0,595.3) scale(1,1.15) rotate(-45)" text-anchor="end" class="t">7200</text>
<text transform="translate(455.4,595.3) scale(1,1.15) rotate(-45)" text-anchor="end" class="t">9000</text>
<text transform="translate(471.2,595.3) scale(1,1.15) rotate(-45)" text-anchor="end" class="t">10800</text>
<text transform="translate(487.3,595.3) scale(1,1.15) rotate(-45)" text-anchor="end" class="t">12600</text>
<text transform="translate(502.6,595.3) scale(1,1.15) rotate(-45)" text-anchor="end" class="t">14400</text>
<text transform="translate(519.2,595.3) scale(1,1.15) rotate(-45)" text-anchor="end" class="t">16200</text>
<line x1="405.3" x2="410.5" y1="483.7" y2="483.7" stroke="#3aaca9" stroke-width="1.1"/>
<text x="412.5" y="485.3" class="lg">HiFi Read Length Distribution</text>
<line x1="538.6" x2="685.0" y1="489.40" y2="489.40" stroke="#f0f0f0" stroke-width="1"/>
<line x1="538.6" x2="685.0" y1="510.42" y2="510.42" stroke="#f0f0f0" stroke-width="1"/>
<line x1="538.6" x2="685.0" y1="531.44" y2="531.44" stroke="#f0f0f0" stroke-width="1"/>
<line x1="538.6" x2="685.0" y1="552.46" y2="552.46" stroke="#f0f0f0" stroke-width="1"/>
<line x1="538.6" x2="685.0" y1="573.48" y2="573.48" stroke="#f0f0f0" stroke-width="1"/>
<line x1="538.6" x2="685.0" y1="594.50" y2="594.50" stroke="#f0f0f0" stroke-width="1"/>
<path d="M540.5,594.5 L540.47,530.42 C540.91,530.42 542.23,530.12 543.10,530.42 C543.98,530.73 544.85,531.43 545.73,532.26 C546.61,533.09 547.48,535.07 548.36,535.42 C549.23,535.77 550.11,534.89 550.99,534.36 C551.86,533.84 552.74,532.83 553.61,532.26 C554.49,531.69 555.36,531.26 556.24,530.95 C557.12,530.64 558.12,531.08 558.87,530.42 C559.61,529.77 560.14,528.01 560.71,527.01 C561.28,526.00 561.72,524.07 562.28,524.38 C562.85,524.69 563.51,527.75 564.12,528.85 C564.74,529.94 565.31,531.12 565.96,530.95 C566.62,530.77 567.28,528.54 568.07,527.80 C568.85,527.05 569.82,526.48 570.69,526.48 C571.57,526.48 572.45,528.28 573.32,527.80 C574.20,527.31 575.07,524.47 575.95,523.59 C576.82,522.72 577.70,522.63 578.58,522.54 C579.45,522.45 580.33,523.20 581.20,523.07 C582.08,522.93 582.96,522.10 583.83,521.75 C584.71,521.40 585.58,521.27 586.46,520.96 C587.34,520.66 588.21,520.35 589.09,519.91 C589.96,519.47 590.84,518.77 591.72,518.34 C592.59,517.90 593.47,517.72 594.34,517.28 C595.22,516.85 596.31,516.58 596.97,515.71 C597.63,514.83 597.63,512.91 598.28,512.03 C598.94,511.15 600.04,510.72 600.91,510.45 C601.79,510.19 602.66,511.07 603.54,510.45 C604.42,509.84 605.29,508.70 606.17,506.77 C607.04,504.85 607.92,500.91 608.80,498.89 C609.67,496.88 610.55,495.26 611.42,494.69 C612.30,494.12 613.39,495.43 614.05,495.47 C614.71,495.52 614.71,495.26 615.36,494.95 C616.02,494.64 617.12,493.77 617.99,493.64 C618.87,493.50 619.74,493.64 620.62,494.16 C621.50,494.69 622.37,495.69 623.25,496.79 C624.12,497.88 625.09,498.76 625.88,500.73 C626.66,502.70 627.19,505.33 627.98,508.61 C628.77,511.90 629.64,516.50 630.61,520.44 C631.57,524.38 632.80,529.20 633.76,532.26 C634.72,535.33 635.51,536.77 636.39,538.83 C637.26,540.89 638.14,542.77 639.01,544.61 C639.89,546.45 640.77,548.12 641.64,549.87 C642.52,551.62 643.39,553.68 644.27,555.12 C645.15,556.57 646.02,557.84 646.90,558.54 C647.77,559.24 648.65,558.89 649.53,559.33 C650.40,559.77 651.28,560.20 652.15,561.17 C653.03,562.13 653.91,563.88 654.78,565.11 C655.66,566.34 656.53,568.09 657.41,568.53 C658.28,568.96 659.16,567.96 660.04,567.74 C660.91,567.52 661.79,566.86 662.66,567.21 C663.54,567.56 664.42,569.09 665.29,569.84 C666.17,570.58 666.82,571.37 667.92,571.68 C669.01,571.99 670.55,571.46 671.86,571.68 C673.18,571.90 674.71,572.47 675.80,572.99 C676.90,573.52 677.55,574.18 678.43,574.83 C679.31,575.49 680.18,576.80 681.06,576.93 C681.93,577.07 682.81,576.15 683.69,575.62 C684.56,575.09 685.88,574.09 686.31,573.78 L686.3,594.5 Z" fill="rgba(85,98,195,0.3)" stroke="none"/>
<path d="M540.47,530.42 C540.91,530.42 542.23,530.12 543.10,530.42 C543.98,530.73 544.85,531.43 545.73,532.26 C546.61,533.09 547.48,535.07 548.36,535.42 C549.23,535.77 550.11,534.89 550.99,534.36 C551.86,533.84 552.74,532.83 553.61,532.26 C554.49,531.69 555.36,531.26 556.24,530.95 C557.12,530.64 558.12,531.08 558.87,530.42 C559.61,529.77 560.14,528.01 560.71,527.01 C561.28,526.00 561.72,524.07 562.28,524.38 C562.85,524.69 563.51,527.75 564.12,528.85 C564.74,529.94 565.31,531.12 565.96,530.95 C566.62,530.77 567.28,528.54 568.07,527.80 C568.85,527.05 569.82,526.48 570.69,526.48 C571.57,526.48 572.45,528.28 573.32,527.80 C574.20,527.31 575.07,524.47 575.95,523.59 C576.82,522.72 577.70,522.63 578.58,522.54 C579.45,522.45 580.33,523.20 581.20,523.07 C582.08,522.93 582.96,522.10 583.83,521.75 C584.71,521.40 585.58,521.27 586.46,520.96 C587.34,520.66 588.21,520.35 589.09,519.91 C589.96,519.47 590.84,518.77 591.72,518.34 C592.59,517.90 593.47,517.72 594.34,517.28 C595.22,516.85 596.31,516.58 596.97,515.71 C597.63,514.83 597.63,512.91 598.28,512.03 C598.94,511.15 600.04,510.72 600.91,510.45 C601.79,510.19 602.66,511.07 603.54,510.45 C604.42,509.84 605.29,508.70 606.17,506.77 C607.04,504.85 607.92,500.91 608.80,498.89 C609.67,496.88 610.55,495.26 611.42,494.69 C612.30,494.12 613.39,495.43 614.05,495.47 C614.71,495.52 614.71,495.26 615.36,494.95 C616.02,494.64 617.12,493.77 617.99,493.64 C618.87,493.50 619.74,493.64 620.62,494.16 C621.50,494.69 622.37,495.69 623.25,496.79 C624.12,497.88 625.09,498.76 625.88,500.73 C626.66,502.70 627.19,505.33 627.98,508.61 C628.77,511.90 629.64,516.50 630.61,520.44 C631.57,524.38 632.80,529.20 633.76,532.26 C634.72,535.33 635.51,536.77 636.39,538.83 C637.26,540.89 638.14,542.77 639.01,544.61 C639.89,546.45 640.77,548.12 641.64,549.87 C642.52,551.62 643.39,553.68 644.27,555.12 C645.15,556.57 646.02,557.84 646.90,558.54 C647.77,559.24 648.65,558.89 649.53,559.33 C650.40,559.77 651.28,560.20 652.15,561.17 C653.03,562.13 653.91,563.88 654.78,565.11 C655.66,566.34 656.53,568.09 657.41,568.53 C658.28,568.96 659.16,567.96 660.04,567.74 C660.91,567.52 661.79,566.86 662.66,567.21 C663.54,567.56 664.42,569.09 665.29,569.84 C666.17,570.58 666.82,571.37 667.92,571.68 C669.01,571.99 670.55,571.46 671.86,571.68 C673.18,571.90 674.71,572.47 675.80,572.99 C676.90,573.52 677.55,574.18 678.43,574.83 C679.31,575.49 680.18,576.80 681.06,576.93 C681.93,577.07 682.81,576.15 683.69,575.62 C684.56,575.09 685.88,574.09 686.31,573.78" fill="none" stroke="#6e80d3" stroke-width="0.95" stroke-linejoin="round"/>
<text transform="translate(538.6,492.73) scale(1,1.15)" text-anchor="end" class="t">2,500</text>
<text transform="translate(538.6,513.75) scale(1,1.15)" text-anchor="end" class="t">2,000</text>
<text transform="translate(538.6,534.77) scale(1,1.15)" text-anchor="end" class="t">1,500</text>
<text transform="translate(538.6,555.80) scale(1,1.15)" text-anchor="end" class="t">1,000</text>
<text transform="translate(538.6,576.82) scale(1,1.15)" text-anchor="end" class="t">500</text>
<text transform="translate(538.6,597.84) scale(1,1.15)" text-anchor="end" class="t">0</text>
<text transform="translate(541.4,604.08) scale(1,1.15)" text-anchor="middle" class="t">20</text>
<text transform="translate(563.6,604.08) scale(1,1.15)" text-anchor="middle" class="t">26</text>
<text transform="translate(585.7,604.08) scale(1,1.15)" text-anchor="middle" class="t">32</text>
<text transform="translate(607.9,604.08) scale(1,1.15)" text-anchor="middle" class="t">38</text>
<text transform="translate(629.7,604.08) scale(1,1.15)" text-anchor="middle" class="t">44</text>
<text transform="translate(651.9,604.08) scale(1,1.15)" text-anchor="middle" class="t">50</text>
<text transform="translate(674.1,604.08) scale(1,1.15)" text-anchor="middle" class="t">56</text>
<line x1="571.5" x2="576.7" y1="484.4" y2="484.4" stroke="#6e80d3" stroke-width="1.1"/>
<text x="578.7" y="486.0" class="lg">HiFi Read Quality Distribution</text>
<line x1="23.1" x2="168.2" y1="646.50" y2="646.50" stroke="#f0f0f0" stroke-width="1"/>
<line x1="23.1" x2="168.2" y1="663.37" y2="663.37" stroke="#f0f0f0" stroke-width="1"/>
<line x1="23.1" x2="168.2" y1="680.23" y2="680.23" stroke="#f0f0f0" stroke-width="1"/>
<line x1="23.1" x2="168.2" y1="697.10" y2="697.10" stroke="#f0f0f0" stroke-width="1"/>
<line x1="23.1" x2="168.2" y1="713.97" y2="713.97" stroke="#f0f0f0" stroke-width="1"/>
<line x1="23.1" x2="168.2" y1="730.83" y2="730.83" stroke="#f0f0f0" stroke-width="1"/>
<line x1="23.1" x2="168.2" y1="747.70" y2="747.70" stroke="#f0f0f0" stroke-width="1"/>
<path d="M23.3,747.7 L23.3,747.3 L24.3,747.3 L25.3,747.3 L26.3,747.3 L27.2,747.3 L28.2,747.3 L29.2,747.3 L30.2,747.3 L31.2,747.3 L32.2,747.3 L33.2,747.3 L34.2,747.3 L35.2,747.3 L36.2,747.3 L37.2,747.3 L38.1,747.3 L39.1,747.3 L40.1,747.3 L41.1,747.3 L42.1,747.3 L43.1,747.3 L44.1,747.3 L45.2,747.1 L46.3,746.9 L47.2,744.3 L48.0,741.5 L48.8,738.0 L49.6,734.7 L50.7,732.9 L51.8,733.7 L52.8,733.0 L53.7,731.7 L54.6,732.1 L55.4,731.0 L56.1,730.2 L56.9,729.2 L57.7,730.2 L58.5,729.1 L59.4,726.7 L60.3,728.3 L61.2,727.9 L61.9,729.2 L62.7,726.7 L63.8,725.3 L64.9,725.5 L66.0,722.3 L67.1,719.8 L67.7,721.7 L68.5,721.2 L69.3,721.0 L70.0,719.0 L70.8,716.8 L71.9,711.0 L73.0,713.9 L74.3,711.3 L75.1,711.3 L75.8,709.9 L76.9,708.2 L78.0,705.6 L79.1,703.8 L80.0,703.3 L80.9,699.8 L81.6,699.1 L82.4,697.3 L83.5,699.3 L84.6,695.7 L85.7,693.5 L86.8,690.2 L87.9,691.0 L89.0,684.7 L90.1,685.3 L91.2,678.7 L92.3,676.3 L93.4,670.6 L94.5,671.0 L95.5,671.8 L96.6,669.9 L97.7,663.5 L98.8,661.7 L99.9,665.1 L101.0,664.3 L102.1,661.1 L103.2,659.8 L104.3,660.1 L105.4,660.8 L106.5,658.6 L107.6,653.4 L108.7,650.4 L109.8,649.5 L110.4,651.4 L111.5,651.6 L112.4,655.2 L113.7,654.5 L114.6,658.4 L115.5,661.4 L116.4,659.7 L117.4,661.4 L118.5,660.9 L119.6,663.3 L120.7,662.7 L121.8,664.3 L122.9,668.1 L124.0,664.5 L125.1,672.8 L126.2,677.5 L127.3,678.5 L128.0,686.7 L129.1,686.2 L130.1,687.8 L130.9,693.9 L131.7,695.5 L132.8,698.4 L133.9,701.1 L135.0,709.5 L136.1,712.4 L137.2,715.0 L138.2,718.2 L139.3,720.3 L140.4,726.6 L141.5,726.6 L142.6,730.2 L143.7,732.2 L144.8,734.6 L145.9,736.6 L147.0,739.7 L148.1,740.0 L149.2,740.4 L150.3,741.1 L151.4,741.3 L152.5,742.9 L153.6,747.3 L154.6,747.3 L155.6,747.3 L156.6,747.3 L157.7,747.3 L158.7,747.3 L159.7,747.3 L160.7,747.3 L161.8,747.3 L162.8,747.3 L163.8,747.3 L164.8,747.3 L165.8,747.3 L166.9,747.3 L167.9,747.3 L168.9,747.3 L168.9,747.7 Z" fill="rgba(75,192,192,0.3)" stroke="none"/>
<path d="M23.3,747.3 L24.3,747.3 L25.3,747.3 L26.3,747.3 L27.2,747.3 L28.2,747.3 L29.2,747.3 L30.2,747.3 L31.2,747.3 L32.2,747.3 L33.2,747.3 L34.2,747.3 L35.2,747.3 L36.2,747.3 L37.2,747.3 L38.1,747.3 L39.1,747.3 L40.1,747.3 L41.1,747.3 L42.1,747.3 L43.1,747.3 L44.1,747.3 L45.2,747.1 L46.3,746.9 L47.2,744.3 L48.0,741.5 L48.8,738.0 L49.6,734.7 L50.7,732.9 L51.8,733.7 L52.8,733.0 L53.7,731.7 L54.6,732.1 L55.4,731.0 L56.1,730.2 L56.9,729.2 L57.7,730.2 L58.5,729.1 L59.4,726.7 L60.3,728.3 L61.2,727.9 L61.9,729.2 L62.7,726.7 L63.8,725.3 L64.9,725.5 L66.0,722.3 L67.1,719.8 L67.7,721.7 L68.5,721.2 L69.3,721.0 L70.0,719.0 L70.8,716.8 L71.9,711.0 L73.0,713.9 L74.3,711.3 L75.1,711.3 L75.8,709.9 L76.9,708.2 L78.0,705.6 L79.1,703.8 L80.0,703.3 L80.9,699.8 L81.6,699.1 L82.4,697.3 L83.5,699.3 L84.6,695.7 L85.7,693.5 L86.8,690.2 L87.9,691.0 L89.0,684.7 L90.1,685.3 L91.2,678.7 L92.3,676.3 L93.4,670.6 L94.5,671.0 L95.5,671.8 L96.6,669.9 L97.7,663.5 L98.8,661.7 L99.9,665.1 L101.0,664.3 L102.1,661.1 L103.2,659.8 L104.3,660.1 L105.4,660.8 L106.5,658.6 L107.6,653.4 L108.7,650.4 L109.8,649.5 L110.4,651.4 L111.5,651.6 L112.4,655.2 L113.7,654.5 L114.6,658.4 L115.5,661.4 L116.4,659.7 L117.4,661.4 L118.5,660.9 L119.6,663.3 L120.7,662.7 L121.8,664.3 L122.9,668.1 L124.0,664.5 L125.1,672.8 L126.2,677.5 L127.3,678.5 L128.0,686.7 L129.1,686.2 L130.1,687.8 L130.9,693.9 L131.7,695.5 L132.8,698.4 L133.9,701.1 L135.0,709.5 L136.1,712.4 L137.2,715.0 L138.2,718.2 L139.3,720.3 L140.4,726.6 L141.5,726.6 L142.6,730.2 L143.7,732.2 L144.8,734.6 L145.9,736.6 L147.0,739.7 L148.1,740.0 L149.2,740.4 L150.3,741.1 L151.4,741.3 L152.5,742.9 L153.6,747.3 L154.6,747.3 L155.6,747.3 L156.6,747.3 L157.7,747.3 L158.7,747.3 L159.7,747.3 L160.7,747.3 L161.8,747.3 L162.8,747.3 L163.8,747.3 L164.8,747.3 L165.8,747.3 L166.9,747.3 L167.9,747.3 L168.9,747.3" fill="none" stroke="#3aaca9" stroke-width="0.95" stroke-linejoin="round"/>
<text transform="translate(22.3,649.84) scale(1,1.15)" text-anchor="end" class="t">1,200</text>
<text transform="translate(22.3,683.57) scale(1,1.15)" text-anchor="end" class="t">800</text>
<text transform="translate(22.3,717.30) scale(1,1.15)" text-anchor="end" class="t">400</text>
<text transform="translate(22.3,751.04) scale(1,1.15)" text-anchor="end" class="t">0</text>
<text transform="translate(45.7,753.3) scale(1,1.15) rotate(-45)" text-anchor="end" class="t">1800</text>
<text transform="translate(60.9,753.3) scale(1,1.15) rotate(-45)" text-anchor="end" class="t">3600</text>
<text transform="translate(76.7,753.3) scale(1,1.15) rotate(-45)" text-anchor="end" class="t">5400</text>
<text transform="translate(91.9,753.3) scale(1,1.15) rotate(-45)" text-anchor="end" class="t">7200</text>
<text transform="translate(107.7,753.3) scale(1,1.15) rotate(-45)" text-anchor="end" class="t">9000</text>
<text transform="translate(123.5,753.3) scale(1,1.15) rotate(-45)" text-anchor="end" class="t">10800</text>
<text transform="translate(139.0,753.3) scale(1,1.15) rotate(-45)" text-anchor="end" class="t">12600</text>
<text transform="translate(154.2,753.3) scale(1,1.15) rotate(-45)" text-anchor="end" class="t">14400</text>
<text transform="translate(168.7,753.3) scale(1,1.15) rotate(-45)" text-anchor="end" class="t">16200</text>
<line x1="55.5" x2="60.7" y1="641.2" y2="641.2" stroke="#3aaca9" stroke-width="1.1"/>
<text x="62.7" y="642.8" class="lg">HiFi Read Length Distribution</text>
<line x1="194.1" x2="338.4" y1="646.30" y2="646.30" stroke="#f0f0f0" stroke-width="1"/>
<line x1="194.1" x2="338.4" y1="663.85" y2="663.85" stroke="#f0f0f0" stroke-width="1"/>
<line x1="194.1" x2="338.4" y1="681.40" y2="681.40" stroke="#f0f0f0" stroke-width="1"/>
<line x1="194.1" x2="338.4" y1="698.95" y2="698.95" stroke="#f0f0f0" stroke-width="1"/>
<line x1="194.1" x2="338.4" y1="716.50" y2="716.50" stroke="#f0f0f0" stroke-width="1"/>
<line x1="194.1" x2="338.4" y1="734.05" y2="734.05" stroke="#f0f0f0" stroke-width="1"/>
<line x1="194.1" x2="338.4" y1="751.60" y2="751.60" stroke="#f0f0f0" stroke-width="1"/>
<path d="M194.1,751.6 L194.12,696.13 C194.46,695.66 195.41,693.90 196.12,693.28 C196.83,692.67 197.64,692.19 198.39,692.43 C199.15,692.67 199.96,694.00 200.67,694.71 C201.38,695.42 201.86,696.46 202.66,696.70 C203.47,696.94 204.56,696.32 205.51,696.13 C206.46,695.94 207.41,696.04 208.36,695.56 C209.31,695.09 210.26,693.90 211.20,693.28 C212.15,692.67 213.10,692.10 214.05,691.86 C215.00,691.62 215.95,692.10 216.90,691.86 C217.85,691.62 218.80,690.53 219.74,690.44 C220.69,690.34 221.64,691.29 222.59,691.29 C223.54,691.29 224.49,690.82 225.44,690.44 C226.39,690.06 227.34,689.16 228.28,689.01 C229.23,688.87 230.18,689.35 231.13,689.58 C232.08,689.82 233.03,690.63 233.98,690.44 C234.93,690.25 235.88,689.16 236.82,688.45 C237.77,687.73 238.72,686.88 239.67,686.17 C240.62,685.46 241.57,684.74 242.52,684.18 C243.47,683.61 244.42,683.37 245.36,682.75 C246.31,682.14 247.26,681.57 248.21,680.47 C249.16,679.38 250.25,677.39 251.06,676.20 C251.86,675.02 252.24,674.07 253.05,673.36 C253.86,672.65 255.04,672.65 255.90,671.93 C256.75,671.22 257.42,670.04 258.18,669.09 C258.93,668.14 259.60,667.19 260.45,666.24 C261.31,665.29 262.26,664.11 263.30,663.39 C264.34,662.68 265.67,662.92 266.72,661.97 C267.76,661.02 268.61,658.74 269.56,657.70 C270.51,656.66 271.55,655.80 272.41,655.71 C273.26,655.61 273.97,656.09 274.69,657.13 C275.40,658.18 275.87,659.50 276.68,661.97 C277.49,664.44 278.58,668.61 279.53,671.93 C280.47,675.26 281.42,678.58 282.37,681.90 C283.32,685.22 284.27,688.78 285.22,691.86 C286.17,694.95 287.12,697.79 288.07,700.40 C289.01,703.01 289.96,705.53 290.91,707.52 C291.86,709.51 292.81,711.17 293.76,712.36 C294.71,713.54 295.66,713.88 296.61,714.64 C297.55,715.39 298.50,715.96 299.45,716.91 C300.40,717.86 301.35,719.28 302.30,720.33 C303.25,721.37 304.20,722.46 305.15,723.18 C306.09,723.89 307.04,724.12 307.99,724.60 C308.94,725.07 309.89,725.69 310.84,726.02 C311.79,726.35 312.74,726.59 313.69,726.59 C314.64,726.59 315.58,725.64 316.53,726.02 C317.48,726.40 318.43,728.01 319.38,728.87 C320.33,729.72 321.28,730.67 322.23,731.15 C323.18,731.62 324.12,731.62 325.07,731.72 C326.02,731.81 326.97,731.48 327.92,731.72 C328.87,731.95 329.82,732.43 330.77,733.14 C331.72,733.85 332.81,735.37 333.61,735.99 C334.42,736.60 334.80,737.31 335.61,736.84 C336.41,736.36 337.98,733.76 338.45,733.14 L338.5,751.6 Z" fill="rgba(85,98,195,0.3)" stroke="none"/>
<path d="M194.12,696.13 C194.46,695.66 195.41,693.90 196.12,693.28 C196.83,692.67 197.64,692.19 198.39,692.43 C199.15,692.67 199.96,694.00 200.67,694.71 C201.38,695.42 201.86,696.46 202.66,696.70 C203.47,696.94 204.56,696.32 205.51,696.13 C206.46,695.94 207.41,696.04 208.36,695.56 C209.31,695.09 210.26,693.90 211.20,693.28 C212.15,692.67 213.10,692.10 214.05,691.86 C215.00,691.62 215.95,692.10 216.90,691.86 C217.85,691.62 218.80,690.53 219.74,690.44 C220.69,690.34 221.64,691.29 222.59,691.29 C223.54,691.29 224.49,690.82 225.44,690.44 C226.39,690.06 227.34,689.16 228.28,689.01 C229.23,688.87 230.18,689.35 231.13,689.58 C232.08,689.82 233.03,690.63 233.98,690.44 C234.93,690.25 235.88,689.16 236.82,688.45 C237.77,687.73 238.72,686.88 239.67,686.17 C240.62,685.46 241.57,684.74 242.52,684.18 C243.47,683.61 244.42,683.37 245.36,682.75 C246.31,682.14 247.26,681.57 248.21,680.47 C249.16,679.38 250.25,677.39 251.06,676.20 C251.86,675.02 252.24,674.07 253.05,673.36 C253.86,672.65 255.04,672.65 255.90,671.93 C256.75,671.22 257.42,670.04 258.18,669.09 C258.93,668.14 259.60,667.19 260.45,666.24 C261.31,665.29 262.26,664.11 263.30,663.39 C264.34,662.68 265.67,662.92 266.72,661.97 C267.76,661.02 268.61,658.74 269.56,657.70 C270.51,656.66 271.55,655.80 272.41,655.71 C273.26,655.61 273.97,656.09 274.69,657.13 C275.40,658.18 275.87,659.50 276.68,661.97 C277.49,664.44 278.58,668.61 279.53,671.93 C280.47,675.26 281.42,678.58 282.37,681.90 C283.32,685.22 284.27,688.78 285.22,691.86 C286.17,694.95 287.12,697.79 288.07,700.40 C289.01,703.01 289.96,705.53 290.91,707.52 C291.86,709.51 292.81,711.17 293.76,712.36 C294.71,713.54 295.66,713.88 296.61,714.64 C297.55,715.39 298.50,715.96 299.45,716.91 C300.40,717.86 301.35,719.28 302.30,720.33 C303.25,721.37 304.20,722.46 305.15,723.18 C306.09,723.89 307.04,724.12 307.99,724.60 C308.94,725.07 309.89,725.69 310.84,726.02 C311.79,726.35 312.74,726.59 313.69,726.59 C314.64,726.59 315.58,725.64 316.53,726.02 C317.48,726.40 318.43,728.01 319.38,728.87 C320.33,729.72 321.28,730.67 322.23,731.15 C323.18,731.62 324.12,731.62 325.07,731.72 C326.02,731.81 326.97,731.48 327.92,731.72 C328.87,731.95 329.82,732.43 330.77,733.14 C331.72,733.85 332.81,735.37 333.61,735.99 C334.42,736.60 334.80,737.31 335.61,736.84 C336.41,736.36 337.98,733.76 338.45,733.14" fill="none" stroke="#6e80d3" stroke-width="0.95" stroke-linejoin="round"/>
<text transform="translate(191.3,649.63) scale(1,1.15)" text-anchor="end" class="t">3,000</text>
<text transform="translate(191.3,684.74) scale(1,1.15)" text-anchor="end" class="t">2,000</text>
<text transform="translate(191.3,719.84) scale(1,1.15)" text-anchor="end" class="t">1,000</text>
<text transform="translate(191.3,754.94) scale(1,1.15)" text-anchor="end" class="t">0</text>
<text transform="translate(195.2,762.08) scale(1,1.15)" text-anchor="middle" class="t">20</text>
<text transform="translate(217.3,762.08) scale(1,1.15)" text-anchor="middle" class="t">26</text>
<text transform="translate(239.5,762.08) scale(1,1.15)" text-anchor="middle" class="t">32</text>
<text transform="translate(261.4,762.08) scale(1,1.15)" text-anchor="middle" class="t">38</text>
<text transform="translate(283.6,762.08) scale(1,1.15)" text-anchor="middle" class="t">44</text>
<text transform="translate(305.8,762.08) scale(1,1.15)" text-anchor="middle" class="t">50</text>
<text transform="translate(327.7,762.08) scale(1,1.15)" text-anchor="middle" class="t">56</text>
<line x1="224.9" x2="230.1" y1="641.1" y2="641.1" stroke="#6e80d3" stroke-width="1.1"/>
<text x="232.1" y="642.7" class="lg">HiFi Read Quality Distribution</text>
<line x1="372.6" x2="518.7" y1="654.60" y2="654.60" stroke="#f0f0f0" stroke-width="1"/>
<line x1="372.6" x2="518.7" y1="671.50" y2="671.50" stroke="#f0f0f0" stroke-width="1"/>
<line x1="372.6" x2="518.7" y1="688.40" y2="688.40" stroke="#f0f0f0" stroke-width="1"/>
<line x1="372.6" x2="518.7" y1="705.30" y2="705.30" stroke="#f0f0f0" stroke-width="1"/>
<line x1="372.6" x2="518.7" y1="722.20" y2="722.20" stroke="#f0f0f0" stroke-width="1"/>
<line x1="372.6" x2="518.7" y1="739.10" y2="739.10" stroke="#f0f0f0" stroke-width="1"/>
<line x1="372.6" x2="518.7" y1="756.00" y2="756.00" stroke="#f0f0f0" stroke-width="1"/>
<path d="M374.2,756.0 L374.2,755.7 L375.2,755.7 L376.2,755.7 L377.2,755.6 L378.2,755.6 L379.2,755.5 L380.2,755.5 L381.2,755.5 L382.2,755.4 L383.1,755.4 L384.1,755.3 L385.1,755.3 L386.1,755.3 L387.0,755.4 L388.0,755.4 L389.0,755.5 L389.9,755.5 L390.9,755.5 L391.8,755.6 L392.8,755.6 L393.7,755.7 L394.7,755.7 L395.6,755.7 L396.4,754.7 L397.2,753.6 L397.9,750.9 L398.7,748.3 L399.6,746.1 L400.5,744.8 L401.6,743.3 L402.7,742.2 L403.8,742.9 L404.8,742.3 L405.7,742.0 L406.6,740.4 L407.4,740.5 L408.1,739.9 L409.2,738.2 L410.3,739.3 L411.4,739.1 L412.5,740.9 L413.6,738.0 L414.7,735.5 L415.8,735.6 L416.9,732.5 L417.7,732.1 L418.4,729.7 L419.3,728.7 L420.2,727.9 L421.3,725.4 L422.4,723.7 L423.5,720.1 L424.6,720.8 L425.6,723.6 L426.7,720.0 L427.6,718.9 L428.5,719.4 L429.4,714.7 L430.7,712.9 L431.6,711.3 L432.9,706.7 L433.6,705.5 L434.4,703.1 L435.2,705.6 L435.9,701.5 L437.3,701.5 L438.1,699.3 L438.8,699.0 L439.4,692.7 L440.2,695.0 L441.0,691.1 L442.1,690.8 L443.2,685.3 L444.3,684.5 L445.4,681.9 L446.5,685.5 L447.5,674.1 L448.6,670.8 L449.7,669.8 L450.8,670.2 L451.9,671.3 L453.0,665.0 L454.1,657.0 L455.2,659.0 L456.3,666.6 L457.4,664.7 L458.5,658.3 L459.6,657.5 L460.7,663.7 L461.8,656.6 L462.9,665.3 L464.0,659.2 L465.1,663.1 L466.2,659.6 L467.3,666.6 L468.4,672.7 L469.4,669.6 L470.5,673.5 L471.6,672.9 L472.7,674.5 L473.8,679.3 L474.9,675.9 L476.0,684.1 L477.1,686.6 L478.2,686.5 L479.3,692.5 L480.4,696.4 L481.5,698.0 L482.6,705.7 L483.7,708.0 L484.8,711.9 L485.9,716.8 L487.0,723.9 L488.1,725.9 L489.2,729.0 L490.2,732.7 L491.3,734.0 L492.4,738.8 L493.5,740.2 L494.6,744.7 L495.7,744.7 L496.8,745.9 L497.9,746.9 L499.0,748.7 L500.1,748.6 L501.2,748.4 L502.3,750.8 L503.4,755.7 L504.4,755.7 L505.4,755.7 L506.5,755.7 L507.5,755.7 L508.5,755.7 L509.5,755.7 L510.5,755.7 L511.6,755.7 L512.6,755.7 L513.6,755.7 L514.6,755.7 L515.6,755.7 L516.7,755.7 L517.7,755.7 L518.7,755.7 L518.7,756.0 Z" fill="rgba(75,192,192,0.3)" stroke="none"/>
<path d="M374.2,755.7 L375.2,755.7 L376.2,755.7 L377.2,755.6 L378.2,755.6 L379.2,755.5 L380.2,755.5 L381.2,755.5 L382.2,755.4 L383.1,755.4 L384.1,755.3 L385.1,755.3 L386.1,755.3 L387.0,755.4 L388.0,755.4 L389.0,755.5 L389.9,755.5 L390.9,755.5 L391.8,755.6 L392.8,755.6 L393.7,755.7 L394.7,755.7 L395.6,755.7 L396.4,754.7 L397.2,753.6 L397.9,750.9 L398.7,748.3 L399.6,746.1 L400.5,744.8 L401.6,743.3 L402.7,742.2 L403.8,742.9 L404.8,742.3 L405.7,742.0 L406.6,740.4 L407.4,740.5 L408.1,739.9 L409.2,738.2 L410.3,739.3 L411.4,739.1 L412.5,740.9 L413.6,738.0 L414.7,735.5 L415.8,735.6 L416.9,732.5 L417.7,732.1 L418.4,729.7 L419.3,728.7 L420.2,727.9 L421.3,725.4 L422.4,723.7 L423.5,720.1 L424.6,720.8 L425.6,723.6 L426.7,720.0 L427.6,718.9 L428.5,719.4 L429.4,714.7 L430.7,712.9 L431.6,711.3 L432.9,706.7 L433.6,705.5 L434.4,703.1 L435.2,705.6 L435.9,701.5 L437.3,701.5 L438.1,699.3 L438.8,699.0 L439.4,692.7 L440.2,695.0 L441.0,691.1 L442.1,690.8 L443.2,685.3 L444.3,684.5 L445.4,681.9 L446.5,685.5 L447.5,674.1 L448.6,670.8 L449.7,669.8 L450.8,670.2 L451.9,671.3 L453.0,665.0 L454.1,657.0 L455.2,659.0 L456.3,666.6 L457.4,664.7 L458.5,658.3 L459.6,657.5 L460.7,663.7 L461.8,656.6 L462.9,665.3 L464.0,659.2 L465.1,663.1 L466.2,659.6 L467.3,666.6 L468.4,672.7 L469.4,669.6 L470.5,673.5 L471.6,672.9 L472.7,674.5 L473.8,679.3 L474.9,675.9 L476.0,684.1 L477.1,686.6 L478.2,686.5 L479.3,692.5 L480.4,696.4 L481.5,698.0 L482.6,705.7 L483.7,708.0 L484.8,711.9 L485.9,716.8 L487.0,723.9 L488.1,725.9 L489.2,729.0 L490.2,732.7 L491.3,734.0 L492.4,738.8 L493.5,740.2 L494.6,744.7 L495.7,744.7 L496.8,745.9 L497.9,746.9 L499.0,748.7 L500.1,748.6 L501.2,748.4 L502.3,750.8 L503.4,755.7 L504.4,755.7 L505.4,755.7 L506.5,755.7 L507.5,755.7 L508.5,755.7 L509.5,755.7 L510.5,755.7 L511.6,755.7 L512.6,755.7 L513.6,755.7 L514.6,755.7 L515.6,755.7 L516.7,755.7 L517.7,755.7 L518.7,755.7" fill="none" stroke="#3aaca9" stroke-width="0.95" stroke-linejoin="round"/>
<text transform="translate(370.5,657.94) scale(1,1.15)" text-anchor="end" class="t">1,200</text>
<text transform="translate(370.5,691.74) scale(1,1.15)" text-anchor="end" class="t">800</text>
<text transform="translate(370.5,725.54) scale(1,1.15)" text-anchor="end" class="t">400</text>
<text transform="translate(370.5,759.34) scale(1,1.15)" text-anchor="end" class="t">0</text>
<text transform="translate(394.5,762.4) scale(1,1.15) rotate(-45)" text-anchor="end" class="t">1800</text>
<text transform="translate(409.9,762.4) scale(1,1.15) rotate(-45)" text-anchor="end" class="t">3600</text>
<text transform="translate(425.2,762.4) scale(1,1.15) rotate(-45)" text-anchor="end" class="t">5400</text>
<text transform="translate(440.5,762.4) scale(1,1.15) rotate(-45)" text-anchor="end" class="t">7200</text>
<text transform="translate(455.9,762.4) scale(1,1.15) rotate(-45)" text-anchor="end" class="t">9000</text>
<text transform="translate(472.0,762.4) scale(1,1.15) rotate(-45)" text-anchor="end" class="t">10800</text>
<text transform="translate(487.3,762.4) scale(1,1.15) rotate(-45)" text-anchor="end" class="t">12600</text>
<text transform="translate(503.4,762.4) scale(1,1.15) rotate(-45)" text-anchor="end" class="t">14400</text>
<text transform="translate(519.2,762.4) scale(1,1.15) rotate(-45)" text-anchor="end" class="t">16200</text>
<line x1="405.3" x2="410.5" y1="650.0" y2="650.0" stroke="#3aaca9" stroke-width="1.1"/>
<text x="412.5" y="651.6" class="lg">HiFi Read Length Distribution</text>
<line x1="538.6" x2="685.0" y1="645.70" y2="645.70" stroke="#f0f0f0" stroke-width="1"/>
<line x1="538.6" x2="685.0" y1="664.93" y2="664.93" stroke="#f0f0f0" stroke-width="1"/>
<line x1="538.6" x2="685.0" y1="684.17" y2="684.17" stroke="#f0f0f0" stroke-width="1"/>
<line x1="538.6" x2="685.0" y1="703.40" y2="703.40" stroke="#f0f0f0" stroke-width="1"/>
<line x1="538.6" x2="685.0" y1="722.63" y2="722.63" stroke="#f0f0f0" stroke-width="1"/>
<line x1="538.6" x2="685.0" y1="741.87" y2="741.87" stroke="#f0f0f0" stroke-width="1"/>
<line x1="538.6" x2="685.0" y1="761.10" y2="761.10" stroke="#f0f0f0" stroke-width="1"/>
<path d="M540.5,761.1 L540.47,698.56 C540.91,698.30 542.36,696.99 543.10,696.99 C543.85,696.99 544.37,697.77 544.94,698.56 C545.51,699.35 545.95,700.84 546.52,701.72 C547.09,702.59 547.61,703.60 548.36,703.82 C549.10,704.04 550.11,703.60 550.99,703.03 C551.86,702.46 552.74,701.15 553.61,700.40 C554.49,699.66 555.36,699.13 556.24,698.56 C557.12,697.99 557.99,697.77 558.87,696.99 C559.74,696.20 560.75,694.45 561.50,693.83 C562.24,693.22 562.68,693.09 563.34,693.31 C563.99,693.53 564.65,695.19 565.44,695.15 C566.23,695.10 567.19,693.26 568.07,693.04 C568.94,692.82 569.91,693.61 570.69,693.83 C571.48,694.05 572.14,694.58 572.80,694.36 C573.45,694.14 574.02,693.13 574.64,692.52 C575.25,691.91 575.82,690.81 576.47,690.68 C577.13,690.55 577.79,691.64 578.58,691.73 C579.36,691.82 580.33,691.64 581.20,691.20 C582.08,690.77 582.96,689.76 583.83,689.10 C584.71,688.45 585.58,687.88 586.46,687.26 C587.34,686.65 588.21,685.73 589.09,685.42 C589.96,685.12 590.84,685.69 591.72,685.42 C592.59,685.16 593.47,684.64 594.34,683.85 C595.22,683.06 596.09,681.66 596.97,680.69 C597.85,679.73 598.72,679.29 599.60,678.07 C600.47,676.84 601.35,674.56 602.23,673.34 C603.10,672.11 603.98,671.23 604.85,670.71 C605.73,670.18 606.69,670.93 607.48,670.18 C608.27,669.44 608.71,667.47 609.58,666.24 C610.46,665.01 611.77,663.92 612.74,662.82 C613.70,661.73 614.58,660.85 615.36,659.67 C616.15,658.49 616.81,656.61 617.47,655.73 C618.12,654.85 618.69,654.55 619.31,654.42 C619.92,654.28 620.49,654.15 621.15,654.94 C621.80,655.73 622.46,657.04 623.25,659.15 C624.04,661.25 625.00,664.62 625.88,667.55 C626.75,670.49 627.63,673.69 628.50,676.75 C629.38,679.82 630.39,682.45 631.13,685.95 C631.88,689.45 632.23,694.49 632.97,697.77 C633.72,701.06 634.59,702.81 635.60,705.66 C636.61,708.50 638.01,712.53 639.01,714.85 C640.02,717.18 640.77,718.18 641.64,719.58 C642.52,720.99 643.39,722.08 644.27,723.26 C645.15,724.45 646.02,725.67 646.90,726.68 C647.77,727.69 648.65,728.82 649.53,729.31 C650.40,729.79 651.28,729.35 652.15,729.57 C653.03,729.79 653.91,729.79 654.78,730.62 C655.66,731.45 656.53,733.60 657.41,734.56 C658.28,735.53 659.16,736.09 660.04,736.40 C660.91,736.71 661.79,736.14 662.66,736.40 C663.54,736.66 664.42,737.45 665.29,737.98 C666.17,738.50 666.82,739.25 667.92,739.55 C669.01,739.86 670.77,739.64 671.86,739.82 C672.96,739.99 673.61,740.26 674.49,740.61 C675.36,740.96 676.24,741.39 677.12,741.92 C677.99,742.45 679.00,743.15 679.74,743.76 C680.49,744.37 680.93,745.51 681.58,745.60 C682.24,745.69 682.90,744.68 683.69,744.28 C684.47,743.89 685.88,743.41 686.31,743.23 L686.3,761.1 Z" fill="rgba(85,98,195,0.3)" stroke="none"/>
<path d="M540.47,698.56 C540.91,698.30 542.36,696.99 543.10,696.99 C543.85,696.99 544.37,697.77 544.94,698.56 C545.51,699.35 545.95,700.84 546.52,701.72 C547.09,702.59 547.61,703.60 548.36,703.82 C549.10,704.04 550.11,703.60 550.99,703.03 C551.86,702.46 552.74,701.15 553.61,700.40 C554.49,699.66 555.36,699.13 556.24,698.56 C557.12,697.99 557.99,697.77 558.87,696.99 C559.74,696.20 560.75,694.45 561.50,693.83 C562.24,693.22 562.68,693.09 563.34,693.31 C563.99,693.53 564.65,695.19 565.44,695.15 C566.23,695.10 567.19,693.26 568.07,693.04 C568.94,692.82 569.91,693.61 570.69,693.83 C571.48,694.05 572.14,694.58 572.80,694.36 C573.45,694.14 574.02,693.13 574.64,692.52 C575.25,691.91 575.82,690.81 576.47,690.68 C577.13,690.55 577.79,691.64 578.58,691.73 C579.36,691.82 580.33,691.64 581.20,691.20 C582.08,690.77 582.96,689.76 583.83,689.10 C584.71,688.45 585.58,687.88 586.46,687.26 C587.34,686.65 588.21,685.73 589.09,685.42 C589.96,685.12 590.84,685.69 591.72,685.42 C592.59,685.16 593.47,684.64 594.34,683.85 C595.22,683.06 596.09,681.66 596.97,680.69 C597.85,679.73 598.72,679.29 599.60,678.07 C600.47,676.84 601.35,674.56 602.23,673.34 C603.10,672.11 603.98,671.23 604.85,670.71 C605.73,670.18 606.69,670.93 607.48,670.18 C608.27,669.44 608.71,667.47 609.58,666.24 C610.46,665.01 611.77,663.92 612.74,662.82 C613.70,661.73 614.58,660.85 615.36,659.67 C616.15,658.49 616.81,656.61 617.47,655.73 C618.12,654.85 618.69,654.55 619.31,654.42 C619.92,654.28 620.49,654.15 621.15,654.94 C621.80,655.73 622.46,657.04 623.25,659.15 C624.04,661.25 625.00,664.62 625.88,667.55 C626.75,670.49 627.63,673.69 628.50,676.75 C629.38,679.82 630.39,682.45 631.13,685.95 C631.88,689.45 632.23,694.49 632.97,697.77 C633.72,701.06 634.59,702.81 635.60,705.66 C636.61,708.50 638.01,712.53 639.01,714.85 C640.02,717.18 640.77,718.18 641.64,719.58 C642.52,720.99 643.39,722.08 644.27,723.26 C645.15,724.45 646.02,725.67 646.90,726.68 C647.77,727.69 648.65,728.82 649.53,729.31 C650.40,729.79 651.28,729.35 652.15,729.57 C653.03,729.79 653.91,729.79 654.78,730.62 C655.66,731.45 656.53,733.60 657.41,734.56 C658.28,735.53 659.16,736.09 660.04,736.40 C660.91,736.71 661.79,736.14 662.66,736.40 C663.54,736.66 664.42,737.45 665.29,737.98 C666.17,738.50 666.82,739.25 667.92,739.55 C669.01,739.86 670.77,739.64 671.86,739.82 C672.96,739.99 673.61,740.26 674.49,740.61 C675.36,740.96 676.24,741.39 677.12,741.92 C677.99,742.45 679.00,743.15 679.74,743.76 C680.49,744.37 680.93,745.51 681.58,745.60 C682.24,745.69 682.90,744.68 683.69,744.28 C684.47,743.89 685.88,743.41 686.31,743.23" fill="none" stroke="#6e80d3" stroke-width="0.95" stroke-linejoin="round"/>
<text transform="translate(537.1,649.04) scale(1,1.15)" text-anchor="end" class="t">3,000</text>
<text transform="translate(537.1,687.50) scale(1,1.15)" text-anchor="end" class="t">2,000</text>
<text transform="translate(537.1,725.97) scale(1,1.15)" text-anchor="end" class="t">1,000</text>
<text transform="translate(537.1,764.44) scale(1,1.15)" text-anchor="end" class="t">0</text>
<text transform="translate(541.4,770.77) scale(1,1.15)" text-anchor="middle" class="t">20</text>
<text transform="translate(563.6,770.77) scale(1,1.15)" text-anchor="middle" class="t">26</text>
<text transform="translate(585.7,770.77) scale(1,1.15)" text-anchor="middle" class="t">32</text>
<text transform="translate(607.9,770.77) scale(1,1.15)" text-anchor="middle" class="t">38</text>
<text transform="translate(629.7,770.77) scale(1,1.15)" text-anchor="middle" class="t">44</text>
<text transform="translate(651.9,770.77) scale(1,1.15)" text-anchor="middle" class="t">50</text>
<text transform="translate(673.8,770.77) scale(1,1.15)" text-anchor="middle" class="t">56</text>
<line x1="571.5" x2="576.7" y1="639.9" y2="639.9" stroke="#6e80d3" stroke-width="1.1"/>
<text x="578.7" y="641.5" class="lg">HiFi Read Quality Distribution</text>
<line x1="21.0" x2="168.2" y1="803.30" y2="803.30" stroke="#f0f0f0" stroke-width="1"/>
<line x1="21.0" x2="168.2" y1="818.87" y2="818.87" stroke="#f0f0f0" stroke-width="1"/>
<line x1="21.0" x2="168.2" y1="834.44" y2="834.44" stroke="#f0f0f0" stroke-width="1"/>
<line x1="21.0" x2="168.2" y1="850.01" y2="850.01" stroke="#f0f0f0" stroke-width="1"/>
<line x1="21.0" x2="168.2" y1="865.59" y2="865.59" stroke="#f0f0f0" stroke-width="1"/>
<line x1="21.0" x2="168.2" y1="881.16" y2="881.16" stroke="#f0f0f0" stroke-width="1"/>
<line x1="21.0" x2="168.2" y1="896.73" y2="896.73" stroke="#f0f0f0" stroke-width="1"/>
<line x1="21.0" x2="168.2" y1="912.30" y2="912.30" stroke="#f0f0f0" stroke-width="1"/>
<path d="M23.3,912.3 L23.3,912.6 L24.3,912.6 L25.3,912.6 L26.3,912.6 L27.3,912.6 L28.3,912.6 L29.3,912.6 L30.3,912.6 L31.3,912.6 L32.3,912.6 L33.3,912.6 L34.3,912.6 L35.3,912.6 L36.3,912.6 L37.3,912.6 L38.3,912.6 L39.3,912.6 L40.3,912.6 L41.4,912.6 L42.4,912.6 L43.4,912.6 L44.4,912.6 L45.4,912.6 L46.4,912.6 L47.4,912.6 L48.5,910.1 L49.6,907.4 L50.7,903.2 L51.8,899.1 L52.8,899.1 L53.9,900.1 L55.0,898.0 L56.1,896.4 L57.2,897.0 L58.3,896.3 L59.4,896.2 L60.5,894.5 L61.6,894.4 L62.7,893.5 L63.8,891.1 L64.9,891.8 L66.0,890.8 L67.1,891.9 L68.2,888.5 L69.3,886.8 L70.4,886.6 L71.5,883.9 L72.6,883.0 L73.6,880.0 L74.7,879.6 L75.8,879.4 L76.9,877.9 L78.0,875.6 L79.1,872.5 L80.2,872.8 L81.3,870.6 L82.4,869.3 L83.5,866.5 L84.6,866.6 L85.7,863.9 L86.8,861.5 L87.9,859.5 L89.0,855.2 L90.1,854.6 L91.2,852.3 L92.3,853.9 L93.4,846.3 L94.5,846.4 L95.5,844.2 L96.6,840.5 L97.7,835.0 L98.8,837.2 L99.9,832.6 L100.7,833.0 L101.5,827.7 L102.8,827.0 L103.5,830.7 L104.3,831.6 L105.4,823.2 L106.3,821.5 L107.2,822.3 L107.9,822.1 L108.7,819.4 L109.8,817.5 L110.9,816.1 L112.0,817.0 L113.1,815.8 L113.7,811.6 L114.6,813.0 L115.5,814.9 L116.4,818.4 L117.4,814.6 L118.5,818.9 L119.6,819.4 L120.7,822.1 L121.8,824.1 L122.9,823.5 L123.8,827.4 L124.7,826.4 L125.4,827.6 L126.2,824.3 L127.3,828.1 L128.4,828.5 L129.5,828.3 L130.6,835.4 L131.7,840.2 L132.8,842.2 L133.9,849.4 L135.0,850.0 L136.1,850.4 L137.2,857.1 L138.2,857.1 L139.3,859.9 L140.4,866.0 L141.5,870.0 L142.6,870.7 L143.7,874.9 L144.8,879.8 L145.9,880.1 L147.0,886.1 L148.1,888.1 L149.2,891.8 L150.3,893.7 L151.4,896.1 L152.5,898.7 L153.6,901.4 L154.7,901.7 L155.8,901.9 L156.9,903.2 L158.0,905.0 L159.1,907.8 L160.1,912.6 L161.1,912.6 L162.1,912.6 L163.1,912.6 L164.0,912.6 L165.0,912.6 L166.0,912.6 L167.0,912.6 L167.9,912.6 L168.9,912.6 L168.9,912.3 Z" fill="rgba(75,192,192,0.3)" stroke="none"/>
<path d="M23.3,912.6 L24.3,912.6 L25.3,912.6 L26.3,912.6 L27.3,912.6 L28.3,912.6 L29.3,912.6 L30.3,912.6 L31.3,912.6 L32.3,912.6 L33.3,912.6 L34.3,912.6 L35.3,912.6 L36.3,912.6 L37.3,912.6 L38.3,912.6 L39.3,912.6 L40.3,912.6 L41.4,912.6 L42.4,912.6 L43.4,912.6 L44.4,912.6 L45.4,912.6 L46.4,912.6 L47.4,912.6 L48.5,910.1 L49.6,907.4 L50.7,903.2 L51.8,899.1 L52.8,899.1 L53.9,900.1 L55.0,898.0 L56.1,896.4 L57.2,897.0 L58.3,896.3 L59.4,896.2 L60.5,894.5 L61.6,894.4 L62.7,893.5 L63.8,891.1 L64.9,891.8 L66.0,890.8 L67.1,891.9 L68.2,888.5 L69.3,886.8 L70.4,886.6 L71.5,883.9 L72.6,883.0 L73.6,880.0 L74.7,879.6 L75.8,879.4 L76.9,877.9 L78.0,875.6 L79.1,872.5 L80.2,872.8 L81.3,870.6 L82.4,869.3 L83.5,866.5 L84.6,866.6 L85.7,863.9 L86.8,861.5 L87.9,859.5 L89.0,855.2 L90.1,854.6 L91.2,852.3 L92.3,853.9 L93.4,846.3 L94.5,846.4 L95.5,844.2 L96.6,840.5 L97.7,835.0 L98.8,837.2 L99.9,832.6 L100.7,833.0 L101.5,827.7 L102.8,827.0 L103.5,830.7 L104.3,831.6 L105.4,823.2 L106.3,821.5 L107.2,822.3 L107.9,822.1 L108.7,819.4 L109.8,817.5 L110.9,816.1 L112.0,817.0 L113.1,815.8 L113.7,811.6 L114.6,813.0 L115.5,814.9 L116.4,818.4 L117.4,814.6 L118.5,818.9 L119.6,819.4 L120.7,822.1 L121.8,824.1 L122.9,823.5 L123.8,827.4 L124.7,826.4 L125.4,827.6 L126.2,824.3 L127.3,828.1 L128.4,828.5 L129.5,828.3 L130.6,835.4 L131.7,840.2 L132.8,842.2 L133.9,849.4 L135.0,850.0 L136.1,850.4 L137.2,857.1 L138.2,857.1 L139.3,859.9 L140.4,866.0 L141.5,870.0 L142.6,870.7 L143.7,874.9 L144.8,879.8 L145.9,880.1 L147.0,886.1 L148.1,888.1 L149.2,891.8 L150.3,893.7 L151.4,896.1 L152.5,898.7 L153.6,901.4 L154.7,901.7 L155.8,901.9 L156.9,903.2 L158.0,905.0 L159.1,907.8 L160.1,912.6 L161.1,912.6 L162.1,912.6 L163.1,912.6 L164.0,912.6 L165.0,912.6 L166.0,912.6 L167.0,912.6 L167.9,912.6 L168.9,912.6" fill="none" stroke="#3aaca9" stroke-width="0.95" stroke-linejoin="round"/>
<text transform="translate(20.5,822.21) scale(1,1.15)" text-anchor="end" class="t">1,200</text>
<text transform="translate(20.5,853.35) scale(1,1.15)" text-anchor="end" class="t">800</text>
<text transform="translate(20.5,884.49) scale(1,1.15)" text-anchor="end" class="t">400</text>
<text transform="translate(20.5,915.63) scale(1,1.15)" text-anchor="end" class="t">0</text>
<text transform="translate(45.2,917.9) scale(1,1.15) rotate(-45)" text-anchor="end" class="t">1600</text>
<text transform="translate(59.7,917.9) scale(1,1.15) rotate(-45)" text-anchor="end" class="t">3200</text>
<text transform="translate(74.2,917.9) scale(1,1.15) rotate(-45)" text-anchor="end" class="t">4800</text>
<text transform="translate(88.7,917.9) scale(1,1.15) rotate(-45)" text-anchor="end" class="t">6400</text>
<text transform="translate(103.2,917.9) scale(1,1.15) rotate(-45)" text-anchor="end" class="t">8000</text>
<text transform="translate(117.7,917.9) scale(1,1.15) rotate(-45)" text-anchor="end" class="t">9600</text>
<text transform="translate(132.2,917.9) scale(1,1.15) rotate(-45)" text-anchor="end" class="t">11200</text>
<text transform="translate(146.7,917.9) scale(1,1.15) rotate(-45)" text-anchor="end" class="t">12800</text>
<text transform="translate(161.2,917.9) scale(1,1.15) rotate(-45)" text-anchor="end" class="t">14400</text>
<line x1="55.5" x2="60.7" y1="798.5" y2="798.5" stroke="#3aaca9" stroke-width="1.1"/>
<text x="62.7" y="800.1" class="lg">HiFi Read Length Distribution</text>
<line x1="194.1" x2="338.4" y1="803.20" y2="803.20" stroke="#f0f0f0" stroke-width="1"/>
<line x1="194.1" x2="338.4" y1="820.75" y2="820.75" stroke="#f0f0f0" stroke-width="1"/>
<line x1="194.1" x2="338.4" y1="838.30" y2="838.30" stroke="#f0f0f0" stroke-width="1"/>
<line x1="194.1" x2="338.4" y1="855.85" y2="855.85" stroke="#f0f0f0" stroke-width="1"/>
<line x1="194.1" x2="338.4" y1="873.40" y2="873.40" stroke="#f0f0f0" stroke-width="1"/>
<line x1="194.1" x2="338.4" y1="890.95" y2="890.95" stroke="#f0f0f0" stroke-width="1"/>
<line x1="194.1" x2="338.4" y1="908.50" y2="908.50" stroke="#f0f0f0" stroke-width="1"/>
<path d="M194.1,908.5 L194.12,848.17 C194.60,848.03 196.02,847.31 196.97,847.31 C197.92,847.31 198.87,847.93 199.82,848.17 C200.77,848.41 201.72,848.74 202.66,848.74 C203.61,848.74 204.56,848.50 205.51,848.17 C206.46,847.84 207.50,847.60 208.36,846.74 C209.21,845.89 209.92,843.85 210.64,843.04 C211.35,842.24 211.92,841.76 212.63,841.91 C213.34,842.05 214.05,843.90 214.91,843.90 C215.76,843.90 216.95,842.14 217.75,841.91 C218.56,841.67 219.08,841.91 219.74,842.47 C220.41,843.04 221.03,844.61 221.74,845.32 C222.45,846.03 223.26,847.22 224.01,846.74 C224.77,846.27 225.44,843.76 226.29,842.47 C227.15,841.19 228.09,839.77 229.14,839.06 C230.18,838.35 231.51,838.20 232.55,838.20 C233.60,838.20 234.45,839.30 235.40,839.06 C236.35,838.82 237.30,837.40 238.25,836.78 C239.20,836.16 239.91,835.93 241.09,835.36 C242.28,834.79 244.18,833.98 245.36,833.36 C246.55,832.75 247.26,832.61 248.21,831.66 C249.16,830.71 250.25,828.95 251.06,827.67 C251.86,826.39 252.24,824.73 253.05,823.97 C253.86,823.21 255.04,823.59 255.90,823.12 C256.75,822.64 257.32,822.17 258.18,821.12 C259.03,820.08 260.07,818.51 261.02,816.85 C261.97,815.19 262.92,812.82 263.87,811.16 C264.82,809.50 265.77,807.84 266.72,806.89 C267.66,805.94 268.61,805.80 269.56,805.47 C270.51,805.14 271.55,805.14 272.41,804.90 C273.26,804.66 273.97,803.95 274.69,804.04 C275.40,804.14 276.01,804.28 276.68,805.47 C277.34,806.65 277.96,808.31 278.67,811.16 C279.38,814.01 280.09,818.28 280.95,822.55 C281.80,826.82 282.85,833.22 283.80,836.78 C284.74,840.34 285.69,842.00 286.64,843.90 C287.59,845.80 288.54,846.27 289.49,848.17 C290.44,850.07 291.39,852.91 292.34,855.28 C293.28,857.66 294.23,860.36 295.18,862.40 C296.13,864.44 297.08,866.10 298.03,867.53 C298.98,868.95 299.93,869.66 300.88,870.94 C301.82,872.22 302.77,873.88 303.72,875.21 C304.67,876.54 305.62,877.82 306.57,878.91 C307.52,880.00 308.47,881.19 309.42,881.76 C310.36,882.33 311.31,882.00 312.26,882.33 C313.21,882.66 314.16,883.04 315.11,883.75 C316.06,884.46 317.01,885.79 317.96,886.60 C318.91,887.41 319.85,888.45 320.80,888.59 C321.75,888.73 322.70,887.78 323.65,887.45 C324.60,887.12 325.55,886.60 326.50,886.60 C327.45,886.60 328.39,886.98 329.34,887.45 C330.29,887.93 331.24,888.64 332.19,889.45 C333.14,890.25 334.32,891.96 335.04,892.29 C335.75,892.62 335.89,891.77 336.46,891.44 C337.03,891.11 338.12,890.49 338.45,890.30 L338.5,908.5 Z" fill="rgba(85,98,195,0.3)" stroke="none"/>
<path d="M194.12,848.17 C194.60,848.03 196.02,847.31 196.97,847.31 C197.92,847.31 198.87,847.93 199.82,848.17 C200.77,848.41 201.72,848.74 202.66,848.74 C203.61,848.74 204.56,848.50 205.51,848.17 C206.46,847.84 207.50,847.60 208.36,846.74 C209.21,845.89 209.92,843.85 210.64,843.04 C211.35,842.24 211.92,841.76 212.63,841.91 C213.34,842.05 214.05,843.90 214.91,843.90 C215.76,843.90 216.95,842.14 217.75,841.91 C218.56,841.67 219.08,841.91 219.74,842.47 C220.41,843.04 221.03,844.61 221.74,845.32 C222.45,846.03 223.26,847.22 224.01,846.74 C224.77,846.27 225.44,843.76 226.29,842.47 C227.15,841.19 228.09,839.77 229.14,839.06 C230.18,838.35 231.51,838.20 232.55,838.20 C233.60,838.20 234.45,839.30 235.40,839.06 C236.35,838.82 237.30,837.40 238.25,836.78 C239.20,836.16 239.91,835.93 241.09,835.36 C242.28,834.79 244.18,833.98 245.36,833.36 C246.55,832.75 247.26,832.61 248.21,831.66 C249.16,830.71 250.25,828.95 251.06,827.67 C251.86,826.39 252.24,824.73 253.05,823.97 C253.86,823.21 255.04,823.59 255.90,823.12 C256.75,822.64 257.32,822.17 258.18,821.12 C259.03,820.08 260.07,818.51 261.02,816.85 C261.97,815.19 262.92,812.82 263.87,811.16 C264.82,809.50 265.77,807.84 266.72,806.89 C267.66,805.94 268.61,805.80 269.56,805.47 C270.51,805.14 271.55,805.14 272.41,804.90 C273.26,804.66 273.97,803.95 274.69,804.04 C275.40,804.14 276.01,804.28 276.68,805.47 C277.34,806.65 277.96,808.31 278.67,811.16 C279.38,814.01 280.09,818.28 280.95,822.55 C281.80,826.82 282.85,833.22 283.80,836.78 C284.74,840.34 285.69,842.00 286.64,843.90 C287.59,845.80 288.54,846.27 289.49,848.17 C290.44,850.07 291.39,852.91 292.34,855.28 C293.28,857.66 294.23,860.36 295.18,862.40 C296.13,864.44 297.08,866.10 298.03,867.53 C298.98,868.95 299.93,869.66 300.88,870.94 C301.82,872.22 302.77,873.88 303.72,875.21 C304.67,876.54 305.62,877.82 306.57,878.91 C307.52,880.00 308.47,881.19 309.42,881.76 C310.36,882.33 311.31,882.00 312.26,882.33 C313.21,882.66 314.16,883.04 315.11,883.75 C316.06,884.46 317.01,885.79 317.96,886.60 C318.91,887.41 319.85,888.45 320.80,888.59 C321.75,888.73 322.70,887.78 323.65,887.45 C324.60,887.12 325.55,886.60 326.50,886.60 C327.45,886.60 328.39,886.98 329.34,887.45 C330.29,887.93 331.24,888.64 332.19,889.45 C333.14,890.25 334.32,891.96 335.04,892.29 C335.75,892.62 335.89,891.77 336.46,891.44 C337.03,891.11 338.12,890.49 338.45,890.30" fill="none" stroke="#6e80d3" stroke-width="0.95" stroke-linejoin="round"/>
<text transform="translate(192.1,806.54) scale(1,1.15)" text-anchor="end" class="t">3,000</text>
<text transform="translate(192.1,841.64) scale(1,1.15)" text-anchor="end" class="t">2,000</text>
<text transform="translate(192.1,876.74) scale(1,1.15)" text-anchor="end" class="t">1,000</text>
<text transform="translate(192.1,911.84) scale(1,1.15)" text-anchor="end" class="t">0</text>
<text transform="translate(194.9,918.48) scale(1,1.15)" text-anchor="middle" class="t">20</text>
<text transform="translate(216.9,918.48) scale(1,1.15)" text-anchor="middle" class="t">26</text>
<text transform="translate(239.0,918.48) scale(1,1.15)" text-anchor="middle" class="t">32</text>
<text transform="translate(261.2,918.48) scale(1,1.15)" text-anchor="middle" class="t">38</text>
<text transform="translate(283.1,918.48) scale(1,1.15)" text-anchor="middle" class="t">44</text>
<text transform="translate(305.3,918.48) scale(1,1.15)" text-anchor="middle" class="t">50</text>
<text transform="translate(327.2,918.48) scale(1,1.15)" text-anchor="middle" class="t">56</text>
<line x1="224.9" x2="230.1" y1="798.0" y2="798.0" stroke="#6e80d3" stroke-width="1.1"/>
<text x="232.1" y="799.6" class="lg">HiFi Read Quality Distribution</text>
<line x1="370.5" x2="518.7" y1="814.60" y2="814.60" stroke="#f0f0f0" stroke-width="1"/>
<line x1="370.5" x2="518.7" y1="829.04" y2="829.04" stroke="#f0f0f0" stroke-width="1"/>
<line x1="370.5" x2="518.7" y1="843.49" y2="843.49" stroke="#f0f0f0" stroke-width="1"/>
<line x1="370.5" x2="518.7" y1="857.93" y2="857.93" stroke="#f0f0f0" stroke-width="1"/>
<line x1="370.5" x2="518.7" y1="872.37" y2="872.37" stroke="#f0f0f0" stroke-width="1"/>
<line x1="370.5" x2="518.7" y1="886.81" y2="886.81" stroke="#f0f0f0" stroke-width="1"/>
<line x1="370.5" x2="518.7" y1="901.26" y2="901.26" stroke="#f0f0f0" stroke-width="1"/>
<line x1="370.5" x2="518.7" y1="915.70" y2="915.70" stroke="#f0f0f0" stroke-width="1"/>
<path d="M371.1,915.7 L371.1,915.6 L372.1,915.6 L373.1,915.6 L374.2,915.6 L375.2,915.6 L376.2,915.6 L377.3,915.6 L378.3,915.6 L379.3,915.6 L380.3,915.6 L381.4,915.6 L382.4,915.6 L383.4,915.6 L384.4,915.6 L385.5,915.6 L386.5,915.6 L387.5,915.6 L388.6,912.3 L389.7,902.3 L390.8,889.5 L391.5,882.8 L392.2,880.8 L393.0,880.2 L394.1,879.6 L395.2,875.3 L396.3,871.7 L397.4,870.6 L398.5,869.0 L399.6,864.1 L400.7,867.1 L401.8,860.5 L402.8,859.2 L403.9,856.9 L405.0,852.2 L406.1,849.7 L407.2,845.0 L407.9,844.0 L409.0,850.7 L409.9,847.2 L411.2,845.6 L411.9,843.8 L412.7,846.5 L413.8,843.7 L414.9,842.4 L416.0,838.6 L417.1,836.0 L418.2,828.7 L419.3,834.8 L420.4,828.4 L421.5,826.4 L422.6,826.8 L423.6,822.7 L424.7,824.1 L425.8,826.4 L426.9,826.3 L428.0,825.6 L429.1,829.0 L430.2,820.2 L430.9,815.5 L431.8,821.4 L433.1,824.7 L433.9,825.0 L435.3,825.7 L436.0,825.4 L436.8,830.0 L437.9,822.3 L439.0,827.1 L439.6,820.7 L440.5,816.2 L441.4,832.6 L442.3,826.9 L443.4,831.9 L444.5,830.3 L445.5,836.5 L446.6,828.7 L447.7,837.6 L448.8,833.2 L449.9,837.6 L451.0,835.6 L452.1,842.2 L453.2,843.6 L453.9,843.2 L454.7,850.5 L455.8,851.8 L457.2,848.2 L458.0,853.4 L458.7,857.9 L459.8,857.9 L460.9,861.3 L462.0,862.4 L463.1,867.6 L464.2,866.6 L465.3,868.2 L466.4,869.3 L467.4,870.4 L468.5,873.7 L469.6,875.1 L470.7,881.9 L471.8,878.3 L472.9,877.4 L474.0,882.6 L475.1,883.7 L476.2,885.3 L477.3,885.8 L478.4,887.0 L479.5,888.6 L480.6,891.4 L481.7,891.1 L482.8,892.2 L483.9,896.6 L485.0,896.3 L486.1,896.1 L487.2,900.0 L488.2,900.2 L489.3,899.8 L490.4,900.5 L491.5,902.0 L492.6,901.8 L493.7,902.2 L494.8,902.6 L495.9,903.7 L497.0,905.4 L498.1,904.9 L499.2,904.8 L500.3,906.4 L501.4,906.2 L502.5,907.0 L503.6,907.5 L504.7,904.5 L505.8,907.8 L506.9,908.4 L508.0,908.4 L509.1,910.0 L510.1,912.8 L511.2,915.6 L512.2,915.6 L513.2,915.6 L514.1,915.6 L515.1,915.6 L516.0,915.6 L517.0,915.6 L517.9,915.6 L518.9,915.6 L518.9,915.7 Z" fill="rgba(75,192,192,0.3)" stroke="none"/>
<path d="M371.1,915.6 L372.1,915.6 L373.1,915.6 L374.2,915.6 L375.2,915.6 L376.2,915.6 L377.3,915.6 L378.3,915.6 L379.3,915.6 L380.3,915.6 L381.4,915.6 L382.4,915.6 L383.4,915.6 L384.4,915.6 L385.5,915.6 L386.5,915.6 L387.5,915.6 L388.6,912.3 L389.7,902.3 L390.8,889.5 L391.5,882.8 L392.2,880.8 L393.0,880.2 L394.1,879.6 L395.2,875.3 L396.3,871.7 L397.4,870.6 L398.5,869.0 L399.6,864.1 L400.7,867.1 L401.8,860.5 L402.8,859.2 L403.9,856.9 L405.0,852.2 L406.1,849.7 L407.2,845.0 L407.9,844.0 L409.0,850.7 L409.9,847.2 L411.2,845.6 L411.9,843.8 L412.7,846.5 L413.8,843.7 L414.9,842.4 L416.0,838.6 L417.1,836.0 L418.2,828.7 L419.3,834.8 L420.4,828.4 L421.5,826.4 L422.6,826.8 L423.6,822.7 L424.7,824.1 L425.8,826.4 L426.9,826.3 L428.0,825.6 L429.1,829.0 L430.2,820.2 L430.9,815.5 L431.8,821.4 L433.1,824.7 L433.9,825.0 L435.3,825.7 L436.0,825.4 L436.8,830.0 L437.9,822.3 L439.0,827.1 L439.6,820.7 L440.5,816.2 L441.4,832.6 L442.3,826.9 L443.4,831.9 L444.5,830.3 L445.5,836.5 L446.6,828.7 L447.7,837.6 L448.8,833.2 L449.9,837.6 L451.0,835.6 L452.1,842.2 L453.2,843.6 L453.9,843.2 L454.7,850.5 L455.8,851.8 L457.2,848.2 L458.0,853.4 L458.7,857.9 L459.8,857.9 L460.9,861.3 L462.0,862.4 L463.1,867.6 L464.2,866.6 L465.3,868.2 L466.4,869.3 L467.4,870.4 L468.5,873.7 L469.6,875.1 L470.7,881.9 L471.8,878.3 L472.9,877.4 L474.0,882.6 L475.1,883.7 L476.2,885.3 L477.3,885.8 L478.4,887.0 L479.5,888.6 L480.6,891.4 L481.7,891.1 L482.8,892.2 L483.9,896.6 L485.0,896.3 L486.1,896.1 L487.2,900.0 L488.2,900.2 L489.3,899.8 L490.4,900.5 L491.5,902.0 L492.6,901.8 L493.7,902.2 L494.8,902.6 L495.9,903.7 L497.0,905.4 L498.1,904.9 L499.2,904.8 L500.3,906.4 L501.4,906.2 L502.5,907.0 L503.6,907.5 L504.7,904.5 L505.8,907.8 L506.9,908.4 L508.0,908.4 L509.1,910.0 L510.1,912.8 L511.2,915.6 L512.2,915.6 L513.2,915.6 L514.1,915.6 L515.1,915.6 L516.0,915.6 L517.0,915.6 L517.9,915.6 L518.9,915.6" fill="none" stroke="#3aaca9" stroke-width="0.95" stroke-linejoin="round"/>
<text transform="translate(368.8,817.94) scale(1,1.15)" text-anchor="end" class="t">700</text>
<text transform="translate(368.8,832.38) scale(1,1.15)" text-anchor="end" class="t">600</text>
<text transform="translate(368.8,846.82) scale(1,1.15)" text-anchor="end" class="t">500</text>
<text transform="translate(368.8,861.26) scale(1,1.15)" text-anchor="end" class="t">400</text>
<text transform="translate(368.8,875.71) scale(1,1.15)" text-anchor="end" class="t">300</text>
<text transform="translate(368.8,890.15) scale(1,1.15)" text-anchor="end" class="t">200</text>
<text transform="translate(368.8,904.59) scale(1,1.15)" text-anchor="end" class="t">100</text>
<text transform="translate(368.8,919.04) scale(1,1.15)" text-anchor="end" class="t">0</text>
<text transform="translate(391.5,921.0) scale(1,1.15) rotate(-45)" text-anchor="end" class="t">2400</text>
<text transform="translate(405.5,921.0) scale(1,1.15) rotate(-45)" text-anchor="end" class="t">4800</text>
<text transform="translate(420.1,921.0) scale(1,1.15) rotate(-45)" text-anchor="end" class="t">7200</text>
<text transform="translate(433.6,921.0) scale(1,1.15) rotate(-45)" text-anchor="end" class="t">9600</text>
<text transform="translate(447.7,921.0) scale(1,1.15) rotate(-45)" text-anchor="end" class="t">12000</text>
<text transform="translate(461.7,921.0) scale(1,1.15) rotate(-45)" text-anchor="end" class="t">14400</text>
<text transform="translate(475.8,921.0) scale(1,1.15) rotate(-45)" text-anchor="end" class="t">16800</text>
<text transform="translate(489.9,921.0) scale(1,1.15) rotate(-45)" text-anchor="end" class="t">19200</text>
<text transform="translate(503.9,921.0) scale(1,1.15) rotate(-45)" text-anchor="end" class="t">21600</text>
<text transform="translate(517.2,921.0) scale(1,1.15) rotate(-45)" text-anchor="end" class="t">24000</text>
<line x1="405.3" x2="410.5" y1="809.4" y2="809.4" stroke="#3aaca9" stroke-width="1.1"/>
<text x="412.5" y="811.0" class="lg">HiFi Read Length Distribution</text>
<line x1="538.6" x2="685.0" y1="811.20" y2="811.20" stroke="#f0f0f0" stroke-width="1"/>
<line x1="538.6" x2="685.0" y1="826.40" y2="826.40" stroke="#f0f0f0" stroke-width="1"/>
<line x1="538.6" x2="685.0" y1="841.60" y2="841.60" stroke="#f0f0f0" stroke-width="1"/>
<line x1="538.6" x2="685.0" y1="856.80" y2="856.80" stroke="#f0f0f0" stroke-width="1"/>
<line x1="538.6" x2="685.0" y1="872.00" y2="872.00" stroke="#f0f0f0" stroke-width="1"/>
<line x1="538.6" x2="685.0" y1="887.20" y2="887.20" stroke="#f0f0f0" stroke-width="1"/>
<line x1="538.6" x2="685.0" y1="902.40" y2="902.40" stroke="#f0f0f0" stroke-width="1"/>
<line x1="538.6" x2="685.0" y1="917.60" y2="917.60" stroke="#f0f0f0" stroke-width="1"/>
<path d="M540.5,917.6 L540.47,872.91 C540.91,873.00 542.01,873.31 543.10,873.44 C544.20,873.57 545.73,873.66 547.04,873.70 C548.36,873.74 549.89,873.96 550.99,873.70 C552.08,873.44 552.74,872.82 553.61,872.12 C554.49,871.42 555.36,870.46 556.24,869.50 C557.12,868.53 557.99,867.53 558.87,866.34 C559.74,865.16 560.62,863.28 561.50,862.40 C562.37,861.53 563.25,861.74 564.12,861.09 C565.00,860.43 565.88,859.55 566.75,858.46 C567.63,857.36 568.50,855.61 569.38,854.52 C570.26,853.42 571.13,852.64 572.01,851.89 C572.88,851.15 573.76,850.80 574.64,850.05 C575.51,849.31 576.39,848.43 577.26,847.42 C578.14,846.42 579.01,845.23 579.89,844.01 C580.77,842.78 581.64,841.25 582.52,840.07 C583.39,838.88 584.27,837.79 585.15,836.91 C586.02,836.04 586.90,835.60 587.77,834.81 C588.65,834.02 589.53,833.15 590.40,832.18 C591.28,831.22 592.15,830.21 593.03,829.03 C593.91,827.85 594.78,825.88 595.66,825.09 C596.53,824.30 597.41,824.87 598.28,824.30 C599.16,823.73 600.17,822.46 600.91,821.67 C601.66,820.88 602.18,819.79 602.75,819.57 C603.32,819.35 603.76,819.79 604.33,820.36 C604.90,820.93 605.64,822.42 606.17,822.99 C606.69,823.55 606.91,823.99 607.48,823.77 C608.05,823.55 608.93,821.67 609.58,821.67 C610.24,821.67 610.90,822.68 611.42,823.77 C611.95,824.87 612.30,827.06 612.74,828.24 C613.18,829.42 613.39,830.21 614.05,830.87 C614.71,831.53 615.80,831.31 616.68,832.18 C617.55,833.06 618.43,833.93 619.31,836.12 C620.18,838.31 621.06,842.26 621.93,845.32 C622.81,848.39 623.69,851.45 624.56,854.52 C625.44,857.58 626.31,860.65 627.19,863.72 C628.07,866.78 628.94,870.07 629.82,872.91 C630.69,875.76 631.57,878.82 632.45,880.80 C633.32,882.77 634.20,883.73 635.07,884.74 C635.95,885.74 636.82,885.74 637.70,886.84 C638.58,887.93 639.45,889.82 640.33,891.31 C641.20,892.80 642.08,894.59 642.96,895.77 C643.83,896.96 644.71,897.96 645.58,898.40 C646.46,898.84 647.34,898.40 648.21,898.40 C649.09,898.40 649.96,898.05 650.84,898.40 C651.72,898.75 652.59,899.80 653.47,900.50 C654.34,901.20 655.22,901.95 656.09,902.61 C656.97,903.26 657.85,904.01 658.72,904.45 C659.60,904.88 660.26,905.01 661.35,905.23 C662.45,905.45 663.98,905.67 665.29,905.76 C666.61,905.85 668.14,905.76 669.23,905.76 C670.33,905.76 670.99,905.63 671.86,905.76 C672.74,905.89 673.61,906.20 674.49,906.55 C675.36,906.90 676.24,907.42 677.12,907.86 C677.99,908.30 678.87,908.87 679.74,909.18 C680.62,909.48 681.28,910.05 682.37,909.70 C683.47,909.35 685.66,907.51 686.31,907.07 L686.3,917.6 Z" fill="rgba(85,98,195,0.3)" stroke="none"/>
<path d="M540.47,872.91 C540.91,873.00 542.01,873.31 543.10,873.44 C544.20,873.57 545.73,873.66 547.04,873.70 C548.36,873.74 549.89,873.96 550.99,873.70 C552.08,873.44 552.74,872.82 553.61,872.12 C554.49,871.42 555.36,870.46 556.24,869.50 C557.12,868.53 557.99,867.53 558.87,866.34 C559.74,865.16 560.62,863.28 561.50,862.40 C562.37,861.53 563.25,861.74 564.12,861.09 C565.00,860.43 565.88,859.55 566.75,858.46 C567.63,857.36 568.50,855.61 569.38,854.52 C570.26,853.42 571.13,852.64 572.01,851.89 C572.88,851.15 573.76,850.80 574.64,850.05 C575.51,849.31 576.39,848.43 577.26,847.42 C578.14,846.42 579.01,845.23 579.89,844.01 C580.77,842.78 581.64,841.25 582.52,840.07 C583.39,838.88 584.27,837.79 585.15,836.91 C586.02,836.04 586.90,835.60 587.77,834.81 C588.65,834.02 589.53,833.15 590.40,832.18 C591.28,831.22 592.15,830.21 593.03,829.03 C593.91,827.85 594.78,825.88 595.66,825.09 C596.53,824.30 597.41,824.87 598.28,824.30 C599.16,823.73 600.17,822.46 600.91,821.67 C601.66,820.88 602.18,819.79 602.75,819.57 C603.32,819.35 603.76,819.79 604.33,820.36 C604.90,820.93 605.64,822.42 606.17,822.99 C606.69,823.55 606.91,823.99 607.48,823.77 C608.05,823.55 608.93,821.67 609.58,821.67 C610.24,821.67 610.90,822.68 611.42,823.77 C611.95,824.87 612.30,827.06 612.74,828.24 C613.18,829.42 613.39,830.21 614.05,830.87 C614.71,831.53 615.80,831.31 616.68,832.18 C617.55,833.06 618.43,833.93 619.31,836.12 C620.18,838.31 621.06,842.26 621.93,845.32 C622.81,848.39 623.69,851.45 624.56,854.52 C625.44,857.58 626.31,860.65 627.19,863.72 C628.07,866.78 628.94,870.07 629.82,872.91 C630.69,875.76 631.57,878.82 632.45,880.80 C633.32,882.77 634.20,883.73 635.07,884.74 C635.95,885.74 636.82,885.74 637.70,886.84 C638.58,887.93 639.45,889.82 640.33,891.31 C641.20,892.80 642.08,894.59 642.96,895.77 C643.83,896.96 644.71,897.96 645.58,898.40 C646.46,898.84 647.34,898.40 648.21,898.40 C649.09,898.40 649.96,898.05 650.84,898.40 C651.72,898.75 652.59,899.80 653.47,900.50 C654.34,901.20 655.22,901.95 656.09,902.61 C656.97,903.26 657.85,904.01 658.72,904.45 C659.60,904.88 660.26,905.01 661.35,905.23 C662.45,905.45 663.98,905.67 665.29,905.76 C666.61,905.85 668.14,905.76 669.23,905.76 C670.33,905.76 670.99,905.63 671.86,905.76 C672.74,905.89 673.61,906.20 674.49,906.55 C675.36,906.90 676.24,907.42 677.12,907.86 C677.99,908.30 678.87,908.87 679.74,909.18 C680.62,909.48 681.28,910.05 682.37,909.70 C683.47,909.35 685.66,907.51 686.31,907.07" fill="none" stroke="#6e80d3" stroke-width="0.95" stroke-linejoin="round"/>
<text transform="translate(537.8,829.74) scale(1,1.15)" text-anchor="end" class="t">3,000</text>
<text transform="translate(537.8,860.14) scale(1,1.15)" text-anchor="end" class="t">2,000</text>
<text transform="translate(537.8,890.54) scale(1,1.15)" text-anchor="end" class="t">1,000</text>
<text transform="translate(537.8,920.94) scale(1,1.15)" text-anchor="end" class="t">0</text>
<text transform="translate(541.4,926.77) scale(1,1.15)" text-anchor="middle" class="t">20</text>
<text transform="translate(563.6,926.77) scale(1,1.15)" text-anchor="middle" class="t">26</text>
<text transform="translate(585.7,926.77) scale(1,1.15)" text-anchor="middle" class="t">32</text>
<text transform="translate(607.9,926.77) scale(1,1.15)" text-anchor="middle" class="t">38</text>
<text transform="translate(629.7,926.77) scale(1,1.15)" text-anchor="middle" class="t">44</text>
<text transform="translate(651.9,926.77) scale(1,1.15)" text-anchor="middle" class="t">50</text>
<text transform="translate(673.8,926.77) scale(1,1.15)" text-anchor="middle" class="t">56</text>
<line x1="571.5" x2="576.7" y1="806.9" y2="806.9" stroke="#6e80d3" stroke-width="1.1"/>
<text x="578.7" y="808.5" class="lg">HiFi Read Quality Distribution</text>
<rect x="684" y="0" width="1" height="937" fill="#fff" fill-opacity="0.6"/>
</svg></body></html>
